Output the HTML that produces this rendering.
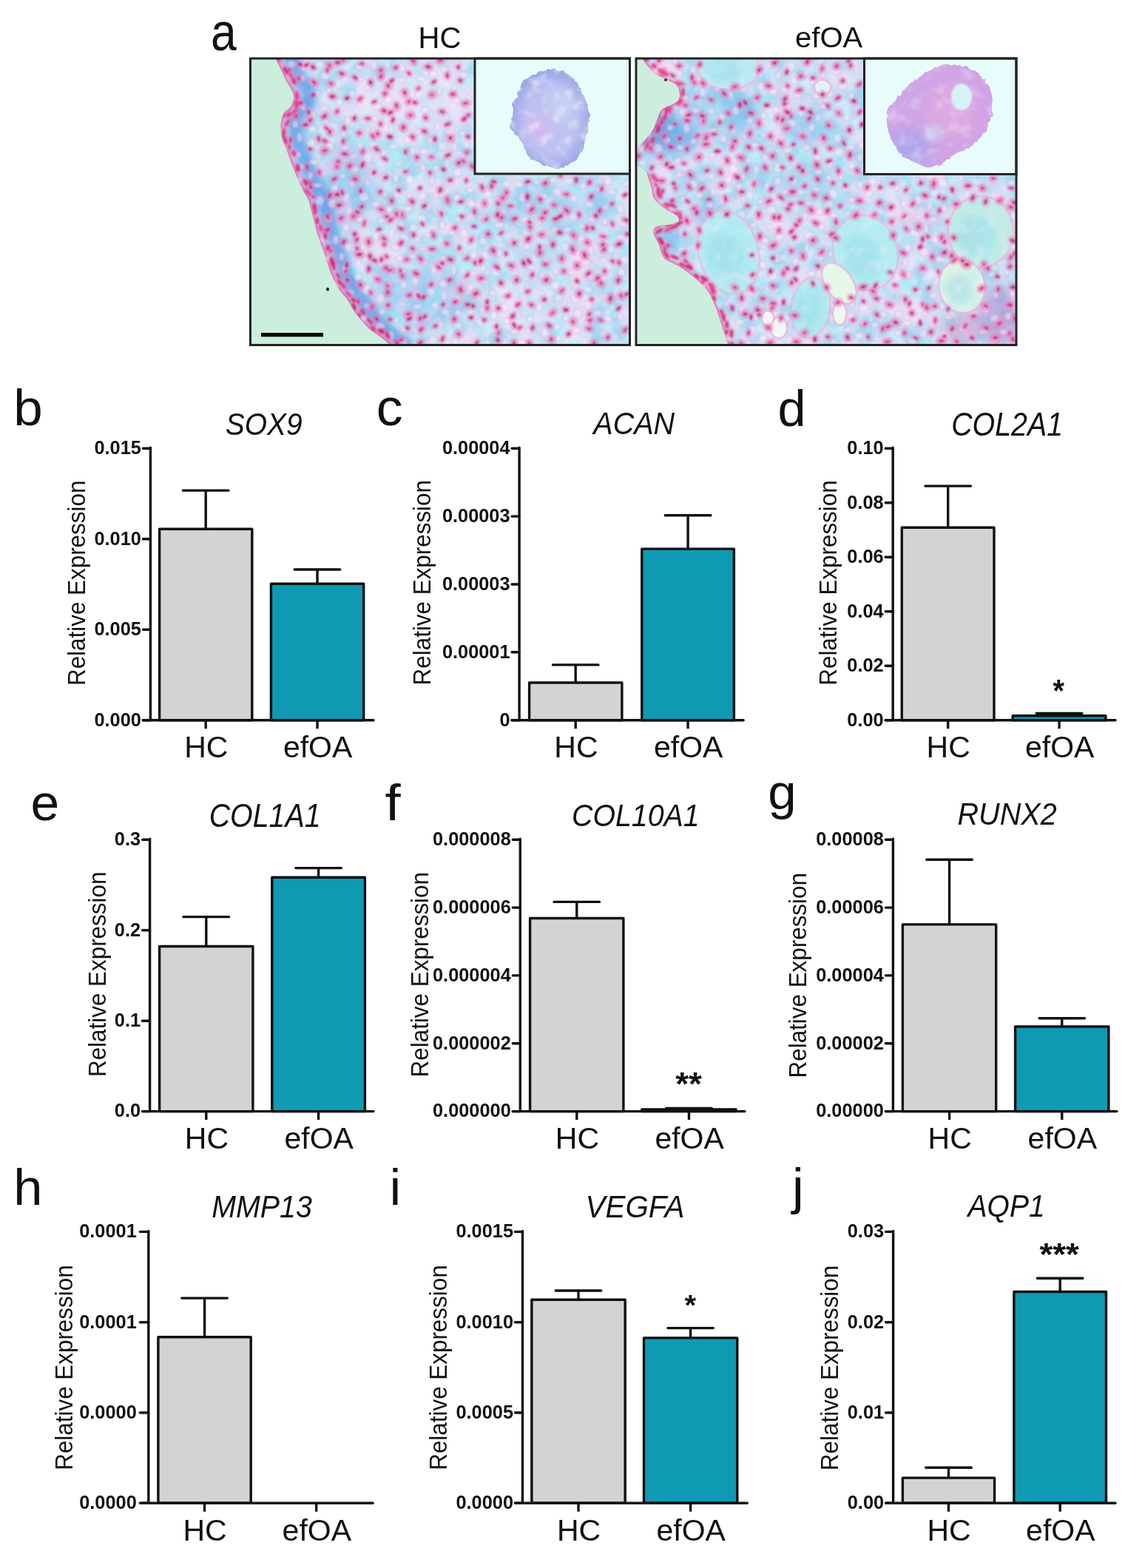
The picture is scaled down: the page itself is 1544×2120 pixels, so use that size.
<!DOCTYPE html>
<html><head><meta charset="utf-8"><title>Figure</title>
<style>
html,body{margin:0;padding:0;background:#fff;}
svg{display:block;}
text{font-family:'Liberation Sans', Arial, Helvetica, sans-serif;fill:#111;}
</style></head><body>
<svg width="1544" height="2120" viewBox="0 0 1544 2120">
<defs>
<filter id="mott1" x="0" y="0" width="1" height="1">
 <feTurbulence type="fractalNoise" baseFrequency="0.04" numOctaves="3" seed="4" result="n"/>
 <feColorMatrix in="n" type="matrix" values="0 0 0 0 0.42  0 0 0 0 0.84  0 0 0 0 0.95  3.6 0 0 0 -1.5"/>
</filter>
<filter id="mott2" x="0" y="0" width="1" height="1">
 <feTurbulence type="fractalNoise" baseFrequency="0.06" numOctaves="2" seed="9" result="n"/>
 <feColorMatrix in="n" type="matrix" values="0 0 0 0 0.90  0 0 0 0 0.88  0 0 0 0 0.98  0 3.0 0 0 -1.45"/>
</filter>
<filter id="mott3" x="0" y="0" width="1" height="1">
 <feTurbulence type="fractalNoise" baseFrequency="0.025" numOctaves="2" seed="21" result="n"/>
 <feColorMatrix in="n" type="matrix" values="0 0 0 0 0.95  0 0 0 0 0.74  0 0 0 0 0.91  0 0 3.0 0 -1.3"/>
</filter>
<filter id="mott4" x="0" y="0" width="1" height="1">
 <feTurbulence type="fractalNoise" baseFrequency="0.05" numOctaves="3" seed="33" result="n"/>
 <feColorMatrix in="n" type="matrix" values="0 0 0 0 0.76  0 0 0 0 0.74  0 0 0 0 0.95  0 0 0 2.8 -1.15"/>
</filter>
<filter id="bl1"><feGaussianBlur stdDeviation="0.9"/></filter>
<filter id="bl2" x="-20%" y="-20%" width="140%" height="140%"><feGaussianBlur stdDeviation="1.8"/></filter>
<filter id="bl4" x="-60%" y="-60%" width="220%" height="220%"><feGaussianBlur stdDeviation="4"/></filter>
<filter id="bl8" x="-80%" y="-80%" width="260%" height="260%"><feGaussianBlur stdDeviation="8"/></filter>
<clipPath id="cp1"><rect x="340" y="80" width="510" height="385" /></clipPath><clipPath id="ct1"><path d="M371 76C372.4 78.9 377.2 88.2 379.7 93.5C382.2 98.8 383.4 102.2 386.2 107.8C389 113.4 395.3 121.4 396.6 127.2C397.9 133 396.2 138.5 394 142.8C391.8 147.1 386 148.8 383.6 153.1C381.2 157.4 380.1 163.3 379.7 168.7C379.3 174.1 379.7 179.9 381 185.5C382.3 191.1 385.3 196.6 387.5 202.4C389.7 208.2 391.6 214.2 394 220.5C396.4 226.8 399 233.4 401.8 239.9C404.6 246.4 408.3 254.3 410.8 259.3C413.3 264.3 415.3 265.7 417 270C418.7 274.3 418.9 277.1 421 285C423.1 292.9 426.6 307.7 429.7 317.7C432.8 327.7 436.4 336.6 439.4 345.2C442.4 353.8 444.9 362.9 447.5 369.5C450.1 376.1 452.6 380.6 455 385C457.4 389.4 459.6 392.7 462 396C464.4 399.3 467 401 469.7 404.9C472.4 408.8 475.1 414.9 478 419.4C480.9 423.9 483.9 427.7 487.4 431.8C490.9 435.9 494.5 440.4 498.8 444.2C503.1 448 509.2 451.5 513.3 454.6C517.4 457.7 520.3 460.2 523.6 462.9C526.9 465.6 531.4 469.6 533 471L860 470L860 70L371 70Z"/></clipPath><clipPath id="cb1"><path d="M744.0 93.4L747.4 94.1L750.4 94.5L752.3 94.1L756.9 94.8L759.9 94.4L761.9 96.2L764.6 98.4L766.3 99.4L769.3 102.1L772.7 102.5L775.4 104.1L777.0 107.0L778.0 111.1L780.2 113.0L783.4 117.0L784.2 120.0L786.6 122.5L787.3 126.1L789.4 129.4L791.0 131.6L791.5 134.6L792.4 137.7L794.0 141.8L794.3 145.0L795.6 147.5L797.1 150.9L797.1 154.0L798.5 156.4L798.3 159.6L797.3 164.2L795.5 167.3L795.4 170.2L794.2 172.6L793.8 177.3L793.2 180.2L793.7 183.8L792.1 186.1L791.7 190.0L790.4 193.2L790.9 196.6L788.0 199.6L786.5 201.6L785.7 205.4L783.7 208.3L782.4 210.3L780.4 213.0L777.4 214.9L775.8 218.2L772.4 218.6L771.1 221.3L767.5 222.7L765.3 225.6L762.1 225.9L758.6 227.7L755.7 228.0L754.0 228.4L751.0 228.8L747.9 227.5L744.1 226.0L741.3 225.7L738.6 224.1L736.8 223.8L733.5 221.8L729.5 221.0L726.3 219.0L722.9 217.4L719.6 217.5L717.3 215.6L715.0 212.0L712.8 208.8L712.4 206.7L710.1 203.5L709.2 200.2L707.5 197.2L705.5 194.0L703.8 190.5L703.0 187.7L700.7 185.0L698.8 182.5L695.4 180.5L693.3 178.8L691.2 177.1L691.2 173.2L690.4 169.0L690.7 165.4L690.7 162.3L692.1 159.0L692.9 156.3L692.7 152.5L692.8 149.9L693.0 145.5L691.6 142.0L693.6 138.1L695.6 135.9L697.4 132.7L699.3 130.3L700.6 127.0L700.9 122.9L702.9 120.4L703.9 117.3L705.8 113.0L706.9 110.1L708.6 108.0L711.5 106.1L713.7 103.9L716.5 102.5L719.9 101.7L722.4 101.0L725.1 99.1L728.6 97.9L731.5 97.4L734.8 95.2L738.1 94.3L740.9 93.7Z"/></clipPath><clipPath id="cp2"><rect x="861.5" y="80" width="511.0" height="385" /></clipPath><clipPath id="ct2"><path d="M869.4 78C869.5 78.7 867.4 78.5 870 82C872.6 85.5 879.6 94.4 884.9 98.7C890.2 103 896.5 104.8 901.7 107.8C906.9 110.8 913.2 112.8 916 116.9C918.8 121 919.5 128.5 918.6 132.4C917.7 136.3 914.7 137.6 910.8 140.2C906.9 142.8 899 144.6 895.3 148C891.6 151.4 891 156.2 888.8 160.9C886.6 165.6 885.1 171.7 882.3 176.4C879.5 181.2 875.2 185.5 872 189.4C868.8 193.3 864.4 198.1 862.9 199.8L858 206L858 221L874.5 233.4C875.1 235.6 877.2 242.5 878.4 246.4C879.6 250.3 880.7 253.7 881.5 257C882.3 260.3 881.4 262.8 883 266C884.6 269.2 887.3 272.7 891 276C894.7 279.3 901 283 905 285.6C909 288.2 912.9 289.4 915 291.5C917.1 293.6 918.8 296.5 917.5 298.5C916.2 300.5 911.6 302.3 907 303.5C902.4 304.7 894 304.2 890 305.5C886 306.8 883.7 308.9 883 311.5C882.3 314.1 884.7 317.8 886 321C887.3 324.2 889.7 327.7 891 331C892.3 334.3 892.7 337.8 894 341C895.3 344.2 896.3 347.5 899 350C901.7 352.5 906.3 354 910 356C913.7 358 916.1 358.5 921.2 362C926.3 365.5 934.8 371.8 940.6 376.8C946.4 381.9 951.6 385.8 956.1 392.3C960.6 398.8 964.5 407.9 967.8 415.7C971 423.5 973 431.2 975.6 439C978.2 446.8 981.6 457.1 983.3 462.3C985 467.5 985.5 468.7 986 470L1380 470L1380 70L869.4 70Z"/></clipPath><clipPath id="lc985341"><ellipse cx="985" cy="341" rx="39" ry="56" transform="rotate(-15 985 341)"/></clipPath><clipPath id="lc1096416"><ellipse cx="1096" cy="416" rx="25" ry="40" transform="rotate(8 1096 416)"/></clipPath><clipPath id="lc1170341"><ellipse cx="1170" cy="341.5" rx="42" ry="50" transform="rotate(-18 1170 341.5)"/></clipPath><clipPath id="lc1326313"><ellipse cx="1326" cy="313.5" rx="43" ry="47" transform="rotate(0 1326 313.5)"/></clipPath><clipPath id="lc1300387"><ellipse cx="1300.4" cy="387" rx="30" ry="35" transform="rotate(-10 1300.4 387)"/></clipPath><clipPath id="lc98592"><ellipse cx="985" cy="92" rx="40" ry="28" transform="rotate(0 985 92)"/></clipPath><clipPath id="cb2"><path d="M1275.4 87.7L1278.0 87.0L1280.3 87.8L1284.2 88.2L1287.1 88.4L1290.0 88.6L1293.9 88.2L1296.7 88.8L1299.2 88.8L1303.3 88.5L1306.4 89.4L1309.4 90.5L1311.1 92.8L1315.1 93.9L1316.9 95.1L1320.7 96.9L1324.1 99.0L1324.9 101.6L1327.1 104.4L1329.9 106.2L1331.4 108.9L1333.6 111.8L1334.3 113.2L1337.2 115.6L1339.1 117.6L1340.4 121.4L1339.9 124.8L1341.0 127.1L1342.1 130.1L1342.4 134.4L1342.9 136.3L1342.8 139.7L1341.8 144.4L1341.9 146.8L1341.3 150.3L1340.6 154.6L1340.2 157.0L1340.2 159.7L1339.4 162.3L1338.3 166.1L1336.7 168.9L1335.2 171.6L1334.7 173.8L1333.1 176.9L1330.8 178.4L1329.1 181.1L1326.6 184.3L1323.9 185.5L1321.6 188.9L1319.8 190.8L1317.8 194.3L1315.3 195.9L1313.6 197.6L1310.0 198.9L1307.6 199.8L1304.8 201.5L1302.8 203.0L1299.9 205.5L1297.7 206.0L1294.5 207.4L1291.5 209.4L1289.6 211.8L1286.2 212.1L1283.9 213.9L1280.6 216.7L1278.1 218.4L1276.0 220.5L1274.2 220.8L1270.5 223.9L1268.1 223.9L1265.2 225.3L1261.6 225.5L1257.9 226.1L1254.8 227.3L1252.3 225.2L1249.1 223.9L1245.1 223.4L1242.4 222.5L1239.4 220.9L1235.4 219.8L1232.2 217.9L1230.5 216.8L1227.3 214.5L1223.9 213.5L1219.9 212.2L1219.2 208.8L1217.0 206.2L1214.3 204.1L1212.0 201.6L1211.5 198.2L1209.5 195.3L1207.8 192.5L1206.4 189.7L1204.8 186.0L1201.9 184.1L1201.2 180.6L1199.9 176.9L1200.0 173.5L1200.6 171.6L1200.2 168.3L1198.8 164.2L1199.8 161.0L1199.8 158.4L1200.0 154.5L1199.7 152.0L1199.9 148.8L1200.4 145.2L1202.8 143.3L1205.5 140.4L1207.6 138.6L1211.0 136.0L1212.2 133.5L1214.2 131.3L1217.0 128.7L1218.0 125.8L1220.2 123.4L1222.2 121.7L1224.4 118.6L1227.2 116.6L1230.0 114.2L1232.4 113.2L1234.2 110.7L1237.1 107.8L1239.2 107.0L1241.9 105.0L1244.4 102.5L1246.9 100.9L1250.7 98.4L1252.9 97.6L1255.1 95.0L1258.5 94.5L1260.4 93.0L1263.1 91.0L1267.3 89.8L1270.0 89.8L1272.4 88.7Z"/></clipPath></defs>
<rect width="1544" height="2120" fill="#fff"/>
<g clip-path="url(#cp1)"><rect x="340" y="80" width="510" height="385" fill="#cbeedd"/><g clip-path="url(#ct1)"><rect x="340" y="80" width="510" height="385" fill="#a4d4f0"/><rect x="340" y="80" width="510" height="385" filter="url(#mott1)"/><rect x="340" y="80" width="510" height="385" filter="url(#mott4)" opacity="0.7"/><rect x="340" y="80" width="510" height="385" filter="url(#mott2)" opacity="0.55"/><rect x="340" y="80" width="510" height="385" filter="url(#mott3)" opacity="0.7"/><ellipse cx="470" cy="250" rx="35" ry="60" fill="#4aa0e6" opacity="0.25" filter="url(#bl8)"/><ellipse cx="570" cy="400" rx="70" ry="40" fill="#4aa6e8" opacity="0.2" filter="url(#bl8)"/><ellipse cx="750" cy="280" rx="80" ry="30" fill="#5cc4ec" opacity="0.2" filter="url(#bl8)"/><ellipse cx="560" cy="140" rx="80" ry="45" fill="#f0e6f8" opacity="0.55" filter="url(#bl8)"/><ellipse cx="700" cy="410" rx="60" ry="35" fill="#f2e8f8" opacity="0.4" filter="url(#bl8)"/><ellipse cx="800" cy="350" rx="40" ry="30" fill="#f0d8f0" opacity="0.4" filter="url(#bl8)"/><ellipse cx="520" cy="330" rx="30" ry="30" fill="#f0e8f8" opacity="0.3" filter="url(#bl8)"/><path d="M371 76C372.4 78.9 377.2 88.2 379.7 93.5C382.2 98.8 383.4 102.2 386.2 107.8C389 113.4 395.3 121.4 396.6 127.2C397.9 133 396.2 138.5 394 142.8C391.8 147.1 386 148.8 383.6 153.1C381.2 157.4 380.1 163.3 379.7 168.7C379.3 174.1 379.7 179.9 381 185.5C382.3 191.1 385.3 196.6 387.5 202.4C389.7 208.2 391.6 214.2 394 220.5C396.4 226.8 399 233.4 401.8 239.9C404.6 246.4 408.3 254.3 410.8 259.3C413.3 264.3 415.3 265.7 417 270C418.7 274.3 418.9 277.1 421 285C423.1 292.9 426.6 307.7 429.7 317.7C432.8 327.7 436.4 336.6 439.4 345.2C442.4 353.8 444.9 362.9 447.5 369.5C450.1 376.1 452.6 380.6 455 385C457.4 389.4 459.6 392.7 462 396C464.4 399.3 467 401 469.7 404.9C472.4 408.8 475.1 414.9 478 419.4C480.9 423.9 483.9 427.7 487.4 431.8C490.9 435.9 494.5 440.4 498.8 444.2C503.1 448 509.2 451.5 513.3 454.6C517.4 457.7 520.3 460.2 523.6 462.9C526.9 465.6 531.4 469.6 533 471" transform="translate(20,0)" stroke="#3a88e2" stroke-width="20" fill="none" opacity="0.6" filter="url(#bl4)"/><path d="M371 76C372.4 78.9 377.2 88.2 379.7 93.5C382.2 98.8 383.4 102.2 386.2 107.8C389 113.4 395.3 121.4 396.6 127.2C397.9 133 396.2 138.5 394 142.8C391.8 147.1 386 148.8 383.6 153.1C381.2 157.4 380.1 163.3 379.7 168.7C379.3 174.1 379.7 179.9 381 185.5C382.3 191.1 385.3 196.6 387.5 202.4C389.7 208.2 391.6 214.2 394 220.5C396.4 226.8 399 233.4 401.8 239.9C404.6 246.4 408.3 254.3 410.8 259.3C413.3 264.3 415.3 265.7 417 270C418.7 274.3 418.9 277.1 421 285C423.1 292.9 426.6 307.7 429.7 317.7C432.8 327.7 436.4 336.6 439.4 345.2C442.4 353.8 444.9 362.9 447.5 369.5C450.1 376.1 452.6 380.6 455 385C457.4 389.4 459.6 392.7 462 396C464.4 399.3 467 401 469.7 404.9C472.4 408.8 475.1 414.9 478 419.4C480.9 423.9 483.9 427.7 487.4 431.8C490.9 435.9 494.5 440.4 498.8 444.2C503.1 448 509.2 451.5 513.3 454.6C517.4 457.7 520.3 460.2 523.6 462.9C526.9 465.6 531.4 469.6 533 471" transform="translate(5,0)" stroke="#d7a0e6" stroke-width="8" fill="none" opacity="0.6" filter="url(#bl2)"/><path d="M371 76C372.4 78.9 377.2 88.2 379.7 93.5C382.2 98.8 383.4 102.2 386.2 107.8C389 113.4 395.3 121.4 396.6 127.2C397.9 133 396.2 138.5 394 142.8C391.8 147.1 386 148.8 383.6 153.1C381.2 157.4 380.1 163.3 379.7 168.7C379.3 174.1 379.7 179.9 381 185.5C382.3 191.1 385.3 196.6 387.5 202.4C389.7 208.2 391.6 214.2 394 220.5C396.4 226.8 399 233.4 401.8 239.9C404.6 246.4 408.3 254.3 410.8 259.3C413.3 264.3 415.3 265.7 417 270C418.7 274.3 418.9 277.1 421 285C423.1 292.9 426.6 307.7 429.7 317.7C432.8 327.7 436.4 336.6 439.4 345.2C442.4 353.8 444.9 362.9 447.5 369.5C450.1 376.1 452.6 380.6 455 385C457.4 389.4 459.6 392.7 462 396C464.4 399.3 467 401 469.7 404.9C472.4 408.8 475.1 414.9 478 419.4C480.9 423.9 483.9 427.7 487.4 431.8C490.9 435.9 494.5 440.4 498.8 444.2C503.1 448 509.2 451.5 513.3 454.6C517.4 457.7 520.3 460.2 523.6 462.9C526.9 465.6 531.4 469.6 533 471" stroke="#e8589a" stroke-width="4" fill="none" opacity="0.8" filter="url(#bl1)"/><g fill="#f2f2fc" stroke="#f2a6d6" stroke-width="1.6" opacity="0.5" filter="url(#bl1)"><ellipse cx="570.7" cy="295.5" rx="6.1" ry="5.6"/><ellipse cx="542.4" cy="304.4" rx="4.1" ry="5.1"/><ellipse cx="580.4" cy="317.7" rx="6.2" ry="3.2"/><ellipse cx="563.1" cy="323.7" rx="5.6" ry="3.2"/><ellipse cx="552.3" cy="282.9" rx="5.9" ry="4.3"/><ellipse cx="572" cy="337.3" rx="3.2" ry="3.1"/><ellipse cx="570.9" cy="265.3" rx="6.1" ry="5.3"/><ellipse cx="584.2" cy="245" rx="3.5" ry="5.3"/><ellipse cx="525.7" cy="282.9" rx="5" ry="4.6"/><ellipse cx="571.5" cy="226.4" rx="4.2" ry="3.9"/><ellipse cx="520.2" cy="262.6" rx="3.8" ry="3.1"/><ellipse cx="546.7" cy="322.4" rx="5.8" ry="5.8"/><ellipse cx="573.8" cy="204.1" rx="5.6" ry="4.6"/><ellipse cx="553.2" cy="265" rx="3.8" ry="3.9"/><ellipse cx="558.8" cy="308.1" rx="5.8" ry="5.6"/><ellipse cx="589.7" cy="227" rx="3.7" ry="4.9"/><ellipse cx="590.2" cy="264" rx="3.3" ry="4.1"/><ellipse cx="536.4" cy="263.5" rx="4" ry="4.6"/><ellipse cx="601.7" cy="331.3" rx="5.8" ry="4.1"/><ellipse cx="606" cy="247.1" rx="6" ry="4.5"/><ellipse cx="618.7" cy="233.1" rx="6.2" ry="5.8"/><ellipse cx="597.9" cy="197.5" rx="6" ry="5.9"/><ellipse cx="557.6" cy="204.1" rx="3.3" ry="5.7"/><ellipse cx="538.9" cy="221.2" rx="4" ry="3.1"/><ellipse cx="634.3" cy="240.7" rx="6" ry="3"/><ellipse cx="535.7" cy="334.4" rx="6.1" ry="4"/><ellipse cx="597.8" cy="304.4" rx="4" ry="5.7"/><ellipse cx="586.8" cy="364" rx="4.1" ry="6.2"/><ellipse cx="566.9" cy="177.6" rx="4.9" ry="3.7"/><ellipse cx="532" cy="198.3" rx="5" ry="3.5"/><ellipse cx="554" cy="242.8" rx="5.6" ry="5.9"/><ellipse cx="561.2" cy="380.1" rx="4.4" ry="6.5"/><ellipse cx="618.4" cy="267.9" rx="4.8" ry="5.8"/><ellipse cx="596.8" cy="288" rx="4.7" ry="5.9"/><ellipse cx="545" cy="366.9" rx="4.8" ry="3.3"/><ellipse cx="529.5" cy="313.9" rx="3.1" ry="5"/><ellipse cx="579.4" cy="279.5" rx="3.8" ry="5.2"/><ellipse cx="518.1" cy="348.9" rx="3.9" ry="5.4"/><ellipse cx="613.9" cy="366.2" rx="3.4" ry="5.2"/><ellipse cx="534.9" cy="241.1" rx="3.6" ry="6"/><ellipse cx="558.3" cy="347" rx="5.3" ry="3.3"/><ellipse cx="600.6" cy="351.7" rx="6.1" ry="6.4"/><ellipse cx="599.4" cy="383.8" rx="6" ry="5.4"/><ellipse cx="619.9" cy="295.8" rx="4.2" ry="4.9"/><ellipse cx="508.2" cy="276.4" rx="6.3" ry="3.5"/><ellipse cx="626.1" cy="211.1" rx="3.4" ry="5.5"/><ellipse cx="635.4" cy="257.2" rx="4.7" ry="3.2"/><ellipse cx="625.4" cy="180.4" rx="4.7" ry="3.1"/><ellipse cx="508.9" cy="318.9" rx="4.5" ry="5.4"/><ellipse cx="573.8" cy="354.2" rx="4.4" ry="3.5"/><ellipse cx="493.9" cy="342" rx="3.3" ry="4.4"/><ellipse cx="515.6" cy="298" rx="5.8" ry="3.5"/><ellipse cx="484.6" cy="355.1" rx="3.1" ry="5.4"/><ellipse cx="637.9" cy="275.6" rx="5.5" ry="4.7"/><ellipse cx="491.6" cy="266.1" rx="6.4" ry="6.4"/><ellipse cx="581.6" cy="189.6" rx="4" ry="4"/><ellipse cx="618.3" cy="404.3" rx="4.5" ry="5.6"/><ellipse cx="485.6" cy="321.8" rx="5.8" ry="6.5"/><ellipse cx="591.9" cy="171.3" rx="3" ry="5.8"/><ellipse cx="554.3" cy="152.7" rx="4.4" ry="5.4"/><ellipse cx="604.6" cy="148.1" rx="3" ry="4.2"/><ellipse cx="574.9" cy="148.8" rx="5.6" ry="4.5"/><ellipse cx="566.4" cy="126.6" rx="4.8" ry="5.8"/><ellipse cx="659.3" cy="262.5" rx="5.4" ry="4.3"/><ellipse cx="509.5" cy="372.9" rx="4.8" ry="4"/><ellipse cx="667.2" cy="244.7" rx="3.9" ry="4"/><ellipse cx="563.9" cy="398" rx="6.1" ry="6.1"/><ellipse cx="552.1" cy="188.6" rx="5.5" ry="5"/><ellipse cx="646.1" cy="401.4" rx="3.8" ry="5.2"/><ellipse cx="629.5" cy="152.1" rx="3.1" ry="4.9"/><ellipse cx="608.8" cy="180.5" rx="6.2" ry="4.2"/><ellipse cx="621.6" cy="337.9" rx="3.6" ry="6.3"/><ellipse cx="535.5" cy="146.3" rx="4.6" ry="5.1"/><ellipse cx="588.2" cy="412.9" rx="4.5" ry="3.9"/><ellipse cx="619.7" cy="388" rx="3.4" ry="6.4"/><ellipse cx="582.7" cy="393.5" rx="5.4" ry="6"/><ellipse cx="487.1" cy="297" rx="6.5" ry="3.9"/><ellipse cx="637.6" cy="291.9" rx="5.4" ry="3.5"/><ellipse cx="544.5" cy="172.3" rx="3.7" ry="3.4"/><ellipse cx="653.8" cy="293.7" rx="6.1" ry="3.1"/><ellipse cx="468" cy="266.8" rx="4.6" ry="6.3"/><ellipse cx="604.2" cy="220.1" rx="3.8" ry="5.5"/><ellipse cx="653.9" cy="380.5" rx="5.5" ry="3.3"/><ellipse cx="611.1" cy="313.5" rx="5.2" ry="4.5"/><ellipse cx="518.8" cy="239.6" rx="4.8" ry="5.3"/><ellipse cx="496" cy="391.4" rx="6" ry="6.4"/><ellipse cx="467.7" cy="307.8" rx="5" ry="5.1"/><ellipse cx="649.6" cy="246.5" rx="3.7" ry="3.8"/><ellipse cx="627.2" cy="315.8" rx="5.7" ry="6.1"/><ellipse cx="630.6" cy="195.7" rx="3.5" ry="6.2"/><ellipse cx="518.2" cy="206.7" rx="3.1" ry="6.1"/><ellipse cx="527.3" cy="385.7" rx="3.1" ry="6.4"/><ellipse cx="677.1" cy="269.1" rx="6.4" ry="3.3"/><ellipse cx="504.1" cy="195.5" rx="5.9" ry="3.8"/><ellipse cx="521.6" cy="173.1" rx="3.5" ry="5.9"/><ellipse cx="511.9" cy="144.6" rx="6.5" ry="3.8"/><ellipse cx="679.2" cy="289.2" rx="6.3" ry="6"/><ellipse cx="543.6" cy="108.2" rx="4.9" ry="3.9"/><ellipse cx="637.6" cy="369.2" rx="5.6" ry="3.4"/><ellipse cx="653.4" cy="362.2" rx="3.1" ry="5.1"/><ellipse cx="544.2" cy="411.3" rx="3.4" ry="3.2"/><ellipse cx="496.9" cy="247.2" rx="3.2" ry="4.9"/><ellipse cx="477.4" cy="411.8" rx="3.8" ry="4.3"/><ellipse cx="593.8" cy="123.8" rx="3.4" ry="4.6"/><ellipse cx="502.9" cy="232" rx="4.3" ry="3.8"/><ellipse cx="655.7" cy="345.2" rx="4.4" ry="6.5"/><ellipse cx="564.5" cy="414.4" rx="5.4" ry="3.6"/><ellipse cx="543.6" cy="127.4" rx="3.3" ry="4.7"/><ellipse cx="613.9" cy="118.5" rx="3.1" ry="5"/><ellipse cx="639.5" cy="344.4" rx="5.4" ry="5.9"/><ellipse cx="490.7" cy="165" rx="4.3" ry="3.9"/><ellipse cx="569.4" cy="106.1" rx="5.6" ry="4.2"/><ellipse cx="707" cy="266.6" rx="5.1" ry="6.5"/><ellipse cx="505.9" cy="179.2" rx="5.8" ry="6.1"/><ellipse cx="473.5" cy="396" rx="5.6" ry="4.2"/><ellipse cx="514.6" cy="403.3" rx="5.5" ry="6.2"/><ellipse cx="682.9" cy="393.3" rx="5.5" ry="3.9"/><ellipse cx="684.7" cy="249.1" rx="4.9" ry="3.8"/><ellipse cx="594.7" cy="439.3" rx="4.8" ry="3.9"/><ellipse cx="619.1" cy="422.6" rx="4.7" ry="4.2"/><ellipse cx="585.7" cy="460.6" rx="5.8" ry="6.1"/><ellipse cx="601" cy="94.4" rx="4.8" ry="5.3"/><ellipse cx="484.4" cy="374.8" rx="5.2" ry="5.7"/><ellipse cx="472.1" cy="285.2" rx="3.2" ry="5.7"/><ellipse cx="497.2" cy="118.7" rx="4.6" ry="3.4"/><ellipse cx="456.2" cy="382.9" rx="3.5" ry="5.8"/><ellipse cx="540.9" cy="349.7" rx="5.3" ry="3.7"/><ellipse cx="716" cy="281" rx="5.3" ry="6.2"/><ellipse cx="554.4" cy="428.7" rx="3.3" ry="6.1"/><ellipse cx="465.8" cy="363.7" rx="3.5" ry="5.8"/><ellipse cx="692.7" cy="307.5" rx="3.5" ry="3.1"/><ellipse cx="516.9" cy="421.5" rx="4.5" ry="4"/><ellipse cx="615.8" cy="462.7" rx="4.8" ry="4.6"/><ellipse cx="476" cy="247.9" rx="3.5" ry="5.3"/><ellipse cx="692.5" cy="279.7" rx="3.5" ry="3.8"/><ellipse cx="527.6" cy="368" rx="3.1" ry="6.1"/><ellipse cx="535.7" cy="432.7" rx="3.9" ry="3.1"/><ellipse cx="479.1" cy="228.6" rx="5.9" ry="4.5"/><ellipse cx="497.5" cy="213.2" rx="6.4" ry="6.5"/><ellipse cx="616.4" cy="135.4" rx="4.9" ry="3.9"/><ellipse cx="674.2" cy="304.5" rx="6.4" ry="3.7"/><ellipse cx="461.9" cy="347.3" rx="3.3" ry="5"/><ellipse cx="652.8" cy="326.2" rx="4.4" ry="5.1"/><ellipse cx="638.1" cy="125.9" rx="4.4" ry="3.7"/><ellipse cx="491.5" cy="430.3" rx="3.9" ry="4.1"/><ellipse cx="674.5" cy="322" rx="5.8" ry="5.7"/><ellipse cx="555.7" cy="83.3" rx="5.8" ry="5.6"/><ellipse cx="545.7" cy="384.9" rx="4.4" ry="5.3"/><ellipse cx="694.3" cy="377.6" rx="4.1" ry="3.6"/><ellipse cx="484.1" cy="106.9" rx="6.1" ry="3.8"/><ellipse cx="737.5" cy="284.8" rx="3.4" ry="4.7"/><ellipse cx="526.6" cy="115.6" rx="4.6" ry="3.8"/><ellipse cx="444.1" cy="296.4" rx="5.1" ry="4.7"/><ellipse cx="486.6" cy="142.2" rx="3.8" ry="3.5"/><ellipse cx="710" cy="296.7" rx="4.9" ry="4.7"/><ellipse cx="728.5" cy="300.2" rx="4" ry="3.7"/><ellipse cx="701.3" cy="407.7" rx="4.9" ry="5.3"/><ellipse cx="574.6" cy="86.3" rx="3.6" ry="5.2"/><ellipse cx="524.3" cy="133.8" rx="5.1" ry="6"/><ellipse cx="524.5" cy="87.1" rx="3.1" ry="6.3"/><ellipse cx="458.8" cy="137.9" rx="4.8" ry="5.1"/><ellipse cx="701.6" cy="249.3" rx="6.1" ry="4.8"/><ellipse cx="670.4" cy="367.3" rx="6.2" ry="6.3"/><ellipse cx="465.3" cy="180.3" rx="3.8" ry="5.9"/><ellipse cx="752.8" cy="259.6" rx="6.3" ry="5"/><ellipse cx="514.9" cy="103.2" rx="3.5" ry="5"/><ellipse cx="734" cy="265.3" rx="6.5" ry="4.1"/><ellipse cx="505.9" cy="89" rx="4.3" ry="5.5"/><ellipse cx="452.5" cy="255.5" rx="5.3" ry="6.1"/><ellipse cx="712.7" cy="388.5" rx="3" ry="5"/><ellipse cx="636.4" cy="387.8" rx="4.1" ry="5.1"/><ellipse cx="627.1" cy="101.5" rx="6.3" ry="4.6"/><ellipse cx="428.9" cy="250.6" rx="5.9" ry="3.2"/><ellipse cx="438.3" cy="145.9" rx="5.6" ry="3.8"/><ellipse cx="448.8" cy="274.5" rx="5.2" ry="6.4"/><ellipse cx="712.9" cy="316.6" rx="6" ry="4.3"/><ellipse cx="674.6" cy="341.2" rx="4.2" ry="5.7"/><ellipse cx="750.4" cy="310.7" rx="5.2" ry="3.8"/><ellipse cx="577.3" cy="429.2" rx="3.9" ry="5.7"/><ellipse cx="478.7" cy="211.3" rx="4.6" ry="3.1"/><ellipse cx="488.1" cy="181" rx="5" ry="6.5"/><ellipse cx="564.4" cy="446.8" rx="4.8" ry="5.2"/><ellipse cx="725.5" cy="246.4" rx="3.6" ry="3.3"/><ellipse cx="452.8" cy="224.4" rx="6.4" ry="3.2"/><ellipse cx="470.8" cy="333.5" rx="4.7" ry="6.1"/><ellipse cx="619.1" cy="440.1" rx="6" ry="4.2"/><ellipse cx="470" cy="162.4" rx="4" ry="5.3"/><ellipse cx="618.7" cy="86.9" rx="5" ry="5.2"/><ellipse cx="747.3" cy="327.6" rx="3.1" ry="5.6"/><ellipse cx="696.8" cy="361.5" rx="4.1" ry="4.8"/><ellipse cx="443.3" cy="350.1" rx="3.5" ry="4.2"/><ellipse cx="643" cy="460.2" rx="4.4" ry="3.1"/><ellipse cx="506.7" cy="160.3" rx="4.8" ry="4.2"/><ellipse cx="453.8" cy="323.9" rx="3.9" ry="5.8"/><ellipse cx="439.7" cy="163.7" rx="5.7" ry="3.3"/><ellipse cx="690.9" cy="327.6" rx="3.3" ry="3.7"/><ellipse cx="466.2" cy="200.2" rx="4.7" ry="3.7"/><ellipse cx="747.4" cy="243.6" rx="4.9" ry="4.1"/><ellipse cx="602" cy="421.7" rx="4.8" ry="4.2"/><ellipse cx="732.8" cy="372.8" rx="3.5" ry="4.8"/><ellipse cx="445" cy="122.5" rx="4.8" ry="3.1"/><ellipse cx="711.9" cy="333.2" rx="4.6" ry="5.5"/><ellipse cx="733.1" cy="335.7" rx="4.1" ry="4"/><ellipse cx="666.1" cy="396.1" rx="4" ry="3.9"/><ellipse cx="422.5" cy="174.5" rx="5.9" ry="4.4"/><ellipse cx="716.6" cy="431" rx="4.2" ry="4.4"/><ellipse cx="466.1" cy="106.3" rx="4.5" ry="5.5"/><ellipse cx="767.4" cy="310.6" rx="5.6" ry="3.9"/><ellipse cx="649.3" cy="435.7" rx="4.8" ry="6.3"/><ellipse cx="432.6" cy="270.9" rx="5.7" ry="6.4"/><ellipse cx="733.5" cy="397.5" rx="3.2" ry="3.1"/><ellipse cx="541.4" cy="91.7" rx="5.8" ry="5.8"/><ellipse cx="755.1" cy="402.3" rx="5.4" ry="5.4"/><ellipse cx="486.4" cy="91" rx="5.3" ry="3.9"/><ellipse cx="446.1" cy="198.6" rx="5.4" ry="5.7"/><ellipse cx="681.5" cy="416.2" rx="6.4" ry="5.2"/><ellipse cx="636.3" cy="423.4" rx="3.7" ry="5"/><ellipse cx="546.9" cy="445" rx="4.1" ry="4.3"/><ellipse cx="787.9" cy="305.9" rx="5.4" ry="3.3"/><ellipse cx="436.5" cy="322.6" rx="3.7" ry="5.4"/><ellipse cx="585.8" cy="100.1" rx="4.9" ry="4.8"/><ellipse cx="589.8" cy="81" rx="5.5" ry="3.3"/><ellipse cx="669" cy="445.8" rx="3.1" ry="3.5"/><ellipse cx="717.8" cy="361.5" rx="6.2" ry="3.2"/><ellipse cx="758.8" cy="283.1" rx="4.2" ry="3"/><ellipse cx="764.1" cy="333.4" rx="5.4" ry="5.5"/><ellipse cx="684.9" cy="434.2" rx="3.9" ry="4.1"/><ellipse cx="403.4" cy="243.9" rx="4.7" ry="4.2"/><ellipse cx="439.3" cy="102.6" rx="6" ry="5.7"/><ellipse cx="736.7" cy="449.7" rx="5.5" ry="6.1"/><ellipse cx="514.3" cy="441.4" rx="6.1" ry="5.1"/><ellipse cx="729" cy="416.1" rx="4.8" ry="5.4"/><ellipse cx="423.9" cy="110.4" rx="5.4" ry="4.8"/><ellipse cx="775.2" cy="292.1" rx="6.2" ry="5.6"/><ellipse cx="429.2" cy="125.9" rx="3.6" ry="3.7"/><ellipse cx="432.2" cy="87.5" rx="5.5" ry="5.9"/><ellipse cx="409.3" cy="144.9" rx="3.8" ry="4.8"/><ellipse cx="410.1" cy="89.5" rx="4" ry="6.4"/><ellipse cx="544.4" cy="462.7" rx="6.1" ry="5.8"/><ellipse cx="398.4" cy="129.9" rx="4.1" ry="5.2"/><ellipse cx="653" cy="418.5" rx="4" ry="5.2"/><ellipse cx="700.1" cy="426.3" rx="5.1" ry="4.2"/><ellipse cx="600.4" cy="400.2" rx="3.9" ry="6.2"/><ellipse cx="528.7" cy="452.7" rx="3.5" ry="5.3"/><ellipse cx="392" cy="104.6" rx="3.8" ry="3.3"/><ellipse cx="449.1" cy="180.1" rx="3.7" ry="3.6"/><ellipse cx="487.2" cy="197.4" rx="3.2" ry="6.1"/><ellipse cx="739.2" cy="353.7" rx="3.9" ry="5.7"/><ellipse cx="779.6" cy="341.7" rx="5.9" ry="3.8"/><ellipse cx="749.2" cy="420.7" rx="6.3" ry="3.7"/><ellipse cx="682.7" cy="462.7" rx="3.2" ry="4.9"/><ellipse cx="426.6" cy="299.2" rx="4.7" ry="6.2"/><ellipse cx="714.7" cy="446.9" rx="4.5" ry="4.2"/><ellipse cx="399.4" cy="168" rx="4" ry="5"/><ellipse cx="750.8" cy="385.4" rx="6.1" ry="6.1"/><ellipse cx="495.9" cy="413.4" rx="3.8" ry="3.9"/><ellipse cx="422.3" cy="155" rx="5.1" ry="4.9"/><ellipse cx="765.8" cy="430.3" rx="4.9" ry="4.5"/><ellipse cx="466" cy="80.7" rx="4.5" ry="5.1"/><ellipse cx="776.2" cy="268.7" rx="3.8" ry="4.7"/><ellipse cx="706.3" cy="463.2" rx="6.4" ry="4.6"/><ellipse cx="449.2" cy="89.5" rx="5.3" ry="3"/><ellipse cx="432.1" cy="338.1" rx="4.4" ry="4.3"/><ellipse cx="436.5" cy="233.3" rx="4.9" ry="3.2"/><ellipse cx="770.2" cy="244.9" rx="5.1" ry="5"/><ellipse cx="380.3" cy="177.6" rx="5.4" ry="4.4"/><ellipse cx="614.5" cy="198.6" rx="3.7" ry="5.2"/><ellipse cx="796.7" cy="276.8" rx="6.1" ry="4"/><ellipse cx="695.8" cy="448.5" rx="6.4" ry="3.2"/><ellipse cx="779" cy="385" rx="4.3" ry="5.3"/><ellipse cx="801.2" cy="296.7" rx="6.2" ry="3.5"/><ellipse cx="419.8" cy="237.4" rx="3.3" ry="4.8"/><ellipse cx="658.6" cy="464" rx="3.5" ry="5.8"/><ellipse cx="788.4" cy="251.6" rx="4.5" ry="4"/><ellipse cx="420.7" cy="193.4" rx="5.4" ry="6.4"/><ellipse cx="751.1" cy="367.2" rx="3" ry="5.4"/><ellipse cx="424.3" cy="219.3" rx="6.2" ry="3.9"/><ellipse cx="755.4" cy="457.6" rx="4.1" ry="5.1"/><ellipse cx="404.8" cy="185.5" rx="3.1" ry="6.1"/><ellipse cx="384.5" cy="200" rx="5.9" ry="4.6"/><ellipse cx="786.9" cy="323.5" rx="5.8" ry="3.5"/><ellipse cx="394" cy="86.7" rx="5.3" ry="4.7"/><ellipse cx="402.4" cy="208.9" rx="4.4" ry="3.4"/><ellipse cx="814.2" cy="320.3" rx="4" ry="5.5"/><ellipse cx="667.4" cy="426.4" rx="4.6" ry="5.8"/><ellipse cx="476" cy="127.1" rx="4.3" ry="5.3"/><ellipse cx="406.2" cy="225.4" rx="6.2" ry="3"/><ellipse cx="791.8" cy="354.2" rx="6.1" ry="5.2"/><ellipse cx="773.2" cy="368.4" rx="5.4" ry="3.3"/><ellipse cx="389.8" cy="155.1" rx="3" ry="5.4"/><ellipse cx="779.7" cy="447.1" rx="6" ry="4.3"/><ellipse cx="408.5" cy="105.9" rx="3.7" ry="3.8"/><ellipse cx="759.7" cy="351.9" rx="3.5" ry="5.9"/><ellipse cx="817.7" cy="280.4" rx="3.2" ry="3.2"/><ellipse cx="564.6" cy="464.6" rx="6.2" ry="3.3"/><ellipse cx="735.5" cy="316.8" rx="6.3" ry="5.7"/><ellipse cx="817.8" cy="299.2" rx="4" ry="5.3"/><ellipse cx="463.2" cy="238" rx="4.1" ry="3"/><ellipse cx="798.6" cy="338.8" rx="3.3" ry="5.6"/><ellipse cx="778.4" cy="403.3" rx="6.4" ry="6.1"/><ellipse cx="793.6" cy="438.2" rx="4.7" ry="5.6"/><ellipse cx="799" cy="375.4" rx="6.2" ry="3.5"/><ellipse cx="824.9" cy="336.5" rx="6.1" ry="5.4"/><ellipse cx="795.2" cy="412" rx="5.6" ry="6.1"/><ellipse cx="781.2" cy="423.8" rx="5.6" ry="5.9"/><ellipse cx="839.6" cy="320.7" rx="6.3" ry="3.6"/><ellipse cx="822.3" cy="431.3" rx="6" ry="4.1"/><ellipse cx="815.7" cy="351.9" rx="4.6" ry="3.8"/><ellipse cx="815.5" cy="378" rx="5" ry="5.9"/><ellipse cx="815.6" cy="451.5" rx="4.9" ry="3.7"/><ellipse cx="808.6" cy="255.8" rx="3.3" ry="3.5"/><ellipse cx="790.9" cy="460.8" rx="3.5" ry="5.3"/><ellipse cx="845" cy="351.4" rx="6.1" ry="5.6"/><ellipse cx="838.8" cy="282.5" rx="4.8" ry="6.4"/><ellipse cx="838.6" cy="428.2" rx="3.2" ry="4.5"/><ellipse cx="819.6" cy="400.6" rx="4.7" ry="3.5"/><ellipse cx="753.3" cy="441.4" rx="5" ry="4.2"/><ellipse cx="840.5" cy="368.2" rx="5.6" ry="5.2"/><ellipse cx="795.4" cy="391.9" rx="5.6" ry="4.6"/><ellipse cx="843" cy="303" rx="4.7" ry="4.2"/><ellipse cx="836.7" cy="396.3" rx="3.6" ry="5.8"/><ellipse cx="827.2" cy="260.4" rx="6.4" ry="4.4"/><ellipse cx="808" cy="423.2" rx="6.3" ry="3.5"/><ellipse cx="848" cy="248.6" rx="5.2" ry="3.6"/><ellipse cx="842.5" cy="452.7" rx="3.5" ry="3.8"/><ellipse cx="821.7" cy="244.4" rx="5.3" ry="6.2"/><ellipse cx="849.8" cy="268.8" rx="3.6" ry="4.8"/></g><g fill="#f27aba" opacity="0.62" filter="url(#bl2)"><ellipse cx="439" cy="203.7" rx="7.8" ry="6.4" transform="rotate(162 439 203.7)"/><ellipse cx="430.9" cy="187.6" rx="6.9" ry="4.8" transform="rotate(80 430.9 187.6)"/><ellipse cx="419.3" cy="201.5" rx="4.9" ry="4.1" transform="rotate(12 419.3 201.5)"/><ellipse cx="413.1" cy="168.6" rx="6.8" ry="5.2" transform="rotate(171 413.1 168.6)"/><ellipse cx="392.7" cy="189.4" rx="6.3" ry="4.3" transform="rotate(91 392.7 189.4)"/><ellipse cx="415" cy="225.9" rx="6.5" ry="4.4" transform="rotate(72 415 225.9)"/><ellipse cx="431.5" cy="233.1" rx="6.2" ry="5.4" transform="rotate(60 431.5 233.1)"/><ellipse cx="455.3" cy="225.2" rx="6.3" ry="6" transform="rotate(88 455.3 225.2)"/><ellipse cx="423.4" cy="265.9" rx="5.6" ry="4.8" transform="rotate(8 423.4 265.9)"/><ellipse cx="400.3" cy="156.9" rx="6" ry="5.4" transform="rotate(126 400.3 156.9)"/><ellipse cx="443.2" cy="293.4" rx="7.9" ry="6.2" transform="rotate(77 443.2 293.4)"/><ellipse cx="442.5" cy="310.9" rx="7.4" ry="5.7" transform="rotate(152 442.5 310.9)"/><ellipse cx="452.1" cy="241.9" rx="6.7" ry="5" transform="rotate(140 452.1 241.9)"/><ellipse cx="464.2" cy="191.2" rx="5.7" ry="4.8" transform="rotate(101 464.2 191.2)"/><ellipse cx="446.9" cy="339" rx="6.7" ry="5.7" transform="rotate(156 446.9 339)"/><ellipse cx="464.6" cy="327.1" rx="7.2" ry="5.6" transform="rotate(129 464.6 327.1)"/><ellipse cx="480" cy="242.1" rx="7.5" ry="6.1" transform="rotate(10 480 242.1)"/><ellipse cx="445.9" cy="264.5" rx="7.3" ry="6" transform="rotate(118 445.9 264.5)"/><ellipse cx="438.5" cy="157.2" rx="6.9" ry="5.5" transform="rotate(133 438.5 157.2)"/><ellipse cx="458.6" cy="277.3" rx="8" ry="6" transform="rotate(164 458.6 277.3)"/><ellipse cx="479.5" cy="316.6" rx="5.9" ry="5.3" transform="rotate(66 479.5 316.6)"/><ellipse cx="473" cy="224.3" rx="7" ry="6.2" transform="rotate(129 473 224.3)"/><ellipse cx="461.3" cy="294.9" rx="6.8" ry="6.1" transform="rotate(137 461.3 294.9)"/><ellipse cx="512.6" cy="310" rx="5.7" ry="4" transform="rotate(169 512.6 310)"/><ellipse cx="466.3" cy="208.1" rx="7.2" ry="5.4" transform="rotate(10 466.3 208.1)"/><ellipse cx="482.7" cy="335.7" rx="5.3" ry="4.8" transform="rotate(47 482.7 335.7)"/><ellipse cx="487.5" cy="258.1" rx="5.7" ry="4.7" transform="rotate(75 487.5 258.1)"/><ellipse cx="490.5" cy="205.1" rx="6.3" ry="5" transform="rotate(118 490.5 205.1)"/><ellipse cx="441.7" cy="173.9" rx="6.8" ry="4.4" transform="rotate(45 441.7 173.9)"/><ellipse cx="478.3" cy="292.4" rx="6.9" ry="6.1" transform="rotate(134 478.3 292.4)"/><ellipse cx="492.5" cy="302.1" rx="6.7" ry="4.4" transform="rotate(100 492.5 302.1)"/><ellipse cx="485.7" cy="180.1" rx="6.4" ry="5.5" transform="rotate(2 485.7 180.1)"/><ellipse cx="489.2" cy="279.2" rx="6.1" ry="4.8" transform="rotate(143 489.2 279.2)"/><ellipse cx="519.4" cy="330.2" rx="5.6" ry="5.1" transform="rotate(107 519.4 330.2)"/><ellipse cx="449.3" cy="130.4" rx="7.3" ry="5.7" transform="rotate(4 449.3 130.4)"/><ellipse cx="462.8" cy="260.4" rx="6.5" ry="4.7" transform="rotate(74 462.8 260.4)"/><ellipse cx="449.7" cy="356.4" rx="7.9" ry="6.1" transform="rotate(174 449.7 356.4)"/><ellipse cx="498.4" cy="327" rx="8.1" ry="6.5" transform="rotate(88 498.4 327)"/><ellipse cx="465.3" cy="173.1" rx="6.5" ry="5.2" transform="rotate(74 465.3 173.1)"/><ellipse cx="447.6" cy="113" rx="6.1" ry="5.1" transform="rotate(22 447.6 113)"/><ellipse cx="418" cy="247.1" rx="6.8" ry="4.7" transform="rotate(11 418 247.1)"/><ellipse cx="500.2" cy="346.6" rx="6.7" ry="5.3" transform="rotate(75 500.2 346.6)"/><ellipse cx="505.6" cy="233.2" rx="5" ry="4.6" transform="rotate(141 505.6 233.2)"/><ellipse cx="424.6" cy="111.5" rx="7.7" ry="5.6" transform="rotate(43 424.6 111.5)"/><ellipse cx="515.4" cy="283.3" rx="7.6" ry="5.8" transform="rotate(18 515.4 283.3)"/><ellipse cx="417.4" cy="151.8" rx="6.6" ry="5" transform="rotate(82 417.4 151.8)"/><ellipse cx="529.7" cy="271.6" rx="6.8" ry="5.8" transform="rotate(90 529.7 271.6)"/><ellipse cx="468.6" cy="358.3" rx="6.1" ry="4.6" transform="rotate(101 468.6 358.3)"/><ellipse cx="520.4" cy="214.9" rx="6.7" ry="4.7" transform="rotate(31 520.4 214.9)"/><ellipse cx="498.6" cy="363.6" rx="6.7" ry="5.2" transform="rotate(95 498.6 363.6)"/><ellipse cx="487.3" cy="385.3" rx="7" ry="6.5" transform="rotate(81 487.3 385.3)"/><ellipse cx="521.6" cy="240" rx="5.9" ry="5.2" transform="rotate(155 521.6 240)"/><ellipse cx="442.7" cy="94.7" rx="6.3" ry="4.5" transform="rotate(101 442.7 94.7)"/><ellipse cx="455.8" cy="150.7" rx="5.7" ry="4.8" transform="rotate(118 455.8 150.7)"/><ellipse cx="542.1" cy="309" rx="6.6" ry="4.5" transform="rotate(27 542.1 309)"/><ellipse cx="469.7" cy="378.6" rx="5.3" ry="5" transform="rotate(53 469.7 378.6)"/><ellipse cx="503.3" cy="415" rx="7.5" ry="5.6" transform="rotate(101 503.3 415)"/><ellipse cx="423.2" cy="128.6" rx="5.8" ry="4.3" transform="rotate(137 423.2 128.6)"/><ellipse cx="510.8" cy="377.8" rx="7.5" ry="5.9" transform="rotate(27 510.8 377.8)"/><ellipse cx="526.8" cy="365.3" rx="8.2" ry="5.8" transform="rotate(4 526.8 365.3)"/><ellipse cx="462.2" cy="99.5" rx="6.9" ry="5.7" transform="rotate(18 462.2 99.5)"/><ellipse cx="514.1" cy="259.3" rx="5.6" ry="5" transform="rotate(129 514.1 259.3)"/><ellipse cx="469.1" cy="132.8" rx="5.2" ry="4.6" transform="rotate(156 469.1 132.8)"/><ellipse cx="484.1" cy="407.4" rx="6.6" ry="5.1" transform="rotate(79 484.1 407.4)"/><ellipse cx="404" cy="106.1" rx="5.5" ry="4.8" transform="rotate(66 404 106.1)"/><ellipse cx="527.1" cy="184.9" rx="6.3" ry="4.8" transform="rotate(16 527.1 184.9)"/><ellipse cx="548.2" cy="205.4" rx="5.3" ry="4.3" transform="rotate(84 548.2 205.4)"/><ellipse cx="509.3" cy="201.6" rx="6.9" ry="4.7" transform="rotate(38 509.3 201.6)"/><ellipse cx="543.9" cy="290.7" rx="7.6" ry="5.7" transform="rotate(73 543.9 290.7)"/><ellipse cx="557.9" cy="185.1" rx="6.9" ry="5.7" transform="rotate(49 557.9 185.1)"/><ellipse cx="479.3" cy="159.9" rx="5.8" ry="5" transform="rotate(114 479.3 159.9)"/><ellipse cx="542.1" cy="328.4" rx="6.9" ry="5.2" transform="rotate(127 542.1 328.4)"/><ellipse cx="588" cy="188.2" rx="5.9" ry="4.4" transform="rotate(86 588 188.2)"/><ellipse cx="543.8" cy="372.7" rx="6.3" ry="5.6" transform="rotate(58 543.8 372.7)"/><ellipse cx="522.6" cy="346.9" rx="5.6" ry="5.1" transform="rotate(42 522.6 346.9)"/><ellipse cx="571.2" cy="302.9" rx="5.6" ry="4" transform="rotate(61 571.2 302.9)"/><ellipse cx="514.5" cy="167.8" rx="5.7" ry="4.6" transform="rotate(103 514.5 167.8)"/><ellipse cx="564" cy="212.7" rx="6" ry="5.6" transform="rotate(92 564 212.7)"/><ellipse cx="524.7" cy="412.6" rx="5.6" ry="5.2" transform="rotate(146 524.7 412.6)"/><ellipse cx="405.9" cy="87.1" rx="6" ry="4.7" transform="rotate(30 405.9 87.1)"/><ellipse cx="548.5" cy="232.1" rx="5.4" ry="4.1" transform="rotate(173 548.5 232.1)"/><ellipse cx="581.3" cy="233.3" rx="5.4" ry="4.7" transform="rotate(84 581.3 233.3)"/><ellipse cx="562.5" cy="369.5" rx="7.2" ry="5.6" transform="rotate(27 562.5 369.5)"/><ellipse cx="573.9" cy="177.6" rx="6.8" ry="5.1" transform="rotate(21 573.9 177.6)"/><ellipse cx="528.2" cy="297.5" rx="6.7" ry="4.8" transform="rotate(142 528.2 297.5)"/><ellipse cx="505.8" cy="137.6" rx="5.6" ry="4.1" transform="rotate(160 505.8 137.6)"/><ellipse cx="573.7" cy="278.6" rx="6.1" ry="5.1" transform="rotate(146 573.7 278.6)"/><ellipse cx="549.7" cy="351.1" rx="6.3" ry="5.1" transform="rotate(175 549.7 351.1)"/><ellipse cx="568.8" cy="350.2" rx="7.4" ry="5.5" transform="rotate(48 568.8 350.2)"/><ellipse cx="553.2" cy="399.3" rx="6.3" ry="5" transform="rotate(178 553.2 399.3)"/><ellipse cx="575.4" cy="159.2" rx="5.7" ry="5.2" transform="rotate(43 575.4 159.2)"/><ellipse cx="486.9" cy="133.6" rx="6.7" ry="4.9" transform="rotate(137 486.9 133.6)"/><ellipse cx="561" cy="138.7" rx="6.2" ry="4.9" transform="rotate(19 561 138.7)"/><ellipse cx="524.2" cy="395.2" rx="7.2" ry="6" transform="rotate(95 524.2 395.2)"/><ellipse cx="509.2" cy="431.3" rx="6" ry="4.5" transform="rotate(57 509.2 431.3)"/><ellipse cx="545.4" cy="172.4" rx="7.3" ry="6.4" transform="rotate(102 545.4 172.4)"/><ellipse cx="539.2" cy="257.4" rx="5.4" ry="4.7" transform="rotate(41 539.2 257.4)"/><ellipse cx="559.1" cy="317.7" rx="5.5" ry="4.6" transform="rotate(95 559.1 317.7)"/><ellipse cx="536.1" cy="142.9" rx="7.3" ry="5.3" transform="rotate(80 536.1 142.9)"/><ellipse cx="480.2" cy="105.2" rx="6.6" ry="4.4" transform="rotate(40 480.2 105.2)"/><ellipse cx="497.3" cy="160.1" rx="6.1" ry="4.1" transform="rotate(5 497.3 160.1)"/><ellipse cx="489.2" cy="86.1" rx="5.6" ry="4.4" transform="rotate(9 489.2 86.1)"/><ellipse cx="567.9" cy="254.3" rx="5" ry="4.5" transform="rotate(151 567.9 254.3)"/><ellipse cx="486.1" cy="425.5" rx="5.5" ry="4.8" transform="rotate(103 486.1 425.5)"/><ellipse cx="423.2" cy="91" rx="6.4" ry="5" transform="rotate(51 423.2 91)"/><ellipse cx="584.2" cy="336.7" rx="7.5" ry="5.3" transform="rotate(1 584.2 336.7)"/><ellipse cx="609" cy="186.6" rx="6.9" ry="6.6" transform="rotate(71 609 186.6)"/><ellipse cx="527.4" cy="431.9" rx="5" ry="4.1" transform="rotate(158 527.4 431.9)"/><ellipse cx="584" cy="128" rx="6.9" ry="6.3" transform="rotate(1 584 128)"/><ellipse cx="500.9" cy="111.4" rx="6.7" ry="5.4" transform="rotate(64 500.9 111.4)"/><ellipse cx="464.4" cy="80.3" rx="6.9" ry="5.3" transform="rotate(106 464.4 80.3)"/><ellipse cx="490.2" cy="222.7" rx="6.5" ry="4.8" transform="rotate(113 490.2 222.7)"/><ellipse cx="531.2" cy="162.3" rx="6.2" ry="4.5" transform="rotate(107 531.2 162.3)"/><ellipse cx="515" cy="95.1" rx="6.7" ry="5.7" transform="rotate(128 515 95.1)"/><ellipse cx="542.1" cy="459.4" rx="6.9" ry="4.5" transform="rotate(153 542.1 459.4)"/><ellipse cx="504.1" cy="184" rx="6.7" ry="5.2" transform="rotate(62 504.1 184)"/><ellipse cx="596.8" cy="289.1" rx="6" ry="4.2" transform="rotate(71 596.8 289.1)"/><ellipse cx="597.8" cy="151.2" rx="6.9" ry="5.4" transform="rotate(21 597.8 151.2)"/><ellipse cx="552.2" cy="424.6" rx="7.4" ry="5.7" transform="rotate(173 552.2 424.6)"/><ellipse cx="586.1" cy="318" rx="7.4" ry="5.4" transform="rotate(71 586.1 318)"/><ellipse cx="519.3" cy="149.8" rx="6.8" ry="5.7" transform="rotate(17 519.3 149.8)"/><ellipse cx="605.1" cy="168" rx="6.9" ry="4.7" transform="rotate(161 605.1 168)"/><ellipse cx="608.7" cy="243.6" rx="5.9" ry="4.7" transform="rotate(160 608.7 243.6)"/><ellipse cx="583" cy="384.8" rx="5.9" ry="5.1" transform="rotate(133 583 384.8)"/><ellipse cx="605.6" cy="210" rx="6.9" ry="5.1" transform="rotate(153 605.6 210)"/><ellipse cx="615" cy="308.1" rx="6.1" ry="5.4" transform="rotate(153 615 308.1)"/><ellipse cx="583.4" cy="212.2" rx="6.3" ry="5" transform="rotate(3 583.4 212.2)"/><ellipse cx="554.8" cy="155.6" rx="7.3" ry="6.3" transform="rotate(173 554.8 155.6)"/><ellipse cx="595.3" cy="256.8" rx="6.9" ry="5.7" transform="rotate(106 595.3 256.8)"/><ellipse cx="627.6" cy="160.8" rx="6.5" ry="4.9" transform="rotate(144 627.6 160.8)"/><ellipse cx="557" cy="272.3" rx="6.8" ry="5.3" transform="rotate(45 557 272.3)"/><ellipse cx="529.5" cy="109.2" rx="6.1" ry="4.5" transform="rotate(135 529.5 109.2)"/><ellipse cx="547.3" cy="125.3" rx="6.8" ry="6" transform="rotate(75 547.3 125.3)"/><ellipse cx="609" cy="351" rx="7.5" ry="5.5" transform="rotate(19 609 351)"/><ellipse cx="631.4" cy="206" rx="6.2" ry="5.3" transform="rotate(154 631.4 206)"/><ellipse cx="501.2" cy="395.5" rx="5.4" ry="4.2" transform="rotate(55 501.2 395.5)"/><ellipse cx="390.7" cy="95.3" rx="5.5" ry="5" transform="rotate(132 390.7 95.3)"/><ellipse cx="599.7" cy="229" rx="5.5" ry="4.7" transform="rotate(29 599.7 229)"/><ellipse cx="632.9" cy="184.9" rx="5.5" ry="4.8" transform="rotate(33 632.9 184.9)"/><ellipse cx="593.2" cy="361.4" rx="7.2" ry="5.3" transform="rotate(34 593.2 361.4)"/><ellipse cx="565.6" cy="119.6" rx="5.5" ry="4.7" transform="rotate(137 565.6 119.6)"/><ellipse cx="586.8" cy="110.6" rx="5.9" ry="4.3" transform="rotate(142 586.8 110.6)"/><ellipse cx="603.8" cy="329.8" rx="5.4" ry="5.2" transform="rotate(178 603.8 329.8)"/><ellipse cx="520.3" cy="126.6" rx="6" ry="5.7" transform="rotate(119 520.3 126.6)"/><ellipse cx="624.6" cy="292.5" rx="5.6" ry="4.9" transform="rotate(7 624.6 292.5)"/><ellipse cx="517.1" cy="447.3" rx="5.6" ry="4.4" transform="rotate(32 517.1 447.3)"/><ellipse cx="572.6" cy="401.9" rx="5.7" ry="4.9" transform="rotate(132 572.6 401.9)"/><ellipse cx="620.3" cy="220.2" rx="7" ry="5.9" transform="rotate(134 620.3 220.2)"/><ellipse cx="553" cy="99.1" rx="5.6" ry="4.4" transform="rotate(45 553 99.1)"/><ellipse cx="535.3" cy="91.5" rx="5.8" ry="5.1" transform="rotate(158 535.3 91.5)"/><ellipse cx="579" cy="90.4" rx="7.2" ry="6.1" transform="rotate(15 579 90.4)"/><ellipse cx="605.2" cy="270.6" rx="8" ry="5.8" transform="rotate(79 605.2 270.6)"/><ellipse cx="623" cy="272.8" rx="6.7" ry="4.8" transform="rotate(173 623 272.8)"/><ellipse cx="612.3" cy="127.4" rx="6.8" ry="5.4" transform="rotate(173 612.3 127.4)"/><ellipse cx="629.4" cy="139.6" rx="7.6" ry="5.8" transform="rotate(169 629.4 139.6)"/><ellipse cx="558.6" cy="82.3" rx="7.4" ry="6" transform="rotate(49 558.6 82.3)"/><ellipse cx="641" cy="306" rx="5.4" ry="4.1" transform="rotate(7 641 306)"/><ellipse cx="405.4" cy="139.4" rx="7.8" ry="6.2" transform="rotate(178 405.4 139.4)"/><ellipse cx="637.1" cy="324.5" rx="7.2" ry="5.5" transform="rotate(126 637.1 324.5)"/><ellipse cx="574.2" cy="428.2" rx="6.2" ry="4.7" transform="rotate(143 574.2 428.2)"/><ellipse cx="551.1" cy="443.6" rx="5.5" ry="4.9" transform="rotate(19 551.1 443.6)"/><ellipse cx="604.9" cy="102.1" rx="6.7" ry="5" transform="rotate(86 604.9 102.1)"/><ellipse cx="568.1" cy="463.5" rx="7.7" ry="5.7" transform="rotate(139 568.1 463.5)"/><ellipse cx="660" cy="316.3" rx="6.5" ry="6.2" transform="rotate(131 660 316.3)"/><ellipse cx="569.2" cy="445.3" rx="7.1" ry="5.4" transform="rotate(138 569.2 445.3)"/><ellipse cx="588.6" cy="440.7" rx="5.5" ry="4" transform="rotate(153 588.6 440.7)"/><ellipse cx="638.6" cy="225.2" rx="7.7" ry="5.5" transform="rotate(49 638.6 225.2)"/><ellipse cx="622.3" cy="108.8" rx="5.7" ry="5.1" transform="rotate(29 622.3 108.8)"/><ellipse cx="619.6" cy="90.6" rx="5.1" ry="4.2" transform="rotate(93 619.6 90.6)"/><ellipse cx="598.4" cy="458" rx="6.7" ry="4.6" transform="rotate(111 598.4 458)"/><ellipse cx="631.4" cy="349.3" rx="6.1" ry="4.5" transform="rotate(158 631.4 349.3)"/><ellipse cx="557.5" cy="335.9" rx="6.3" ry="5.5" transform="rotate(33 557.5 335.9)"/><ellipse cx="630.5" cy="244" rx="5.1" ry="4.2" transform="rotate(111 630.5 244)"/><ellipse cx="598.8" cy="411.9" rx="5.1" ry="4.2" transform="rotate(129 598.8 411.9)"/><ellipse cx="615.6" cy="408" rx="6.7" ry="5.4" transform="rotate(152 615.6 408)"/><ellipse cx="607.7" cy="378.6" rx="6.4" ry="5.2" transform="rotate(139 607.7 378.6)"/><ellipse cx="631.8" cy="372.1" rx="6.5" ry="4.3" transform="rotate(127 631.8 372.1)"/><ellipse cx="657.3" cy="296.6" rx="6.2" ry="5.3" transform="rotate(135 657.3 296.6)"/><ellipse cx="614.2" cy="431.6" rx="6.5" ry="6.2" transform="rotate(108 614.2 431.6)"/><ellipse cx="655.3" cy="274.9" rx="6.8" ry="5.6" transform="rotate(86 655.3 274.9)"/><ellipse cx="632.5" cy="411.8" rx="6.6" ry="4.7" transform="rotate(7 632.5 411.8)"/><ellipse cx="636.9" cy="429.4" rx="5.5" ry="5" transform="rotate(7 636.9 429.4)"/><ellipse cx="620" cy="451.9" rx="6.8" ry="6.1" transform="rotate(43 620 451.9)"/><ellipse cx="621.1" cy="335.4" rx="5.4" ry="4" transform="rotate(98 621.1 335.4)"/><ellipse cx="649.7" cy="352.9" rx="7.1" ry="5.9" transform="rotate(122 649.7 352.9)"/><ellipse cx="651.8" cy="253.2" rx="7.1" ry="4.9" transform="rotate(73 651.8 253.2)"/><ellipse cx="622.7" cy="391.7" rx="7.9" ry="6.3" transform="rotate(68 622.7 391.7)"/><ellipse cx="671.8" cy="361.4" rx="7" ry="5.1" transform="rotate(44 671.8 361.4)"/><ellipse cx="667" cy="338.9" rx="7.7" ry="6.2" transform="rotate(59 667 338.9)"/><ellipse cx="677.5" cy="315.1" rx="5.8" ry="3.8" transform="rotate(138 677.5 315.1)"/><ellipse cx="650.3" cy="376.2" rx="7.3" ry="5.9" transform="rotate(179 650.3 376.2)"/><ellipse cx="658.7" cy="408.4" rx="5.9" ry="4.8" transform="rotate(100 658.7 408.4)"/><ellipse cx="654.8" cy="432.6" rx="5.4" ry="4.8" transform="rotate(22 654.8 432.6)"/><ellipse cx="673.4" cy="275.3" rx="5.5" ry="4.7" transform="rotate(69 673.4 275.3)"/><ellipse cx="595.6" cy="80.8" rx="7.9" ry="6.1" transform="rotate(151 595.6 80.8)"/><ellipse cx="641.5" cy="286" rx="6.7" ry="4.6" transform="rotate(91 641.5 286)"/><ellipse cx="677.3" cy="382.7" rx="6.2" ry="5.6" transform="rotate(46 677.3 382.7)"/><ellipse cx="713.5" cy="245.6" rx="6.5" ry="4.9" transform="rotate(166 713.5 245.6)"/><ellipse cx="757.5" cy="237.4" rx="5.9" ry="4.9" transform="rotate(14 757.5 237.4)"/><ellipse cx="643.3" cy="397" rx="7.5" ry="6.4" transform="rotate(148 643.3 397)"/><ellipse cx="677.9" cy="293.9" rx="7.1" ry="5.9" transform="rotate(125 677.9 293.9)"/><ellipse cx="684.9" cy="260.6" rx="6.6" ry="5.1" transform="rotate(93 684.9 260.6)"/><ellipse cx="690.4" cy="278.7" rx="6.3" ry="4.3" transform="rotate(3 690.4 278.7)"/><ellipse cx="696.1" cy="295.7" rx="6.5" ry="4.9" transform="rotate(160 696.1 295.7)"/><ellipse cx="673.6" cy="416.7" rx="5.8" ry="5.3" transform="rotate(19 673.6 416.7)"/><ellipse cx="698.5" cy="378.6" rx="6.6" ry="6.2" transform="rotate(85 698.5 378.6)"/><ellipse cx="673" cy="459.8" rx="5.7" ry="4.8" transform="rotate(70 673 459.8)"/><ellipse cx="765.8" cy="262.7" rx="6.3" ry="4.7" transform="rotate(176 765.8 262.7)"/><ellipse cx="737.4" cy="247.5" rx="6.8" ry="6.2" transform="rotate(118 737.4 247.5)"/><ellipse cx="779.1" cy="243.2" rx="6" ry="4.4" transform="rotate(91 779.1 243.2)"/><ellipse cx="667.6" cy="245.5" rx="5.8" ry="4.4" transform="rotate(13 667.6 245.5)"/><ellipse cx="716" cy="300.8" rx="5.3" ry="4.4" transform="rotate(42 716 300.8)"/><ellipse cx="695.2" cy="328.4" rx="6.2" ry="5.8" transform="rotate(159 695.2 328.4)"/><ellipse cx="644.8" cy="463" rx="5.7" ry="4.3" transform="rotate(118 644.8 463)"/><ellipse cx="718.9" cy="283" rx="7.9" ry="5.7" transform="rotate(129 718.9 283)"/><ellipse cx="749" cy="277.2" rx="6.3" ry="5.3" transform="rotate(8 749 277.2)"/><ellipse cx="686.8" cy="400.1" rx="6.3" ry="5.2" transform="rotate(156 686.8 400.1)"/><ellipse cx="713.7" cy="394.1" rx="6.1" ry="5.1" transform="rotate(149 713.7 394.1)"/><ellipse cx="713.1" cy="266" rx="7.3" ry="5.6" transform="rotate(92 713.1 266)"/><ellipse cx="693.1" cy="427.4" rx="6.9" ry="5.4" transform="rotate(128 693.1 427.4)"/><ellipse cx="671.3" cy="441.5" rx="5.5" ry="4.6" transform="rotate(100 671.3 441.5)"/><ellipse cx="730.5" cy="269.5" rx="6.3" ry="5.5" transform="rotate(62 730.5 269.5)"/><ellipse cx="715.2" cy="353.3" rx="6.5" ry="4.5" transform="rotate(48 715.2 353.3)"/><ellipse cx="783.1" cy="290.4" rx="6.6" ry="4.7" transform="rotate(81 783.1 290.4)"/><ellipse cx="796.9" cy="246.8" rx="6.1" ry="4.9" transform="rotate(105 796.9 246.8)"/><ellipse cx="799.3" cy="265.8" rx="6.7" ry="5.4" transform="rotate(126 799.3 265.8)"/><ellipse cx="733" cy="294.8" rx="6.6" ry="5.9" transform="rotate(170 733 294.8)"/><ellipse cx="714.1" cy="323.3" rx="7.6" ry="6.2" transform="rotate(124 714.1 323.3)"/><ellipse cx="719.7" cy="371.5" rx="6" ry="4.7" transform="rotate(106 719.7 371.5)"/><ellipse cx="702.7" cy="442.8" rx="5.8" ry="4.3" transform="rotate(147 702.7 442.8)"/><ellipse cx="700.3" cy="411.7" rx="6.7" ry="4.7" transform="rotate(131 700.3 411.7)"/><ellipse cx="738.5" cy="378.5" rx="6.9" ry="5.9" transform="rotate(146 738.5 378.5)"/><ellipse cx="694.9" cy="463.9" rx="6" ry="5.3" transform="rotate(102 694.9 463.9)"/><ellipse cx="691.1" cy="358.9" rx="7.9" ry="5.7" transform="rotate(19 691.1 358.9)"/><ellipse cx="735.9" cy="405" rx="5.5" ry="5.1" transform="rotate(140 735.9 405)"/><ellipse cx="720.1" cy="443.1" rx="6.2" ry="4.8" transform="rotate(112 720.1 443.1)"/><ellipse cx="718.5" cy="412.2" rx="6.4" ry="5.5" transform="rotate(22 718.5 412.2)"/><ellipse cx="737.5" cy="357.2" rx="6.3" ry="5.2" transform="rotate(2 737.5 357.2)"/><ellipse cx="801.3" cy="308.4" rx="5.4" ry="4.4" transform="rotate(62 801.3 308.4)"/><ellipse cx="732.5" cy="317.2" rx="7.3" ry="5.6" transform="rotate(173 732.5 317.2)"/><ellipse cx="684.1" cy="342.9" rx="5" ry="4.2" transform="rotate(85 684.1 342.9)"/><ellipse cx="747.6" cy="330.7" rx="6.8" ry="5.5" transform="rotate(100 747.6 330.7)"/><ellipse cx="751.5" cy="295.8" rx="6.9" ry="4.9" transform="rotate(166 751.5 295.8)"/><ellipse cx="742.7" cy="440.2" rx="7.1" ry="4.8" transform="rotate(44 742.7 440.2)"/><ellipse cx="747.2" cy="423.1" rx="7.7" ry="5.3" transform="rotate(142 747.2 423.1)"/><ellipse cx="756.7" cy="314.5" rx="6.3" ry="5.2" transform="rotate(18 756.7 314.5)"/><ellipse cx="759.8" cy="393" rx="6.7" ry="4.9" transform="rotate(135 759.8 393)"/><ellipse cx="827.4" cy="275.7" rx="5.3" ry="4.7" transform="rotate(152 827.4 275.7)"/><ellipse cx="813.6" cy="255.6" rx="5.9" ry="4.5" transform="rotate(99 813.6 255.6)"/><ellipse cx="729.6" cy="334.4" rx="5.9" ry="4.2" transform="rotate(90 729.6 334.4)"/><ellipse cx="775.4" cy="318.1" rx="7.3" ry="6" transform="rotate(54 775.4 318.1)"/><ellipse cx="805.7" cy="291.7" rx="5.9" ry="5.3" transform="rotate(60 805.7 291.7)"/><ellipse cx="827.9" cy="302.7" rx="5.9" ry="4.1" transform="rotate(74 827.9 302.7)"/><ellipse cx="759.5" cy="349.7" rx="7.3" ry="5.8" transform="rotate(92 759.5 349.7)"/><ellipse cx="794" cy="327.8" rx="6.9" ry="6" transform="rotate(49 794 327.8)"/><ellipse cx="768.7" cy="451.6" rx="5.9" ry="5" transform="rotate(120 768.7 451.6)"/><ellipse cx="715.6" cy="464.1" rx="6.4" ry="6.3" transform="rotate(69 715.6 464.1)"/><ellipse cx="765.1" cy="419" rx="6" ry="5" transform="rotate(10 765.1 419)"/><ellipse cx="766.1" cy="284.7" rx="8" ry="5.8" transform="rotate(41 766.1 284.7)"/><ellipse cx="762.2" cy="366.7" rx="5.9" ry="5.6" transform="rotate(64 762.2 366.7)"/><ellipse cx="774.4" cy="337.1" rx="8" ry="5.9" transform="rotate(69 774.4 337.1)"/><ellipse cx="745.4" cy="458.5" rx="6.4" ry="5.9" transform="rotate(92 745.4 458.5)"/><ellipse cx="845.2" cy="263.4" rx="6.6" ry="4.7" transform="rotate(150 845.2 263.4)"/><ellipse cx="774.6" cy="435.1" rx="6.8" ry="6" transform="rotate(80 774.6 435.1)"/><ellipse cx="790.4" cy="344.8" rx="7.9" ry="6.2" transform="rotate(69 790.4 344.8)"/><ellipse cx="815.3" cy="319.8" rx="6.6" ry="4.5" transform="rotate(8 815.3 319.8)"/><ellipse cx="783.1" cy="397.1" rx="7.3" ry="6.4" transform="rotate(110 783.1 397.1)"/><ellipse cx="846.6" cy="297.5" rx="6.9" ry="5.1" transform="rotate(23 846.6 297.5)"/><ellipse cx="780.1" cy="379.9" rx="5.8" ry="4.9" transform="rotate(63 780.1 379.9)"/><ellipse cx="796.6" cy="424.8" rx="5.7" ry="4.8" transform="rotate(131 796.6 424.8)"/><ellipse cx="816.4" cy="337.3" rx="6.9" ry="5.6" transform="rotate(135 816.4 337.3)"/><ellipse cx="796.5" cy="444.4" rx="7.2" ry="5.5" transform="rotate(15 796.5 444.4)"/><ellipse cx="837" cy="330" rx="7.3" ry="5.8" transform="rotate(156 837 330)"/><ellipse cx="817.7" cy="366.6" rx="5.9" ry="5.2" transform="rotate(66 817.7 366.6)"/><ellipse cx="795.3" cy="369.9" rx="6.9" ry="5.1" transform="rotate(139 795.3 369.9)"/><ellipse cx="812.4" cy="382.8" rx="6.8" ry="6.3" transform="rotate(49 812.4 382.8)"/><ellipse cx="836.8" cy="355.1" rx="6" ry="4.8" transform="rotate(66 836.8 355.1)"/><ellipse cx="848.1" cy="316.5" rx="5.3" ry="4.6" transform="rotate(40 848.1 316.5)"/><ellipse cx="835.9" cy="379.2" rx="7.3" ry="5.9" transform="rotate(101 835.9 379.2)"/><ellipse cx="800" cy="404.7" rx="5.3" ry="4.7" transform="rotate(0 800 404.7)"/><ellipse cx="822.1" cy="456.1" rx="6.5" ry="5.4" transform="rotate(113 822.1 456.1)"/><ellipse cx="780.2" cy="359" rx="6.8" ry="6.3" transform="rotate(73 780.2 359)"/><ellipse cx="825.3" cy="403.7" rx="8" ry="6.3" transform="rotate(101 825.3 403.7)"/><ellipse cx="847.1" cy="397.9" rx="6.3" ry="4.7" transform="rotate(152 847.1 397.9)"/><ellipse cx="812" cy="432.9" rx="6.3" ry="4.9" transform="rotate(32 812 432.9)"/><ellipse cx="836.4" cy="416.9" rx="6" ry="4.3" transform="rotate(129 836.4 416.9)"/><ellipse cx="803.2" cy="464.4" rx="6.7" ry="6.2" transform="rotate(87 803.2 464.4)"/><ellipse cx="845.3" cy="446.1" rx="7.1" ry="4.9" transform="rotate(123 845.3 446.1)"/><ellipse cx="439.2" cy="190.5" rx="5.9" ry="4.6" transform="rotate(24 439.2 190.5)"/><ellipse cx="419.3" cy="162.7" rx="7" ry="6" transform="rotate(121 419.3 162.7)"/><ellipse cx="457.2" cy="218.5" rx="5.6" ry="5.2" transform="rotate(4 457.2 218.5)"/><ellipse cx="482.5" cy="324" rx="6.6" ry="5.3" transform="rotate(122 482.5 324)"/><ellipse cx="485.8" cy="344.1" rx="7.8" ry="6.2" transform="rotate(179 485.8 344.1)"/><ellipse cx="445.9" cy="178.5" rx="6.9" ry="5.6" transform="rotate(98 445.9 178.5)"/><ellipse cx="483.2" cy="286.8" rx="6.2" ry="4.8" transform="rotate(19 483.2 286.8)"/><ellipse cx="519.5" cy="322.6" rx="7" ry="5.5" transform="rotate(31 519.5 322.6)"/><ellipse cx="456" cy="263" rx="7.3" ry="5.9" transform="rotate(175 456 263)"/><ellipse cx="420" cy="252.9" rx="6.1" ry="5.1" transform="rotate(38 420 252.9)"/><ellipse cx="506.4" cy="352.1" rx="6.2" ry="4.3" transform="rotate(19 506.4 352.1)"/><ellipse cx="467.4" cy="366.6" rx="5.3" ry="4.1" transform="rotate(126 467.4 366.6)"/><ellipse cx="445.5" cy="88.6" rx="7" ry="5.4" transform="rotate(41 445.5 88.6)"/><ellipse cx="521.7" cy="362.1" rx="6.4" ry="5.5" transform="rotate(179 521.7 362.1)"/><ellipse cx="536.1" cy="289.4" rx="7.2" ry="5.7" transform="rotate(81 536.1 289.4)"/><ellipse cx="541.5" cy="366.3" rx="5.5" ry="4.4" transform="rotate(76 541.5 366.3)"/><ellipse cx="515.8" cy="351" rx="5.5" ry="4.4" transform="rotate(101 515.8 351)"/><ellipse cx="414.2" cy="87.9" rx="6.2" ry="4.2" transform="rotate(152 414.2 87.9)"/><ellipse cx="523.1" cy="292.8" rx="6.5" ry="5.2" transform="rotate(12 523.1 292.8)"/><ellipse cx="552.8" cy="137.3" rx="6.6" ry="6.1" transform="rotate(139 552.8 137.3)"/><ellipse cx="524.3" cy="386.7" rx="6.6" ry="6" transform="rotate(37 524.3 386.7)"/><ellipse cx="456.8" cy="84.6" rx="6.9" ry="5.1" transform="rotate(177 456.8 84.6)"/><ellipse cx="515.1" cy="103.2" rx="7.3" ry="6.1" transform="rotate(110 515.1 103.2)"/><ellipse cx="510.4" cy="181" rx="6.3" ry="5.9" transform="rotate(83 510.4 181)"/><ellipse cx="553.3" cy="430.8" rx="6.3" ry="4.5" transform="rotate(144 553.3 430.8)"/><ellipse cx="527.7" cy="152.3" rx="6.7" ry="5.4" transform="rotate(154 527.7 152.3)"/><ellipse cx="632.9" cy="155.9" rx="5.4" ry="4.6" transform="rotate(161 632.9 155.9)"/><ellipse cx="524.9" cy="115.9" rx="6.9" ry="6.3" transform="rotate(81 524.9 115.9)"/><ellipse cx="598" cy="355.9" rx="5.3" ry="4.8" transform="rotate(13 598 355.9)"/><ellipse cx="566" cy="400.1" rx="6" ry="4.6" transform="rotate(54 566 400.1)"/><ellipse cx="626.3" cy="217.8" rx="5.8" ry="5.1" transform="rotate(49 626.3 217.8)"/><ellipse cx="567.9" cy="430.5" rx="6.2" ry="5.5" transform="rotate(103 567.9 430.5)"/><ellipse cx="639.4" cy="413.8" rx="5" ry="4.5" transform="rotate(57 639.4 413.8)"/><ellipse cx="642.3" cy="355.5" rx="5.5" ry="4.5" transform="rotate(81 642.3 355.5)"/><ellipse cx="658.9" cy="416.4" rx="6.6" ry="5.5" transform="rotate(101 658.9 416.4)"/><ellipse cx="672.8" cy="290.3" rx="7.1" ry="6" transform="rotate(103 672.8 290.3)"/><ellipse cx="679.8" cy="267.9" rx="7.4" ry="5.9" transform="rotate(141 679.8 267.9)"/><ellipse cx="664.7" cy="251.3" rx="7" ry="5.6" transform="rotate(94 664.7 251.3)"/><ellipse cx="716.6" cy="307" rx="7" ry="5.7" transform="rotate(74 716.6 307)"/><ellipse cx="674.1" cy="450" rx="5.9" ry="5" transform="rotate(100 674.1 450)"/><ellipse cx="708.3" cy="355.8" rx="6.6" ry="5.6" transform="rotate(64 708.3 355.8)"/><ellipse cx="737.1" cy="287.6" rx="6.9" ry="6" transform="rotate(128 737.1 287.6)"/><ellipse cx="695.3" cy="439.7" rx="6.3" ry="4.4" transform="rotate(57 695.3 439.7)"/><ellipse cx="793.7" cy="308.6" rx="6.9" ry="5.7" transform="rotate(98 793.7 308.6)"/><ellipse cx="757.3" cy="292.4" rx="6.3" ry="4.8" transform="rotate(153 757.3 292.4)"/><ellipse cx="730" cy="341.8" rx="7.3" ry="6.4" transform="rotate(106 730 341.8)"/><ellipse cx="810.8" cy="285.2" rx="6.2" ry="4.8" transform="rotate(102 810.8 285.2)"/><ellipse cx="797.8" cy="432.9" rx="6.5" ry="6" transform="rotate(127 797.8 432.9)"/><ellipse cx="815.1" cy="331.1" rx="6.2" ry="5.6" transform="rotate(135 815.1 331.1)"/><ellipse cx="808" cy="376.2" rx="6.9" ry="5.8" transform="rotate(138 808 376.2)"/><ellipse cx="828.1" cy="353.2" rx="5.3" ry="4" transform="rotate(44 828.1 353.2)"/><ellipse cx="839.8" cy="399.8" rx="7.3" ry="6.1" transform="rotate(60 839.8 399.8)"/></g><g opacity="0.88" filter="url(#bl1)"><ellipse cx="439" cy="203.7" rx="3.5" ry="2" transform="rotate(162 439 203.7)" fill="#d03c84"/><ellipse cx="430.9" cy="187.6" rx="3.5" ry="1.4" transform="rotate(80 430.9 187.6)" fill="#a42a6c"/><ellipse cx="419.3" cy="201.5" rx="2.4" ry="1.6" transform="rotate(12 419.3 201.5)" fill="#b0286c"/><ellipse cx="413.1" cy="168.6" rx="3.5" ry="1.9" transform="rotate(171 413.1 168.6)" fill="#b0286c"/><ellipse cx="392.7" cy="189.4" rx="3.3" ry="1.3" transform="rotate(91 392.7 189.4)" fill="#b0286c"/><ellipse cx="415" cy="225.9" rx="3.5" ry="1.3" transform="rotate(72 415 225.9)" fill="#b0286c"/><ellipse cx="431.5" cy="233.1" rx="2.7" ry="1.9" transform="rotate(60 431.5 233.1)" fill="#d03c84"/><ellipse cx="455.3" cy="225.2" rx="2.3" ry="2" transform="rotate(88 455.3 225.2)" fill="#d03c84"/><ellipse cx="423.4" cy="265.9" rx="2.3" ry="1.4" transform="rotate(8 423.4 265.9)" fill="#a42a6c"/><ellipse cx="400.3" cy="156.9" rx="2.3" ry="1.7" transform="rotate(126 400.3 156.9)" fill="#b0286c"/><ellipse cx="443.2" cy="293.4" rx="3.6" ry="1.8" transform="rotate(77 443.2 293.4)" fill="#b8306e"/><ellipse cx="442.5" cy="310.9" rx="3.7" ry="2" transform="rotate(152 442.5 310.9)" fill="#c02c74"/><ellipse cx="452.1" cy="241.9" rx="3.2" ry="1.5" transform="rotate(140 452.1 241.9)" fill="#a42a6c"/><ellipse cx="464.2" cy="191.2" rx="2.5" ry="1.5" transform="rotate(101 464.2 191.2)" fill="#a42a6c"/><ellipse cx="446.9" cy="339" rx="2.5" ry="1.5" transform="rotate(156 446.9 339)" fill="#c02c74"/><ellipse cx="464.6" cy="327.1" rx="3.4" ry="1.8" transform="rotate(129 464.6 327.1)" fill="#c02c74"/><ellipse cx="480" cy="242.1" rx="3.4" ry="2" transform="rotate(10 480 242.1)" fill="#c8347c"/><ellipse cx="445.9" cy="264.5" rx="3.1" ry="1.8" transform="rotate(118 445.9 264.5)" fill="#b0286c"/><ellipse cx="438.5" cy="157.2" rx="3.4" ry="2" transform="rotate(133 438.5 157.2)" fill="#b8306e"/><ellipse cx="458.6" cy="277.3" rx="3.7" ry="1.8" transform="rotate(164 458.6 277.3)" fill="#9c2c6c"/><ellipse cx="479.5" cy="316.6" rx="2.7" ry="2" transform="rotate(66 479.5 316.6)" fill="#9c2c6c"/><ellipse cx="473" cy="224.3" rx="3" ry="2.1" transform="rotate(129 473 224.3)" fill="#d03c84"/><ellipse cx="461.3" cy="294.9" rx="2.5" ry="1.8" transform="rotate(137 461.3 294.9)" fill="#c02c74"/><ellipse cx="512.6" cy="310" rx="3.2" ry="1.5" transform="rotate(169 512.6 310)" fill="#c02c74"/><ellipse cx="466.3" cy="208.1" rx="3.5" ry="1.7" transform="rotate(10 466.3 208.1)" fill="#a42a6c"/><ellipse cx="482.7" cy="335.7" rx="2.4" ry="1.8" transform="rotate(47 482.7 335.7)" fill="#d03c84"/><ellipse cx="487.5" cy="258.1" rx="2.6" ry="1.7" transform="rotate(75 487.5 258.1)" fill="#9c2c6c"/><ellipse cx="490.5" cy="205.1" rx="2.7" ry="1.4" transform="rotate(118 490.5 205.1)" fill="#c8347c"/><ellipse cx="441.7" cy="173.9" rx="3.8" ry="1.3" transform="rotate(45 441.7 173.9)" fill="#c02c74"/><ellipse cx="478.3" cy="292.4" rx="2.8" ry="1.9" transform="rotate(134 478.3 292.4)" fill="#d03c84"/><ellipse cx="492.5" cy="302.1" rx="3.7" ry="1.4" transform="rotate(100 492.5 302.1)" fill="#d03c84"/><ellipse cx="485.7" cy="180.1" rx="2.7" ry="1.8" transform="rotate(2 485.7 180.1)" fill="#c8347c"/><ellipse cx="489.2" cy="279.2" rx="2.9" ry="1.5" transform="rotate(143 489.2 279.2)" fill="#a42a6c"/><ellipse cx="519.4" cy="330.2" rx="2.5" ry="2" transform="rotate(107 519.4 330.2)" fill="#d03c84"/><ellipse cx="449.3" cy="130.4" rx="3.7" ry="2" transform="rotate(4 449.3 130.4)" fill="#a42a6c"/><ellipse cx="462.8" cy="260.4" rx="3.2" ry="1.4" transform="rotate(74 462.8 260.4)" fill="#9c2c6c"/><ellipse cx="449.7" cy="356.4" rx="3.4" ry="1.7" transform="rotate(174 449.7 356.4)" fill="#a42a6c"/><ellipse cx="498.4" cy="327" rx="3.6" ry="2" transform="rotate(88 498.4 327)" fill="#c8347c"/><ellipse cx="465.3" cy="173.1" rx="2.8" ry="1.6" transform="rotate(74 465.3 173.1)" fill="#9c2c6c"/><ellipse cx="447.6" cy="113" rx="2.4" ry="1.5" transform="rotate(22 447.6 113)" fill="#c02c74"/><ellipse cx="418" cy="247.1" rx="3.6" ry="1.4" transform="rotate(11 418 247.1)" fill="#c8347c"/><ellipse cx="500.2" cy="346.6" rx="3.4" ry="2.1" transform="rotate(75 500.2 346.6)" fill="#b8306e"/><ellipse cx="505.6" cy="233.2" rx="2.4" ry="2" transform="rotate(141 505.6 233.2)" fill="#9c2c6c"/><ellipse cx="424.6" cy="111.5" rx="3.7" ry="1.6" transform="rotate(43 424.6 111.5)" fill="#b8306e"/><ellipse cx="515.4" cy="283.3" rx="3.2" ry="1.3" transform="rotate(18 515.4 283.3)" fill="#9c2c6c"/><ellipse cx="417.4" cy="151.8" rx="3.1" ry="1.5" transform="rotate(82 417.4 151.8)" fill="#9c2c6c"/><ellipse cx="529.7" cy="271.6" rx="2.8" ry="1.8" transform="rotate(90 529.7 271.6)" fill="#b0286c"/><ellipse cx="468.6" cy="358.3" rx="3.4" ry="1.9" transform="rotate(101 468.6 358.3)" fill="#b0286c"/><ellipse cx="520.4" cy="214.9" rx="3.4" ry="1.4" transform="rotate(31 520.4 214.9)" fill="#b0286c"/><ellipse cx="498.6" cy="363.6" rx="3.6" ry="2.1" transform="rotate(95 498.6 363.6)" fill="#c8347c"/><ellipse cx="487.3" cy="385.3" rx="2.6" ry="2" transform="rotate(81 487.3 385.3)" fill="#b0286c"/><ellipse cx="521.6" cy="240" rx="2.7" ry="2" transform="rotate(155 521.6 240)" fill="#a42a6c"/><ellipse cx="442.7" cy="94.7" rx="3.3" ry="1.5" transform="rotate(101 442.7 94.7)" fill="#c8347c"/><ellipse cx="455.8" cy="150.7" rx="2.8" ry="1.8" transform="rotate(118 455.8 150.7)" fill="#d03c84"/><ellipse cx="542.1" cy="309" rx="3.4" ry="1.3" transform="rotate(27 542.1 309)" fill="#a42a6c"/><ellipse cx="469.7" cy="378.6" rx="2.3" ry="2" transform="rotate(53 469.7 378.6)" fill="#9c2c6c"/><ellipse cx="503.3" cy="415" rx="3.3" ry="1.3" transform="rotate(101 503.3 415)" fill="#d03c84"/><ellipse cx="423.2" cy="128.6" rx="3.1" ry="1.6" transform="rotate(137 423.2 128.6)" fill="#a42a6c"/><ellipse cx="510.8" cy="377.8" rx="3.1" ry="1.5" transform="rotate(27 510.8 377.8)" fill="#c8347c"/><ellipse cx="526.8" cy="365.3" rx="3.8" ry="1.4" transform="rotate(4 526.8 365.3)" fill="#c8347c"/><ellipse cx="462.2" cy="99.5" rx="2.9" ry="1.7" transform="rotate(18 462.2 99.5)" fill="#9c2c6c"/><ellipse cx="514.1" cy="259.3" rx="2.3" ry="1.7" transform="rotate(129 514.1 259.3)" fill="#9c2c6c"/><ellipse cx="469.1" cy="132.8" rx="2.7" ry="2.1" transform="rotate(156 469.1 132.8)" fill="#9c2c6c"/><ellipse cx="484.1" cy="407.4" rx="3.3" ry="1.8" transform="rotate(79 484.1 407.4)" fill="#c8347c"/><ellipse cx="404" cy="106.1" rx="2.7" ry="2" transform="rotate(66 404 106.1)" fill="#d03c84"/><ellipse cx="527.1" cy="184.9" rx="3.5" ry="2.1" transform="rotate(16 527.1 184.9)" fill="#b0286c"/><ellipse cx="548.2" cy="205.4" rx="2.5" ry="1.6" transform="rotate(84 548.2 205.4)" fill="#b0286c"/><ellipse cx="509.3" cy="201.6" rx="3.6" ry="1.4" transform="rotate(38 509.3 201.6)" fill="#a42a6c"/><ellipse cx="543.9" cy="290.7" rx="3.3" ry="1.3" transform="rotate(73 543.9 290.7)" fill="#d03c84"/><ellipse cx="557.9" cy="185.1" rx="3" ry="1.8" transform="rotate(49 557.9 185.1)" fill="#c8347c"/><ellipse cx="479.3" cy="159.9" rx="2.6" ry="1.8" transform="rotate(114 479.3 159.9)" fill="#9c2c6c"/><ellipse cx="542.1" cy="328.4" rx="3.8" ry="2.1" transform="rotate(127 542.1 328.4)" fill="#d03c84"/><ellipse cx="588" cy="188.2" rx="3.3" ry="1.8" transform="rotate(86 588 188.2)" fill="#b0286c"/><ellipse cx="543.8" cy="372.7" rx="2.3" ry="1.6" transform="rotate(58 543.8 372.7)" fill="#c02c74"/><ellipse cx="522.6" cy="346.9" rx="2.3" ry="1.8" transform="rotate(42 522.6 346.9)" fill="#c8347c"/><ellipse cx="571.2" cy="302.9" rx="3" ry="1.4" transform="rotate(61 571.2 302.9)" fill="#a42a6c"/><ellipse cx="514.5" cy="167.8" rx="2.7" ry="1.6" transform="rotate(103 514.5 167.8)" fill="#d03c84"/><ellipse cx="564" cy="212.7" rx="2.2" ry="1.7" transform="rotate(92 564 212.7)" fill="#a42a6c"/><ellipse cx="524.7" cy="412.6" rx="2.2" ry="1.8" transform="rotate(146 524.7 412.6)" fill="#b0286c"/><ellipse cx="405.9" cy="87.1" rx="3.1" ry="1.8" transform="rotate(30 405.9 87.1)" fill="#a42a6c"/><ellipse cx="548.5" cy="232.1" rx="2.7" ry="1.3" transform="rotate(173 548.5 232.1)" fill="#b8306e"/><ellipse cx="581.3" cy="233.3" rx="2.2" ry="1.5" transform="rotate(84 581.3 233.3)" fill="#b0286c"/><ellipse cx="562.5" cy="369.5" rx="3.6" ry="1.9" transform="rotate(27 562.5 369.5)" fill="#c8347c"/><ellipse cx="573.9" cy="177.6" rx="3.2" ry="1.6" transform="rotate(21 573.9 177.6)" fill="#b0286c"/><ellipse cx="528.2" cy="297.5" rx="3.7" ry="1.8" transform="rotate(142 528.2 297.5)" fill="#c8347c"/><ellipse cx="505.8" cy="137.6" rx="3" ry="1.5" transform="rotate(160 505.8 137.6)" fill="#b0286c"/><ellipse cx="573.7" cy="278.6" rx="2.8" ry="1.8" transform="rotate(146 573.7 278.6)" fill="#9c2c6c"/><ellipse cx="549.7" cy="351.1" rx="2.7" ry="1.5" transform="rotate(175 549.7 351.1)" fill="#d03c84"/><ellipse cx="568.8" cy="350.2" rx="3.2" ry="1.3" transform="rotate(48 568.8 350.2)" fill="#b0286c"/><ellipse cx="553.2" cy="399.3" rx="2.8" ry="1.5" transform="rotate(178 553.2 399.3)" fill="#b8306e"/><ellipse cx="575.4" cy="159.2" rx="2.4" ry="1.9" transform="rotate(43 575.4 159.2)" fill="#c8347c"/><ellipse cx="486.9" cy="133.6" rx="3.5" ry="1.7" transform="rotate(137 486.9 133.6)" fill="#d03c84"/><ellipse cx="561" cy="138.7" rx="3" ry="1.7" transform="rotate(19 561 138.7)" fill="#c02c74"/><ellipse cx="524.2" cy="395.2" rx="3.2" ry="2" transform="rotate(95 524.2 395.2)" fill="#c8347c"/><ellipse cx="509.2" cy="431.3" rx="3.3" ry="1.8" transform="rotate(57 509.2 431.3)" fill="#c02c74"/><ellipse cx="545.4" cy="172.4" rx="2.8" ry="1.9" transform="rotate(102 545.4 172.4)" fill="#b0286c"/><ellipse cx="539.2" cy="257.4" rx="2.4" ry="1.7" transform="rotate(41 539.2 257.4)" fill="#b0286c"/><ellipse cx="559.1" cy="317.7" rx="2.9" ry="2" transform="rotate(95 559.1 317.7)" fill="#c8347c"/><ellipse cx="536.1" cy="142.9" rx="3.4" ry="1.4" transform="rotate(80 536.1 142.9)" fill="#a42a6c"/><ellipse cx="480.2" cy="105.2" rx="3.7" ry="1.5" transform="rotate(40 480.2 105.2)" fill="#a42a6c"/><ellipse cx="497.3" cy="160.1" rx="3.3" ry="1.3" transform="rotate(5 497.3 160.1)" fill="#b8306e"/><ellipse cx="489.2" cy="86.1" rx="2.6" ry="1.5" transform="rotate(9 489.2 86.1)" fill="#c8347c"/><ellipse cx="567.9" cy="254.3" rx="2.5" ry="2" transform="rotate(151 567.9 254.3)" fill="#c02c74"/><ellipse cx="486.1" cy="425.5" rx="2.5" ry="1.9" transform="rotate(103 486.1 425.5)" fill="#b8306e"/><ellipse cx="423.2" cy="91" rx="3.3" ry="1.9" transform="rotate(51 423.2 91)" fill="#a42a6c"/><ellipse cx="584.2" cy="336.7" rx="3.7" ry="1.5" transform="rotate(1 584.2 336.7)" fill="#b8306e"/><ellipse cx="609" cy="186.6" rx="2.4" ry="2.1" transform="rotate(71 609 186.6)" fill="#9c2c6c"/><ellipse cx="527.4" cy="431.9" rx="2.4" ry="1.4" transform="rotate(158 527.4 431.9)" fill="#a42a6c"/><ellipse cx="584" cy="128" rx="2.5" ry="1.8" transform="rotate(1 584 128)" fill="#d03c84"/><ellipse cx="500.9" cy="111.4" rx="3" ry="1.8" transform="rotate(64 500.9 111.4)" fill="#9c2c6c"/><ellipse cx="464.4" cy="80.3" rx="3.1" ry="1.5" transform="rotate(106 464.4 80.3)" fill="#c8347c"/><ellipse cx="490.2" cy="222.7" rx="3.7" ry="2" transform="rotate(113 490.2 222.7)" fill="#b0286c"/><ellipse cx="531.2" cy="162.3" rx="3.3" ry="1.6" transform="rotate(107 531.2 162.3)" fill="#9c2c6c"/><ellipse cx="515" cy="95.1" rx="2.6" ry="1.6" transform="rotate(128 515 95.1)" fill="#c02c74"/><ellipse cx="542.1" cy="459.4" rx="3.8" ry="1.4" transform="rotate(153 542.1 459.4)" fill="#b8306e"/><ellipse cx="504.1" cy="184" rx="3.3" ry="1.8" transform="rotate(62 504.1 184)" fill="#d03c84"/><ellipse cx="596.8" cy="289.1" rx="3.1" ry="1.4" transform="rotate(71 596.8 289.1)" fill="#9c2c6c"/><ellipse cx="597.8" cy="151.2" rx="3.1" ry="1.5" transform="rotate(21 597.8 151.2)" fill="#9c2c6c"/><ellipse cx="552.2" cy="424.6" rx="3" ry="1.3" transform="rotate(173 552.2 424.6)" fill="#b0286c"/><ellipse cx="586.1" cy="318" rx="3.7" ry="1.6" transform="rotate(71 586.1 318)" fill="#d03c84"/><ellipse cx="519.3" cy="149.8" rx="3.1" ry="2" transform="rotate(17 519.3 149.8)" fill="#b8306e"/><ellipse cx="605.1" cy="168" rx="3.7" ry="1.5" transform="rotate(161 605.1 168)" fill="#b8306e"/><ellipse cx="608.7" cy="243.6" rx="2.9" ry="1.7" transform="rotate(160 608.7 243.6)" fill="#b8306e"/><ellipse cx="583" cy="384.8" rx="2.5" ry="1.7" transform="rotate(133 583 384.8)" fill="#c02c74"/><ellipse cx="605.6" cy="210" rx="3.6" ry="1.8" transform="rotate(153 605.6 210)" fill="#9c2c6c"/><ellipse cx="615" cy="308.1" rx="2.5" ry="1.8" transform="rotate(153 615 308.1)" fill="#b8306e"/><ellipse cx="583.4" cy="212.2" rx="2.5" ry="1.3" transform="rotate(3 583.4 212.2)" fill="#c8347c"/><ellipse cx="554.8" cy="155.6" rx="2.8" ry="1.9" transform="rotate(173 554.8 155.6)" fill="#d03c84"/><ellipse cx="595.3" cy="256.8" rx="3.2" ry="1.9" transform="rotate(106 595.3 256.8)" fill="#a42a6c"/><ellipse cx="627.6" cy="160.8" rx="3.6" ry="2" transform="rotate(144 627.6 160.8)" fill="#c02c74"/><ellipse cx="557" cy="272.3" rx="3.6" ry="2.1" transform="rotate(45 557 272.3)" fill="#d03c84"/><ellipse cx="529.5" cy="109.2" rx="3.4" ry="1.8" transform="rotate(135 529.5 109.2)" fill="#b0286c"/><ellipse cx="547.3" cy="125.3" rx="2.6" ry="1.9" transform="rotate(75 547.3 125.3)" fill="#a42a6c"/><ellipse cx="609" cy="351" rx="3.7" ry="1.7" transform="rotate(19 609 351)" fill="#9c2c6c"/><ellipse cx="631.4" cy="206" rx="2.2" ry="1.3" transform="rotate(154 631.4 206)" fill="#c02c74"/><ellipse cx="501.2" cy="395.5" rx="2.7" ry="1.5" transform="rotate(55 501.2 395.5)" fill="#d03c84"/><ellipse cx="390.7" cy="95.3" rx="2.3" ry="1.8" transform="rotate(132 390.7 95.3)" fill="#b0286c"/><ellipse cx="599.7" cy="229" rx="2.8" ry="1.9" transform="rotate(29 599.7 229)" fill="#c02c74"/><ellipse cx="632.9" cy="184.9" rx="2.4" ry="1.7" transform="rotate(33 632.9 184.9)" fill="#b0286c"/><ellipse cx="593.2" cy="361.4" rx="3.3" ry="1.5" transform="rotate(34 593.2 361.4)" fill="#b8306e"/><ellipse cx="565.6" cy="119.6" rx="2.4" ry="1.5" transform="rotate(137 565.6 119.6)" fill="#d03c84"/><ellipse cx="586.8" cy="110.6" rx="3.3" ry="1.6" transform="rotate(142 586.8 110.6)" fill="#c02c74"/><ellipse cx="603.8" cy="329.8" rx="2.2" ry="2" transform="rotate(178 603.8 329.8)" fill="#c8347c"/><ellipse cx="520.3" cy="126.6" rx="2.4" ry="2.1" transform="rotate(119 520.3 126.6)" fill="#c8347c"/><ellipse cx="624.6" cy="292.5" rx="2.3" ry="1.7" transform="rotate(7 624.6 292.5)" fill="#9c2c6c"/><ellipse cx="517.1" cy="447.3" rx="3" ry="1.8" transform="rotate(32 517.1 447.3)" fill="#b0286c"/><ellipse cx="572.6" cy="401.9" rx="2.8" ry="2" transform="rotate(132 572.6 401.9)" fill="#c02c74"/><ellipse cx="620.3" cy="220.2" rx="2.8" ry="1.8" transform="rotate(134 620.3 220.2)" fill="#a42a6c"/><ellipse cx="553" cy="99.1" rx="2.7" ry="1.5" transform="rotate(45 553 99.1)" fill="#c02c74"/><ellipse cx="535.3" cy="91.5" rx="2.5" ry="1.8" transform="rotate(158 535.3 91.5)" fill="#c8347c"/><ellipse cx="579" cy="90.4" rx="3.1" ry="2" transform="rotate(15 579 90.4)" fill="#9c2c6c"/><ellipse cx="605.2" cy="270.6" rx="3.8" ry="1.6" transform="rotate(79 605.2 270.6)" fill="#d03c84"/><ellipse cx="623" cy="272.8" rx="3.2" ry="1.4" transform="rotate(173 623 272.8)" fill="#9c2c6c"/><ellipse cx="612.3" cy="127.4" rx="3.5" ry="2.1" transform="rotate(173 612.3 127.4)" fill="#d03c84"/><ellipse cx="629.4" cy="139.6" rx="3.2" ry="1.3" transform="rotate(169 629.4 139.6)" fill="#a42a6c"/><ellipse cx="558.6" cy="82.3" rx="3.3" ry="1.9" transform="rotate(49 558.6 82.3)" fill="#c8347c"/><ellipse cx="641" cy="306" rx="2.9" ry="1.6" transform="rotate(7 641 306)" fill="#a42a6c"/><ellipse cx="405.4" cy="139.4" rx="3.7" ry="2" transform="rotate(178 405.4 139.4)" fill="#b0286c"/><ellipse cx="637.1" cy="324.5" rx="3" ry="1.4" transform="rotate(126 637.1 324.5)" fill="#a42a6c"/><ellipse cx="574.2" cy="428.2" rx="3.2" ry="1.6" transform="rotate(143 574.2 428.2)" fill="#9c2c6c"/><ellipse cx="551.1" cy="443.6" rx="2.3" ry="1.8" transform="rotate(19 551.1 443.6)" fill="#9c2c6c"/><ellipse cx="604.9" cy="102.1" rx="3.2" ry="1.5" transform="rotate(86 604.9 102.1)" fill="#9c2c6c"/><ellipse cx="568.1" cy="463.5" rx="3.6" ry="1.6" transform="rotate(139 568.1 463.5)" fill="#b0286c"/><ellipse cx="660" cy="316.3" rx="2.2" ry="2" transform="rotate(131 660 316.3)" fill="#a42a6c"/><ellipse cx="569.2" cy="445.3" rx="3.5" ry="1.8" transform="rotate(138 569.2 445.3)" fill="#c8347c"/><ellipse cx="588.6" cy="440.7" rx="2.9" ry="1.4" transform="rotate(153 588.6 440.7)" fill="#b8306e"/><ellipse cx="638.6" cy="225.2" rx="3.6" ry="1.3" transform="rotate(49 638.6 225.2)" fill="#c02c74"/><ellipse cx="622.3" cy="108.8" rx="2.5" ry="1.9" transform="rotate(29 622.3 108.8)" fill="#b0286c"/><ellipse cx="619.6" cy="90.6" rx="2.6" ry="1.7" transform="rotate(93 619.6 90.6)" fill="#a42a6c"/><ellipse cx="598.4" cy="458" rx="3.6" ry="1.5" transform="rotate(111 598.4 458)" fill="#c02c74"/><ellipse cx="631.4" cy="349.3" rx="3" ry="1.4" transform="rotate(158 631.4 349.3)" fill="#c8347c"/><ellipse cx="557.5" cy="335.9" rx="2.2" ry="1.5" transform="rotate(33 557.5 335.9)" fill="#9c2c6c"/><ellipse cx="630.5" cy="244" rx="2.6" ry="1.7" transform="rotate(111 630.5 244)" fill="#d03c84"/><ellipse cx="598.8" cy="411.9" rx="2.4" ry="1.5" transform="rotate(129 598.8 411.9)" fill="#b0286c"/><ellipse cx="615.6" cy="408" rx="3.2" ry="1.8" transform="rotate(152 615.6 408)" fill="#b8306e"/><ellipse cx="607.7" cy="378.6" rx="2.9" ry="1.8" transform="rotate(139 607.7 378.6)" fill="#c02c74"/><ellipse cx="631.8" cy="372.1" rx="3.6" ry="1.4" transform="rotate(127 631.8 372.1)" fill="#c8347c"/><ellipse cx="657.3" cy="296.6" rx="2.2" ry="1.4" transform="rotate(135 657.3 296.6)" fill="#9c2c6c"/><ellipse cx="614.2" cy="431.6" rx="2.3" ry="2" transform="rotate(108 614.2 431.6)" fill="#a42a6c"/><ellipse cx="655.3" cy="274.9" rx="2.5" ry="1.4" transform="rotate(86 655.3 274.9)" fill="#b8306e"/><ellipse cx="632.5" cy="411.8" rx="3.5" ry="1.6" transform="rotate(7 632.5 411.8)" fill="#a42a6c"/><ellipse cx="636.9" cy="429.4" rx="2.6" ry="2.1" transform="rotate(7 636.9 429.4)" fill="#a42a6c"/><ellipse cx="620" cy="451.9" rx="2.3" ry="1.6" transform="rotate(43 620 451.9)" fill="#a42a6c"/><ellipse cx="621.1" cy="335.4" rx="2.9" ry="1.4" transform="rotate(98 621.1 335.4)" fill="#a42a6c"/><ellipse cx="649.7" cy="352.9" rx="3.2" ry="2.1" transform="rotate(122 649.7 352.9)" fill="#a42a6c"/><ellipse cx="651.8" cy="253.2" rx="3.6" ry="1.4" transform="rotate(73 651.8 253.2)" fill="#b8306e"/><ellipse cx="622.7" cy="391.7" rx="3.6" ry="1.9" transform="rotate(68 622.7 391.7)" fill="#b8306e"/><ellipse cx="671.8" cy="361.4" rx="3.8" ry="2" transform="rotate(44 671.8 361.4)" fill="#c8347c"/><ellipse cx="667" cy="338.9" rx="3.6" ry="2" transform="rotate(59 667 338.9)" fill="#b8306e"/><ellipse cx="677.5" cy="315.1" rx="3.3" ry="1.3" transform="rotate(138 677.5 315.1)" fill="#c8347c"/><ellipse cx="650.3" cy="376.2" rx="2.9" ry="1.5" transform="rotate(179 650.3 376.2)" fill="#a42a6c"/><ellipse cx="658.7" cy="408.4" rx="2.9" ry="1.8" transform="rotate(100 658.7 408.4)" fill="#a42a6c"/><ellipse cx="654.8" cy="432.6" rx="2.3" ry="1.7" transform="rotate(22 654.8 432.6)" fill="#c02c74"/><ellipse cx="673.4" cy="275.3" rx="2.8" ry="2" transform="rotate(69 673.4 275.3)" fill="#c8347c"/><ellipse cx="595.6" cy="80.8" rx="3.5" ry="1.8" transform="rotate(151 595.6 80.8)" fill="#c02c74"/><ellipse cx="641.5" cy="286" rx="3.6" ry="1.5" transform="rotate(91 641.5 286)" fill="#c8347c"/><ellipse cx="677.3" cy="382.7" rx="2.6" ry="2" transform="rotate(46 677.3 382.7)" fill="#9c2c6c"/><ellipse cx="713.5" cy="245.6" rx="3.3" ry="1.7" transform="rotate(166 713.5 245.6)" fill="#9c2c6c"/><ellipse cx="757.5" cy="237.4" rx="2.4" ry="1.4" transform="rotate(14 757.5 237.4)" fill="#c8347c"/><ellipse cx="643.3" cy="397" rx="3.1" ry="2" transform="rotate(148 643.3 397)" fill="#a42a6c"/><ellipse cx="677.9" cy="293.9" rx="2.7" ry="1.5" transform="rotate(125 677.9 293.9)" fill="#9c2c6c"/><ellipse cx="684.9" cy="260.6" rx="2.9" ry="1.4" transform="rotate(93 684.9 260.6)" fill="#c02c74"/><ellipse cx="690.4" cy="278.7" rx="3.5" ry="1.4" transform="rotate(3 690.4 278.7)" fill="#d03c84"/><ellipse cx="696.1" cy="295.7" rx="3.6" ry="1.9" transform="rotate(160 696.1 295.7)" fill="#c8347c"/><ellipse cx="673.6" cy="416.7" rx="2.4" ry="1.9" transform="rotate(19 673.6 416.7)" fill="#b0286c"/><ellipse cx="698.5" cy="378.6" rx="2.4" ry="2" transform="rotate(85 698.5 378.6)" fill="#a42a6c"/><ellipse cx="673" cy="459.8" rx="3" ry="2.1" transform="rotate(70 673 459.8)" fill="#b8306e"/><ellipse cx="765.8" cy="262.7" rx="3" ry="1.5" transform="rotate(176 765.8 262.7)" fill="#d03c84"/><ellipse cx="737.4" cy="247.5" rx="2.6" ry="2" transform="rotate(118 737.4 247.5)" fill="#a42a6c"/><ellipse cx="779.1" cy="243.2" rx="3.5" ry="1.9" transform="rotate(91 779.1 243.2)" fill="#c02c74"/><ellipse cx="667.6" cy="245.5" rx="3.3" ry="1.9" transform="rotate(13 667.6 245.5)" fill="#b0286c"/><ellipse cx="716" cy="300.8" rx="2.6" ry="1.7" transform="rotate(42 716 300.8)" fill="#c02c74"/><ellipse cx="695.2" cy="328.4" rx="2.3" ry="1.9" transform="rotate(159 695.2 328.4)" fill="#b0286c"/><ellipse cx="644.8" cy="463" rx="2.9" ry="1.5" transform="rotate(118 644.8 463)" fill="#a42a6c"/><ellipse cx="718.9" cy="283" rx="3.6" ry="1.4" transform="rotate(129 718.9 283)" fill="#9c2c6c"/><ellipse cx="749" cy="277.2" rx="2.6" ry="1.5" transform="rotate(8 749 277.2)" fill="#c8347c"/><ellipse cx="686.8" cy="400.1" rx="2.7" ry="1.6" transform="rotate(156 686.8 400.1)" fill="#b0286c"/><ellipse cx="713.7" cy="394.1" rx="2.5" ry="1.5" transform="rotate(149 713.7 394.1)" fill="#b0286c"/><ellipse cx="713.1" cy="266" rx="3.7" ry="2" transform="rotate(92 713.1 266)" fill="#9c2c6c"/><ellipse cx="693.1" cy="427.4" rx="3.5" ry="2" transform="rotate(128 693.1 427.4)" fill="#b8306e"/><ellipse cx="671.3" cy="441.5" rx="2.7" ry="1.9" transform="rotate(100 671.3 441.5)" fill="#b0286c"/><ellipse cx="730.5" cy="269.5" rx="2.7" ry="1.9" transform="rotate(62 730.5 269.5)" fill="#c8347c"/><ellipse cx="715.2" cy="353.3" rx="3.7" ry="1.7" transform="rotate(48 715.2 353.3)" fill="#9c2c6c"/><ellipse cx="783.1" cy="290.4" rx="3.3" ry="1.3" transform="rotate(81 783.1 290.4)" fill="#9c2c6c"/><ellipse cx="796.9" cy="246.8" rx="3.1" ry="1.9" transform="rotate(105 796.9 246.8)" fill="#c8347c"/><ellipse cx="799.3" cy="265.8" rx="3.1" ry="1.9" transform="rotate(126 799.3 265.8)" fill="#b0286c"/><ellipse cx="733" cy="294.8" rx="2.4" ry="1.7" transform="rotate(170 733 294.8)" fill="#b8306e"/><ellipse cx="714.1" cy="323.3" rx="3.5" ry="2.1" transform="rotate(124 714.1 323.3)" fill="#b0286c"/><ellipse cx="719.7" cy="371.5" rx="2.9" ry="1.6" transform="rotate(106 719.7 371.5)" fill="#a42a6c"/><ellipse cx="702.7" cy="442.8" rx="3.1" ry="1.6" transform="rotate(147 702.7 442.8)" fill="#d03c84"/><ellipse cx="700.3" cy="411.7" rx="3.8" ry="1.8" transform="rotate(131 700.3 411.7)" fill="#c8347c"/><ellipse cx="738.5" cy="378.5" rx="3" ry="2" transform="rotate(146 738.5 378.5)" fill="#c02c74"/><ellipse cx="694.9" cy="463.9" rx="2.6" ry="1.9" transform="rotate(102 694.9 463.9)" fill="#c8347c"/><ellipse cx="691.1" cy="358.9" rx="3.5" ry="1.3" transform="rotate(19 691.1 358.9)" fill="#b8306e"/><ellipse cx="735.9" cy="405" rx="2.3" ry="1.9" transform="rotate(140 735.9 405)" fill="#a42a6c"/><ellipse cx="720.1" cy="443.1" rx="3" ry="1.6" transform="rotate(112 720.1 443.1)" fill="#9c2c6c"/><ellipse cx="718.5" cy="412.2" rx="2.5" ry="1.5" transform="rotate(22 718.5 412.2)" fill="#b0286c"/><ellipse cx="737.5" cy="357.2" rx="2.8" ry="1.7" transform="rotate(2 737.5 357.2)" fill="#b8306e"/><ellipse cx="801.3" cy="308.4" rx="2.7" ry="1.7" transform="rotate(62 801.3 308.4)" fill="#9c2c6c"/><ellipse cx="732.5" cy="317.2" rx="3.3" ry="1.6" transform="rotate(173 732.5 317.2)" fill="#d03c84"/><ellipse cx="684.1" cy="342.9" rx="2.4" ry="1.6" transform="rotate(85 684.1 342.9)" fill="#b0286c"/><ellipse cx="747.6" cy="330.7" rx="3.3" ry="2" transform="rotate(100 747.6 330.7)" fill="#b8306e"/><ellipse cx="751.5" cy="295.8" rx="3.8" ry="1.8" transform="rotate(166 751.5 295.8)" fill="#b0286c"/><ellipse cx="742.7" cy="440.2" rx="3.8" ry="1.5" transform="rotate(44 742.7 440.2)" fill="#c02c74"/><ellipse cx="747.2" cy="423.1" rx="3.7" ry="1.3" transform="rotate(142 747.2 423.1)" fill="#c8347c"/><ellipse cx="756.7" cy="314.5" rx="3.1" ry="2" transform="rotate(18 756.7 314.5)" fill="#b0286c"/><ellipse cx="759.8" cy="393" rx="3.3" ry="1.5" transform="rotate(135 759.8 393)" fill="#d03c84"/><ellipse cx="827.4" cy="275.7" rx="2.3" ry="1.6" transform="rotate(152 827.4 275.7)" fill="#c02c74"/><ellipse cx="813.6" cy="255.6" rx="2.8" ry="1.4" transform="rotate(99 813.6 255.6)" fill="#c02c74"/><ellipse cx="729.6" cy="334.4" rx="3.3" ry="1.6" transform="rotate(90 729.6 334.4)" fill="#c02c74"/><ellipse cx="775.4" cy="318.1" rx="2.9" ry="1.6" transform="rotate(54 775.4 318.1)" fill="#c8347c"/><ellipse cx="805.7" cy="291.7" rx="2.5" ry="2" transform="rotate(60 805.7 291.7)" fill="#a42a6c"/><ellipse cx="827.9" cy="302.7" rx="3.2" ry="1.4" transform="rotate(74 827.9 302.7)" fill="#d03c84"/><ellipse cx="759.5" cy="349.7" rx="2.9" ry="1.3" transform="rotate(92 759.5 349.7)" fill="#9c2c6c"/><ellipse cx="794" cy="327.8" rx="2.5" ry="1.5" transform="rotate(49 794 327.8)" fill="#a42a6c"/><ellipse cx="768.7" cy="451.6" rx="2.8" ry="1.9" transform="rotate(120 768.7 451.6)" fill="#a42a6c"/><ellipse cx="715.6" cy="464.1" rx="2.2" ry="2.1" transform="rotate(69 715.6 464.1)" fill="#d03c84"/><ellipse cx="765.1" cy="419" rx="3.1" ry="2.1" transform="rotate(10 765.1 419)" fill="#a42a6c"/><ellipse cx="766.1" cy="284.7" rx="3.6" ry="1.4" transform="rotate(41 766.1 284.7)" fill="#9c2c6c"/><ellipse cx="762.2" cy="366.7" rx="2.2" ry="2" transform="rotate(64 762.2 366.7)" fill="#d03c84"/><ellipse cx="774.4" cy="337.1" rx="3.5" ry="1.5" transform="rotate(69 774.4 337.1)" fill="#a42a6c"/><ellipse cx="745.4" cy="458.5" rx="2.5" ry="2" transform="rotate(92 745.4 458.5)" fill="#c02c74"/><ellipse cx="845.2" cy="263.4" rx="3.5" ry="1.5" transform="rotate(150 845.2 263.4)" fill="#9c2c6c"/><ellipse cx="774.6" cy="435.1" rx="2.6" ry="1.8" transform="rotate(80 774.6 435.1)" fill="#c8347c"/><ellipse cx="790.4" cy="344.8" rx="3.6" ry="1.8" transform="rotate(69 790.4 344.8)" fill="#a42a6c"/><ellipse cx="815.3" cy="319.8" rx="3.5" ry="1.3" transform="rotate(8 815.3 319.8)" fill="#c02c74"/><ellipse cx="783.1" cy="397.1" rx="3" ry="2" transform="rotate(110 783.1 397.1)" fill="#a42a6c"/><ellipse cx="846.6" cy="297.5" rx="3.3" ry="1.5" transform="rotate(23 846.6 297.5)" fill="#b0286c"/><ellipse cx="780.1" cy="379.9" rx="2.8" ry="1.9" transform="rotate(63 780.1 379.9)" fill="#b8306e"/><ellipse cx="796.6" cy="424.8" rx="2.6" ry="1.7" transform="rotate(131 796.6 424.8)" fill="#c02c74"/><ellipse cx="816.4" cy="337.3" rx="2.9" ry="1.6" transform="rotate(135 816.4 337.3)" fill="#b0286c"/><ellipse cx="796.5" cy="444.4" rx="3" ry="1.3" transform="rotate(15 796.5 444.4)" fill="#b0286c"/><ellipse cx="837" cy="330" rx="3.6" ry="2.1" transform="rotate(156 837 330)" fill="#9c2c6c"/><ellipse cx="817.7" cy="366.6" rx="2.4" ry="1.7" transform="rotate(66 817.7 366.6)" fill="#c02c74"/><ellipse cx="795.3" cy="369.9" rx="3.4" ry="1.6" transform="rotate(139 795.3 369.9)" fill="#b0286c"/><ellipse cx="812.4" cy="382.8" rx="2.5" ry="2" transform="rotate(49 812.4 382.8)" fill="#c8347c"/><ellipse cx="836.8" cy="355.1" rx="2.8" ry="1.6" transform="rotate(66 836.8 355.1)" fill="#c8347c"/><ellipse cx="848.1" cy="316.5" rx="2.5" ry="1.8" transform="rotate(40 848.1 316.5)" fill="#9c2c6c"/><ellipse cx="835.9" cy="379.2" rx="3.1" ry="1.7" transform="rotate(101 835.9 379.2)" fill="#9c2c6c"/><ellipse cx="800" cy="404.7" rx="2.3" ry="1.7" transform="rotate(0 800 404.7)" fill="#c8347c"/><ellipse cx="822.1" cy="456.1" rx="2.6" ry="1.5" transform="rotate(113 822.1 456.1)" fill="#b0286c"/><ellipse cx="780.2" cy="359" rx="2.5" ry="2" transform="rotate(73 780.2 359)" fill="#b8306e"/><ellipse cx="825.3" cy="403.7" rx="3.7" ry="2" transform="rotate(101 825.3 403.7)" fill="#b8306e"/><ellipse cx="847.1" cy="397.9" rx="3.3" ry="1.7" transform="rotate(152 847.1 397.9)" fill="#c02c74"/><ellipse cx="812" cy="432.9" rx="2.8" ry="1.4" transform="rotate(32 812 432.9)" fill="#d03c84"/><ellipse cx="836.4" cy="416.9" rx="3.3" ry="1.6" transform="rotate(129 836.4 416.9)" fill="#9c2c6c"/><ellipse cx="803.2" cy="464.4" rx="2.5" ry="1.9" transform="rotate(87 803.2 464.4)" fill="#c02c74"/><ellipse cx="845.3" cy="446.1" rx="3.7" ry="1.5" transform="rotate(123 845.3 446.1)" fill="#c8347c"/><ellipse cx="439.2" cy="190.5" rx="3.2" ry="2" transform="rotate(24 439.2 190.5)" fill="#d03c84"/><ellipse cx="419.3" cy="162.7" rx="2.8" ry="1.7" transform="rotate(121 419.3 162.7)" fill="#a42a6c"/><ellipse cx="457.2" cy="218.5" rx="2.2" ry="1.8" transform="rotate(4 457.2 218.5)" fill="#c8347c"/><ellipse cx="482.5" cy="324" rx="2.9" ry="1.6" transform="rotate(122 482.5 324)" fill="#a42a6c"/><ellipse cx="485.8" cy="344.1" rx="3.6" ry="2" transform="rotate(179 485.8 344.1)" fill="#9c2c6c"/><ellipse cx="445.9" cy="178.5" rx="2.9" ry="1.6" transform="rotate(98 445.9 178.5)" fill="#b0286c"/><ellipse cx="483.2" cy="286.8" rx="2.9" ry="1.5" transform="rotate(19 483.2 286.8)" fill="#9c2c6c"/><ellipse cx="519.5" cy="322.6" rx="2.9" ry="1.4" transform="rotate(31 519.5 322.6)" fill="#b0286c"/><ellipse cx="456" cy="263" rx="3.4" ry="2.1" transform="rotate(175 456 263)" fill="#b0286c"/><ellipse cx="420" cy="252.9" rx="2.7" ry="1.7" transform="rotate(38 420 252.9)" fill="#b0286c"/><ellipse cx="506.4" cy="352.1" rx="3.5" ry="1.7" transform="rotate(19 506.4 352.1)" fill="#a42a6c"/><ellipse cx="467.4" cy="366.6" rx="2.8" ry="1.5" transform="rotate(126 467.4 366.6)" fill="#c02c74"/><ellipse cx="445.5" cy="88.6" rx="3" ry="1.4" transform="rotate(41 445.5 88.6)" fill="#c8347c"/><ellipse cx="521.7" cy="362.1" rx="2.7" ry="1.7" transform="rotate(179 521.7 362.1)" fill="#b8306e"/><ellipse cx="536.1" cy="289.4" rx="3.1" ry="1.6" transform="rotate(81 536.1 289.4)" fill="#c8347c"/><ellipse cx="541.5" cy="366.3" rx="2.4" ry="1.3" transform="rotate(76 541.5 366.3)" fill="#a42a6c"/><ellipse cx="515.8" cy="351" rx="3" ry="1.8" transform="rotate(101 515.8 351)" fill="#c02c74"/><ellipse cx="414.2" cy="87.9" rx="3.7" ry="1.6" transform="rotate(152 414.2 87.9)" fill="#b8306e"/><ellipse cx="523.1" cy="292.8" rx="2.8" ry="1.5" transform="rotate(12 523.1 292.8)" fill="#b8306e"/><ellipse cx="552.8" cy="137.3" rx="2.2" ry="1.8" transform="rotate(139 552.8 137.3)" fill="#c02c74"/><ellipse cx="524.3" cy="386.7" rx="2.3" ry="1.7" transform="rotate(37 524.3 386.7)" fill="#d03c84"/><ellipse cx="456.8" cy="84.6" rx="3.5" ry="1.7" transform="rotate(177 456.8 84.6)" fill="#9c2c6c"/><ellipse cx="515.1" cy="103.2" rx="3.1" ry="1.9" transform="rotate(110 515.1 103.2)" fill="#c02c74"/><ellipse cx="510.4" cy="181" rx="2.3" ry="1.9" transform="rotate(83 510.4 181)" fill="#c02c74"/><ellipse cx="553.3" cy="430.8" rx="3.7" ry="1.9" transform="rotate(144 553.3 430.8)" fill="#a42a6c"/><ellipse cx="527.7" cy="152.3" rx="3.3" ry="2" transform="rotate(154 527.7 152.3)" fill="#b0286c"/><ellipse cx="632.9" cy="155.9" rx="2.5" ry="1.7" transform="rotate(161 632.9 155.9)" fill="#c8347c"/><ellipse cx="524.9" cy="115.9" rx="2.5" ry="1.9" transform="rotate(81 524.9 115.9)" fill="#9c2c6c"/><ellipse cx="598" cy="355.9" rx="2.5" ry="1.9" transform="rotate(13 598 355.9)" fill="#a42a6c"/><ellipse cx="566" cy="400.1" rx="3.5" ry="2.1" transform="rotate(54 566 400.1)" fill="#c02c74"/><ellipse cx="626.3" cy="217.8" rx="2.5" ry="1.8" transform="rotate(49 626.3 217.8)" fill="#d03c84"/><ellipse cx="567.9" cy="430.5" rx="2.5" ry="1.8" transform="rotate(103 567.9 430.5)" fill="#a42a6c"/><ellipse cx="639.4" cy="413.8" rx="2.4" ry="1.9" transform="rotate(57 639.4 413.8)" fill="#9c2c6c"/><ellipse cx="642.3" cy="355.5" rx="2.7" ry="1.7" transform="rotate(81 642.3 355.5)" fill="#b8306e"/><ellipse cx="658.9" cy="416.4" rx="2.9" ry="1.8" transform="rotate(101 658.9 416.4)" fill="#d03c84"/><ellipse cx="672.8" cy="290.3" rx="3.2" ry="2.1" transform="rotate(103 672.8 290.3)" fill="#b0286c"/><ellipse cx="679.8" cy="267.9" rx="3" ry="1.5" transform="rotate(141 679.8 267.9)" fill="#d03c84"/><ellipse cx="664.7" cy="251.3" rx="3.1" ry="1.7" transform="rotate(94 664.7 251.3)" fill="#b8306e"/><ellipse cx="716.6" cy="307" rx="2.6" ry="1.3" transform="rotate(74 716.6 307)" fill="#9c2c6c"/><ellipse cx="674.1" cy="450" rx="2.5" ry="1.5" transform="rotate(100 674.1 450)" fill="#d03c84"/><ellipse cx="708.3" cy="355.8" rx="3.1" ry="2.1" transform="rotate(64 708.3 355.8)" fill="#9c2c6c"/><ellipse cx="737.1" cy="287.6" rx="2.7" ry="1.8" transform="rotate(128 737.1 287.6)" fill="#b0286c"/><ellipse cx="695.3" cy="439.7" rx="3.7" ry="1.9" transform="rotate(57 695.3 439.7)" fill="#b8306e"/><ellipse cx="793.7" cy="308.6" rx="3.1" ry="2" transform="rotate(98 793.7 308.6)" fill="#d03c84"/><ellipse cx="757.3" cy="292.4" rx="3.3" ry="1.8" transform="rotate(153 757.3 292.4)" fill="#a42a6c"/><ellipse cx="730" cy="341.8" rx="2.8" ry="2" transform="rotate(106 730 341.8)" fill="#b8306e"/><ellipse cx="810.8" cy="285.2" rx="3.2" ry="1.8" transform="rotate(102 810.8 285.2)" fill="#c8347c"/><ellipse cx="797.8" cy="432.9" rx="2.4" ry="1.9" transform="rotate(127 797.8 432.9)" fill="#c02c74"/><ellipse cx="815.1" cy="331.1" rx="2.5" ry="1.8" transform="rotate(135 815.1 331.1)" fill="#a42a6c"/><ellipse cx="808" cy="376.2" rx="3.2" ry="2" transform="rotate(138 808 376.2)" fill="#c8347c"/><ellipse cx="828.1" cy="353.2" rx="2.7" ry="1.3" transform="rotate(44 828.1 353.2)" fill="#b8306e"/><ellipse cx="839.8" cy="399.8" rx="2.8" ry="1.6" transform="rotate(60 839.8 399.8)" fill="#b0286c"/></g><g fill="#f070b0" opacity="0.5" filter="url(#bl2)"><ellipse cx="375.9" cy="78.7" rx="7.6" ry="4.7" transform="rotate(62 375.9 78.7)"/><ellipse cx="386.3" cy="95.3" rx="7.9" ry="5.0" transform="rotate(60 386.3 95.3)"/><ellipse cx="392.9" cy="102.2" rx="6.8" ry="4.6" transform="rotate(63 392.9 102.2)"/><ellipse cx="397.2" cy="109.4" rx="6.8" ry="4.8" transform="rotate(69 397.2 109.4)"/><ellipse cx="401.3" cy="129.2" rx="8.1" ry="5.1" transform="rotate(82 401.3 129.2)"/><ellipse cx="400.6" cy="140.4" rx="8.5" ry="4.9" transform="rotate(85 400.6 140.4)"/><ellipse cx="398.0" cy="151.0" rx="8.4" ry="4.6" transform="rotate(132 398.0 151.0)"/><ellipse cx="386.5" cy="155.9" rx="6.2" ry="4.1" transform="rotate(145 386.5 155.9)"/><ellipse cx="390.6" cy="154.9" rx="6.7" ry="4.9" transform="rotate(101 390.6 154.9)"/><ellipse cx="388.3" cy="166.3" rx="7.9" ry="4.4" transform="rotate(121 388.3 166.3)"/><ellipse cx="383.7" cy="179.3" rx="8.4" ry="4.5" transform="rotate(95 383.7 179.3)"/><ellipse cx="385.8" cy="188.9" rx="8.2" ry="4.5" transform="rotate(70 385.8 188.9)"/><ellipse cx="391.0" cy="198.5" rx="6.1" ry="4.2" transform="rotate(76 391.0 198.5)"/><ellipse cx="397.4" cy="207.2" rx="6.1" ry="4.9" transform="rotate(68 397.4 207.2)"/><ellipse cx="402.7" cy="227.1" rx="7.3" ry="5.0" transform="rotate(84 402.7 227.1)"/><ellipse cx="413.0" cy="246.4" rx="6.8" ry="4.7" transform="rotate(62 413.0 246.4)"/><ellipse cx="416.1" cy="259.8" rx="8.3" ry="4.4" transform="rotate(49 416.1 259.8)"/><ellipse cx="425.0" cy="279.9" rx="7.0" ry="4.7" transform="rotate(88 425.0 279.9)"/><ellipse cx="426.1" cy="284.5" rx="8.2" ry="4.7" transform="rotate(91 426.1 284.5)"/><ellipse cx="428.6" cy="298.6" rx="7.2" ry="5.0" transform="rotate(84 428.6 298.6)"/><ellipse cx="433.9" cy="308.1" rx="7.0" ry="4.7" transform="rotate(75 433.9 308.1)"/><ellipse cx="439.8" cy="319.2" rx="6.9" ry="4.6" transform="rotate(87 439.8 319.2)"/><ellipse cx="443.4" cy="335.1" rx="6.0" ry="5.1" transform="rotate(90 443.4 335.1)"/><ellipse cx="448.7" cy="352.2" rx="6.9" ry="4.9" transform="rotate(72 448.7 352.2)"/><ellipse cx="450.8" cy="359.2" rx="8.1" ry="4.3" transform="rotate(78 450.8 359.2)"/><ellipse cx="457.3" cy="372.9" rx="6.9" ry="4.1" transform="rotate(59 457.3 372.9)"/><ellipse cx="458.7" cy="381.4" rx="6.5" ry="4.4" transform="rotate(56 458.7 381.4)"/><ellipse cx="464.2" cy="386.4" rx="7.3" ry="4.7" transform="rotate(55 464.2 386.4)"/><ellipse cx="471.0" cy="397.4" rx="7.5" ry="4.7" transform="rotate(42 471.0 397.4)"/><ellipse cx="477.8" cy="405.8" rx="6.3" ry="4.4" transform="rotate(44 477.8 405.8)"/><ellipse cx="478.5" cy="414.1" rx="7.5" ry="4.6" transform="rotate(66 478.5 414.1)"/><ellipse cx="490.5" cy="421.6" rx="6.9" ry="4.6" transform="rotate(52 490.5 421.6)"/><ellipse cx="499.9" cy="434.5" rx="7.7" ry="4.3" transform="rotate(51 499.9 434.5)"/><ellipse cx="504.3" cy="444.0" rx="6.8" ry="4.9" transform="rotate(49 504.3 444.0)"/><ellipse cx="514.8" cy="447.8" rx="6.8" ry="4.8" transform="rotate(30 514.8 447.8)"/><ellipse cx="523.9" cy="453.4" rx="7.5" ry="4.8" transform="rotate(59 523.9 453.4)"/><ellipse cx="537.6" cy="464.9" rx="8.4" ry="4.3" transform="rotate(46 537.6 464.9)"/></g><g opacity="0.85" filter="url(#bl1)"><ellipse cx="375.9" cy="78.7" rx="5.1" ry="2.2" transform="rotate(62 375.9 78.7)" fill="#e0488a"/><ellipse cx="386.3" cy="95.3" rx="5.4" ry="2.5" transform="rotate(60 386.3 95.3)" fill="#c8306f"/><ellipse cx="392.9" cy="102.2" rx="4.3" ry="2.1" transform="rotate(63 392.9 102.2)" fill="#e0488a"/><ellipse cx="397.2" cy="109.4" rx="4.3" ry="2.3" transform="rotate(69 397.2 109.4)" fill="#c8306f"/><ellipse cx="401.3" cy="129.2" rx="5.6" ry="2.6" transform="rotate(82 401.3 129.2)" fill="#d83a80"/><ellipse cx="400.6" cy="140.4" rx="6.0" ry="2.4" transform="rotate(85 400.6 140.4)" fill="#d83a80"/><ellipse cx="398.0" cy="151.0" rx="5.9" ry="2.1" transform="rotate(132 398.0 151.0)" fill="#e0488a"/><ellipse cx="386.5" cy="155.9" rx="3.7" ry="1.6" transform="rotate(145 386.5 155.9)" fill="#e0488a"/><ellipse cx="390.6" cy="154.9" rx="4.2" ry="2.4" transform="rotate(101 390.6 154.9)" fill="#d83a80"/><ellipse cx="388.3" cy="166.3" rx="5.4" ry="1.9" transform="rotate(121 388.3 166.3)" fill="#d83a80"/><ellipse cx="383.7" cy="179.3" rx="5.9" ry="2.0" transform="rotate(95 383.7 179.3)" fill="#c8306f"/><ellipse cx="385.8" cy="188.9" rx="5.7" ry="2.0" transform="rotate(70 385.8 188.9)" fill="#c8306f"/><ellipse cx="391.0" cy="198.5" rx="3.6" ry="1.7" transform="rotate(76 391.0 198.5)" fill="#d83a80"/><ellipse cx="397.4" cy="207.2" rx="3.6" ry="2.4" transform="rotate(68 397.4 207.2)" fill="#d83a80"/><ellipse cx="402.7" cy="227.1" rx="4.8" ry="2.5" transform="rotate(84 402.7 227.1)" fill="#b82a6a"/><ellipse cx="413.0" cy="246.4" rx="4.3" ry="2.2" transform="rotate(62 413.0 246.4)" fill="#b82a6a"/><ellipse cx="416.1" cy="259.8" rx="5.8" ry="1.9" transform="rotate(49 416.1 259.8)" fill="#d83a80"/><ellipse cx="425.0" cy="279.9" rx="4.5" ry="2.2" transform="rotate(88 425.0 279.9)" fill="#b82a6a"/><ellipse cx="426.1" cy="284.5" rx="5.7" ry="2.2" transform="rotate(91 426.1 284.5)" fill="#c8306f"/><ellipse cx="428.6" cy="298.6" rx="4.7" ry="2.5" transform="rotate(84 428.6 298.6)" fill="#c8306f"/><ellipse cx="433.9" cy="308.1" rx="4.5" ry="2.2" transform="rotate(75 433.9 308.1)" fill="#e0488a"/><ellipse cx="439.8" cy="319.2" rx="4.4" ry="2.1" transform="rotate(87 439.8 319.2)" fill="#c8306f"/><ellipse cx="443.4" cy="335.1" rx="3.5" ry="2.6" transform="rotate(90 443.4 335.1)" fill="#c8306f"/><ellipse cx="448.7" cy="352.2" rx="4.4" ry="2.4" transform="rotate(72 448.7 352.2)" fill="#b82a6a"/><ellipse cx="450.8" cy="359.2" rx="5.6" ry="1.8" transform="rotate(78 450.8 359.2)" fill="#b82a6a"/><ellipse cx="457.3" cy="372.9" rx="4.4" ry="1.6" transform="rotate(59 457.3 372.9)" fill="#c8306f"/><ellipse cx="458.7" cy="381.4" rx="4.0" ry="1.9" transform="rotate(56 458.7 381.4)" fill="#b82a6a"/><ellipse cx="464.2" cy="386.4" rx="4.8" ry="2.2" transform="rotate(55 464.2 386.4)" fill="#d83a80"/><ellipse cx="471.0" cy="397.4" rx="5.0" ry="2.2" transform="rotate(42 471.0 397.4)" fill="#e0488a"/><ellipse cx="477.8" cy="405.8" rx="3.8" ry="1.9" transform="rotate(44 477.8 405.8)" fill="#b82a6a"/><ellipse cx="478.5" cy="414.1" rx="5.0" ry="2.1" transform="rotate(66 478.5 414.1)" fill="#b82a6a"/><ellipse cx="490.5" cy="421.6" rx="4.4" ry="2.1" transform="rotate(52 490.5 421.6)" fill="#c8306f"/><ellipse cx="499.9" cy="434.5" rx="5.2" ry="1.8" transform="rotate(51 499.9 434.5)" fill="#c8306f"/><ellipse cx="504.3" cy="444.0" rx="4.3" ry="2.4" transform="rotate(49 504.3 444.0)" fill="#d83a80"/><ellipse cx="514.8" cy="447.8" rx="4.3" ry="2.3" transform="rotate(30 514.8 447.8)" fill="#b82a6a"/><ellipse cx="523.9" cy="453.4" rx="5.0" ry="2.3" transform="rotate(59 523.9 453.4)" fill="#c8306f"/><ellipse cx="537.6" cy="464.9" rx="5.9" ry="1.8" transform="rotate(46 537.6 464.9)" fill="#c8306f"/></g></g><ellipse cx="443" cy="391" rx="2" ry="2.6" fill="#302020"/><rect x="642" y="79" width="210" height="157" fill="#e8fdfb"/><path d="M743.8 94.5L747.9 92.8L749.5 92.5L753.0 95.1L756.2 96.2L758.4 95.6L762.2 95.4L764.7 99.4L768.5 100.5L768.2 101.1L771.4 102.8L773.4 105.1L775.9 106.6L777.4 109.7L781.0 111.9L782.7 117.7L786.0 119.4L785.4 123.1L786.6 127.0L789.3 128.4L790.7 132.0L791.0 134.0L792.9 137.9L794.9 142.9L794.0 144.8L795.3 148.6L795.1 150.1L798.5 155.3L797.0 158.2L796.0 161.8L797.5 163.9L795.0 165.7L795.0 169.6L794.8 173.0L794.9 178.1L793.5 180.6L791.7 184.0L791.4 187.6L791.3 188.3L790.0 194.3L789.7 194.8L789.5 199.3L787.9 203.1L786.7 205.5L784.3 206.6L782.4 211.0L781.1 213.6L779.4 216.7L776.2 218.2L772.7 219.8L770.7 220.5L767.8 224.1L765.0 223.7L762.2 227.1L759.5 226.3L755.1 228.8L752.3 228.2L752.1 228.6L748.8 227.2L746.3 226.5L740.6 224.8L739.6 223.2L736.4 224.7L732.6 223.0L729.4 219.2L727.2 219.0L723.8 217.0L720.9 215.8L717.9 215.9L716.4 212.9L711.9 207.9L711.5 204.6L710.4 202.3L707.4 198.7L708.7 197.0L706.8 193.5L704.2 190.2L702.3 188.2L701.2 185.0L698.9 183.2L695.6 181.8L695.3 178.0L692.4 176.8L689.7 173.4L689.1 169.8L691.7 164.4L691.0 160.2L692.3 159.5L693.4 156.0L693.2 153.8L694.2 148.8L693.6 145.2L692.0 141.9L692.1 139.7L695.3 136.6L696.1 134.0L700.5 131.2L699.1 126.7L700.2 123.0L703.8 121.7L703.6 117.7L705.1 113.0L707.1 109.4L707.8 107.3L710.2 107.5L714.9 104.6L718.2 102.3L720.2 101.1L724.0 101.1L726.0 98.8L727.4 96.7L731.0 95.9L733.9 96.4L738.5 95.2L740.7 92.8Z" fill="#9ea8e8"/><g clip-path="url(#cb1)"><ellipse cx="745" cy="163" rx="44" ry="56" fill="#c4c8f4" opacity="0.85" filter="url(#bl8)"/><ellipse cx="728" cy="170" rx="16" ry="20" fill="#dcb6ec" opacity="0.7" filter="url(#bl8)"/><ellipse cx="760" cy="140" rx="18" ry="22" fill="#c8dcf4" opacity="0.6" filter="url(#bl8)"/><rect x="688" y="90" width="112" height="142" filter="url(#mott2)" opacity="0.55"/></g></g><g clip-path="url(#cp2)"><rect x="861.5" y="80" width="511.0" height="385" fill="#cdeedd"/><g clip-path="url(#ct2)"><rect x="861.5" y="80" width="511.0" height="385" fill="#a4d4f0"/><rect x="861.5" y="80" width="511.0" height="385" filter="url(#mott1)"/><rect x="861.5" y="80" width="511.0" height="385" filter="url(#mott4)" opacity="0.7"/><rect x="861.5" y="80" width="511.0" height="385" filter="url(#mott2)" opacity="0.55"/><rect x="861.5" y="80" width="511.0" height="385" filter="url(#mott3)" opacity="0.7"/><ellipse cx="885" cy="165" rx="24" ry="45" fill="#3f8fe0" opacity="0.6" filter="url(#bl8)"/><ellipse cx="918" cy="185" rx="28" ry="25" fill="#3f9fe6" opacity="0.5" filter="url(#bl8)"/><ellipse cx="905" cy="320" rx="15" ry="25" fill="#4a98e6" opacity="0.35" filter="url(#bl8)"/><ellipse cx="1000" cy="150" rx="20" ry="20" fill="#49a8e8" opacity="0.35" filter="url(#bl8)"/><ellipse cx="1090" cy="170" rx="30" ry="25" fill="#5ab8ea" opacity="0.35" filter="url(#bl8)"/><ellipse cx="955" cy="290" rx="18" ry="25" fill="#4aa2e6" opacity="0.35" filter="url(#bl8)"/><ellipse cx="1350" cy="430" rx="30" ry="40" fill="#b07cc8" opacity="0.5" filter="url(#bl8)"/><ellipse cx="1300" cy="445" rx="25" ry="20" fill="#d07ab8" opacity="0.4" filter="url(#bl8)"/><ellipse cx="975" cy="150" rx="50" ry="40" fill="#58b0e8" opacity="0.22" filter="url(#bl8)"/><ellipse cx="1090" cy="240" rx="60" ry="35" fill="#7fd4f0" opacity="0.25" filter="url(#bl8)"/><ellipse cx="1240" cy="295" rx="35" ry="20" fill="#f0c8e8" opacity="0.4" filter="url(#bl8)"/><ellipse cx="1050" cy="300" rx="40" ry="25" fill="#f0e0f4" opacity="0.35" filter="url(#bl8)"/><path d="M869.4 78C869.5 78.7 867.4 78.5 870 82C872.6 85.5 879.6 94.4 884.9 98.7C890.2 103 896.5 104.8 901.7 107.8C906.9 110.8 913.2 112.8 916 116.9C918.8 121 919.5 128.5 918.6 132.4C917.7 136.3 914.7 137.6 910.8 140.2C906.9 142.8 899 144.6 895.3 148C891.6 151.4 891 156.2 888.8 160.9C886.6 165.6 885.1 171.7 882.3 176.4C879.5 181.2 875.2 185.5 872 189.4C868.8 193.3 864.4 198.1 862.9 199.8" stroke="#e8589a" stroke-width="5" fill="none" opacity="0.75" filter="url(#bl1)"/><path d="M874.5 233.4C875.1 235.6 877.2 242.5 878.4 246.4C879.6 250.3 880.7 253.7 881.5 257C882.3 260.3 881.4 262.8 883 266C884.6 269.2 887.3 272.7 891 276C894.7 279.3 901 283 905 285.6C909 288.2 912.9 289.4 915 291.5C917.1 293.6 918.8 296.5 917.5 298.5C916.2 300.5 911.6 302.3 907 303.5C902.4 304.7 894 304.2 890 305.5C886 306.8 883.7 308.9 883 311.5C882.3 314.1 884.7 317.8 886 321C887.3 324.2 889.7 327.7 891 331C892.3 334.3 892.7 337.8 894 341C895.3 344.2 896.3 347.5 899 350C901.7 352.5 906.3 354 910 356C913.7 358 916.1 358.5 921.2 362C926.3 365.5 934.8 371.8 940.6 376.8C946.4 381.9 951.6 385.8 956.1 392.3C960.6 398.8 964.5 407.9 967.8 415.7C971 423.5 973 431.2 975.6 439C978.2 446.8 981.6 457.1 983.3 462.3C985 467.5 985.5 468.7 986 470" stroke="#e8589a" stroke-width="5" fill="none" opacity="0.75" filter="url(#bl1)"/><g fill="#f2f2fc" stroke="#f2a6d6" stroke-width="1.6" opacity="0.5" filter="url(#bl1)"><ellipse cx="1030.1" cy="116.7" rx="6.3" ry="6"/><ellipse cx="1061.3" cy="120.5" rx="6.2" ry="3.8"/><ellipse cx="1052.3" cy="102" rx="3.6" ry="6.1"/><ellipse cx="1070.4" cy="90.1" rx="5.3" ry="6.4"/><ellipse cx="1021.6" cy="135.9" rx="3.2" ry="3.6"/><ellipse cx="1048.9" cy="148.3" rx="4" ry="5.7"/><ellipse cx="1040.5" cy="87.3" rx="3.5" ry="4.6"/><ellipse cx="1024.2" cy="85.5" rx="5.3" ry="4.6"/><ellipse cx="1092.5" cy="82.3" rx="5.2" ry="4.1"/><ellipse cx="1045.6" cy="124.2" rx="5.9" ry="4.9"/><ellipse cx="1078.3" cy="128.6" rx="6.3" ry="3.8"/><ellipse cx="1013.9" cy="163.1" rx="4.8" ry="4.8"/><ellipse cx="1100.1" cy="110.7" rx="5" ry="4.8"/><ellipse cx="1070.6" cy="166.7" rx="5.9" ry="5.5"/><ellipse cx="1065" cy="146.1" rx="5.2" ry="6.2"/><ellipse cx="1055.9" cy="188.1" rx="4.1" ry="6.4"/><ellipse cx="1113.2" cy="100.6" rx="3.1" ry="5"/><ellipse cx="1032.1" cy="183.1" rx="4.2" ry="3"/><ellipse cx="1035.6" cy="212.4" rx="6.3" ry="3.8"/><ellipse cx="1073.7" cy="109.4" rx="4" ry="5.4"/><ellipse cx="1104.7" cy="130.2" rx="5.9" ry="3.4"/><ellipse cx="1121.8" cy="126.1" rx="3.5" ry="5.5"/><ellipse cx="1130.9" cy="96.5" rx="6.4" ry="4"/><ellipse cx="1114" cy="143.7" rx="6" ry="4.1"/><ellipse cx="994.9" cy="149.6" rx="4.7" ry="5.7"/><ellipse cx="1151.3" cy="129.7" rx="3.7" ry="4.9"/><ellipse cx="987.9" cy="128.3" rx="3.2" ry="4.2"/><ellipse cx="1005.3" cy="118.6" rx="4.1" ry="5.8"/><ellipse cx="1081.6" cy="181.6" rx="3.7" ry="4.3"/><ellipse cx="1007.6" cy="184.4" rx="3.8" ry="3.3"/><ellipse cx="1109.9" cy="81.5" rx="4.7" ry="5.7"/><ellipse cx="1097.1" cy="172.7" rx="4.5" ry="5.6"/><ellipse cx="1083.2" cy="152.8" rx="4.9" ry="4.2"/><ellipse cx="1065.3" cy="203.1" rx="6" ry="4"/><ellipse cx="1032.7" cy="156.3" rx="3.3" ry="5.4"/><ellipse cx="1091.2" cy="199.5" rx="4.6" ry="3.9"/><ellipse cx="1110.8" cy="189.2" rx="4.2" ry="5.8"/><ellipse cx="1121.5" cy="166.9" rx="4.2" ry="3.8"/><ellipse cx="1052.9" cy="164.9" rx="3.4" ry="4.2"/><ellipse cx="1139.5" cy="116.3" rx="6" ry="5.5"/><ellipse cx="991.9" cy="199.5" rx="3.7" ry="4.5"/><ellipse cx="978.2" cy="217.9" rx="5.1" ry="4.4"/><ellipse cx="937.3" cy="93.7" rx="3.5" ry="5"/><ellipse cx="976.2" cy="158.1" rx="4.6" ry="4.9"/><ellipse cx="1104.6" cy="213.9" rx="5" ry="5.4"/><ellipse cx="1133.3" cy="148.3" rx="4.9" ry="3.4"/><ellipse cx="959.6" cy="192.7" rx="5.1" ry="5"/><ellipse cx="992.2" cy="177.2" rx="3.1" ry="3.4"/><ellipse cx="1106.5" cy="231.9" rx="4.9" ry="5.5"/><ellipse cx="1021" cy="196.2" rx="6.2" ry="4"/><ellipse cx="1150.8" cy="90" rx="3.4" ry="4.6"/><ellipse cx="1103.3" cy="256.4" rx="4.9" ry="3.9"/><ellipse cx="1089" cy="98.7" rx="3.5" ry="3.9"/><ellipse cx="1074.2" cy="221" rx="3.4" ry="4"/><ellipse cx="961.3" cy="150.2" rx="4.7" ry="4.5"/><ellipse cx="950.7" cy="165.1" rx="4.4" ry="6.2"/><ellipse cx="964.5" cy="175.9" rx="5.2" ry="3.2"/><ellipse cx="915.8" cy="114.9" rx="4.5" ry="3.7"/><ellipse cx="1145.1" cy="159.6" rx="5.3" ry="3.8"/><ellipse cx="913.2" cy="84" rx="3.7" ry="5.4"/><ellipse cx="1120.3" cy="240.2" rx="4.6" ry="3.4"/><ellipse cx="978.2" cy="187.8" rx="4.7" ry="5.5"/><ellipse cx="969.8" cy="119.9" rx="4.9" ry="3.9"/><ellipse cx="1120.2" cy="276.4" rx="6.1" ry="6.5"/><ellipse cx="1022.4" cy="230.2" rx="3.2" ry="6.3"/><ellipse cx="1088.5" cy="232.7" rx="3.6" ry="5.1"/><ellipse cx="1143.3" cy="254.9" rx="5.5" ry="4.4"/><ellipse cx="991.2" cy="228.4" rx="6.5" ry="6.3"/><ellipse cx="1072.7" cy="244.3" rx="5.1" ry="5.6"/><ellipse cx="962.5" cy="238.7" rx="3.2" ry="5.2"/><ellipse cx="1052.1" cy="227.2" rx="5.9" ry="6.2"/><ellipse cx="984.9" cy="243.2" rx="4.6" ry="4.7"/><ellipse cx="942.5" cy="215.4" rx="3.6" ry="5.2"/><ellipse cx="937.4" cy="191.2" rx="4.4" ry="3.2"/><ellipse cx="1121.9" cy="221.8" rx="4" ry="5.7"/><ellipse cx="1132.5" cy="186.9" rx="4.8" ry="6.4"/><ellipse cx="998.8" cy="270.8" rx="3" ry="3"/><ellipse cx="1051.8" cy="245.4" rx="4.7" ry="5.5"/><ellipse cx="1011.2" cy="216.3" rx="3.9" ry="4"/><ellipse cx="1150.9" cy="176.1" rx="3.3" ry="5.3"/><ellipse cx="1151.7" cy="225" rx="5" ry="4"/><ellipse cx="950" cy="125.2" rx="4.1" ry="6.1"/><ellipse cx="999.3" cy="254.2" rx="3.9" ry="6.1"/><ellipse cx="1165.7" cy="196.5" rx="4.8" ry="4.8"/><ellipse cx="945.7" cy="108.7" rx="5" ry="4.9"/><ellipse cx="919.3" cy="199.4" rx="4.9" ry="3.6"/><ellipse cx="963.5" cy="209.8" rx="4.8" ry="3.5"/><ellipse cx="1107.6" cy="286.5" rx="4.5" ry="4.4"/><ellipse cx="1134.2" cy="205.8" rx="6.4" ry="6.2"/><ellipse cx="924" cy="151.3" rx="5.7" ry="5.5"/><ellipse cx="1149.3" cy="200.3" rx="6" ry="4.4"/><ellipse cx="1136.6" cy="237.4" rx="3.1" ry="6.5"/><ellipse cx="964.4" cy="259.3" rx="3.5" ry="5.2"/><ellipse cx="976.6" cy="270.6" rx="3.6" ry="4.8"/><ellipse cx="905.9" cy="172.7" rx="3.8" ry="3.7"/><ellipse cx="1020.5" cy="248.4" rx="4.8" ry="5.3"/><ellipse cx="1027.8" cy="272.9" rx="4.4" ry="3.3"/><ellipse cx="1162.8" cy="250.2" rx="3.9" ry="5.8"/><ellipse cx="926.4" cy="132.2" rx="3.8" ry="3.8"/><ellipse cx="984.2" cy="286.3" rx="4.8" ry="3.4"/><ellipse cx="941.2" cy="149.3" rx="6.2" ry="3.7"/><ellipse cx="936.5" cy="249.6" rx="5.7" ry="5.6"/><ellipse cx="908.9" cy="249.9" rx="3.6" ry="4.4"/><ellipse cx="1180.1" cy="244.9" rx="5.3" ry="6.2"/><ellipse cx="1003" cy="290.1" rx="5.7" ry="6.2"/><ellipse cx="928.3" cy="173.2" rx="4.3" ry="6.5"/><ellipse cx="919.1" cy="236.4" rx="3.5" ry="4"/><ellipse cx="1109.3" cy="306" rx="5" ry="5.2"/><ellipse cx="1088.2" cy="292.5" rx="3.4" ry="5.4"/><ellipse cx="917.1" cy="217.7" rx="4.2" ry="4.8"/><ellipse cx="885.7" cy="242.3" rx="4.9" ry="6.1"/><ellipse cx="1003.9" cy="238.6" rx="3.9" ry="4.2"/><ellipse cx="901.4" cy="189.6" rx="4.9" ry="4.4"/><ellipse cx="1081.9" cy="259.3" rx="6.1" ry="4.9"/><ellipse cx="885.2" cy="98" rx="6.2" ry="6.3"/><ellipse cx="1063.9" cy="277.9" rx="5.6" ry="3.2"/><ellipse cx="1126.4" cy="261.6" rx="6" ry="6.2"/><ellipse cx="1117.5" cy="320" rx="3" ry="4.4"/><ellipse cx="1174.6" cy="261.8" rx="5.5" ry="4.9"/><ellipse cx="1106.1" cy="159.3" rx="3.7" ry="4.8"/><ellipse cx="890.4" cy="217" rx="5.3" ry="4.6"/><ellipse cx="900.2" cy="153.2" rx="5.7" ry="6.4"/><ellipse cx="898.5" cy="107.5" rx="4.6" ry="4.7"/><ellipse cx="1080" cy="308.8" rx="5.1" ry="4"/><ellipse cx="882.8" cy="163.7" rx="5.2" ry="4"/><ellipse cx="868.6" cy="220.3" rx="5.9" ry="3.9"/><ellipse cx="893.4" cy="84.3" rx="5.2" ry="3.5"/><ellipse cx="1045.7" cy="266.4" rx="5" ry="4.9"/><ellipse cx="1093.5" cy="275" rx="6.5" ry="3.1"/><ellipse cx="1028.7" cy="292" rx="4.9" ry="3.5"/><ellipse cx="1090.8" cy="335" rx="3.7" ry="6.1"/><ellipse cx="1053.8" cy="320.5" rx="5.6" ry="5.6"/><ellipse cx="1094.8" cy="318.2" rx="6.4" ry="5.1"/><ellipse cx="1109.5" cy="349" rx="3.8" ry="3.5"/><ellipse cx="942.5" cy="281.3" rx="5.1" ry="3.2"/><ellipse cx="1033.9" cy="324.9" rx="6" ry="3.8"/><ellipse cx="893.8" cy="260.5" rx="3.2" ry="3.4"/><ellipse cx="866.4" cy="200.1" rx="4.2" ry="5.5"/><ellipse cx="889.4" cy="200.5" rx="6.3" ry="6.2"/><ellipse cx="1190.5" cy="258.6" rx="5" ry="3.9"/><ellipse cx="1037" cy="252" rx="3.2" ry="5"/><ellipse cx="1056.3" cy="295.9" rx="4.4" ry="3.6"/><ellipse cx="1152.7" cy="270.2" rx="5.1" ry="3.6"/><ellipse cx="1162.8" cy="212.9" rx="3.1" ry="5.3"/><ellipse cx="1127.4" cy="291" rx="6" ry="4.2"/><ellipse cx="877.9" cy="181" rx="3.2" ry="5.5"/><ellipse cx="1163.2" cy="286.9" rx="4.5" ry="4.3"/><ellipse cx="945.9" cy="263.3" rx="5.4" ry="5.2"/><ellipse cx="1145.2" cy="288.8" rx="5" ry="3.2"/><ellipse cx="946.7" cy="316.8" rx="4.2" ry="5.2"/><ellipse cx="1043.3" cy="284.9" rx="6.3" ry="5.9"/><ellipse cx="918.9" cy="99.2" rx="3.9" ry="4.2"/><ellipse cx="1182.7" cy="291.2" rx="4.2" ry="3.5"/><ellipse cx="930.6" cy="296.7" rx="4.2" ry="5.2"/><ellipse cx="1069.5" cy="335" rx="4.4" ry="3.5"/><ellipse cx="1229.3" cy="257" rx="4.6" ry="5.4"/><ellipse cx="907.8" cy="279.9" rx="5.1" ry="4.8"/><ellipse cx="1124.8" cy="342.7" rx="5.3" ry="5.8"/><ellipse cx="1061.7" cy="259.8" rx="5.2" ry="3.3"/><ellipse cx="959.9" cy="277" rx="4.6" ry="4.1"/><ellipse cx="1075.5" cy="354.4" rx="4.2" ry="6.3"/><ellipse cx="1257.1" cy="238.7" rx="6" ry="5.3"/><ellipse cx="1013.6" cy="264" rx="5.2" ry="6.3"/><ellipse cx="946.1" cy="334.2" rx="5.3" ry="3.2"/><ellipse cx="1018.2" cy="304.4" rx="5.1" ry="3.2"/><ellipse cx="1264" cy="261" rx="6.4" ry="5.1"/><ellipse cx="1050.5" cy="349" rx="3" ry="6.4"/><ellipse cx="1116.5" cy="386.1" rx="3.2" ry="5.8"/><ellipse cx="923.5" cy="270" rx="3.4" ry="5"/><ellipse cx="1097.3" cy="370.3" rx="5" ry="5.2"/><ellipse cx="1120.6" cy="368.1" rx="6.2" ry="5.4"/><ellipse cx="1028.9" cy="341.5" rx="5.7" ry="4.4"/><ellipse cx="1212.7" cy="254" rx="3.1" ry="4"/><ellipse cx="912.5" cy="298.4" rx="4.4" ry="5.3"/><ellipse cx="1164" cy="396.5" rx="3.2" ry="3.8"/><ellipse cx="1030.9" cy="358" rx="5.4" ry="5.4"/><ellipse cx="920.9" cy="313.6" rx="3.1" ry="5.8"/><ellipse cx="1274.5" cy="247.4" rx="6" ry="6.1"/><ellipse cx="1040.3" cy="306.9" rx="3.6" ry="3.5"/><ellipse cx="1063" cy="366.7" rx="3.7" ry="6.4"/><ellipse cx="1290.9" cy="256.5" rx="3.4" ry="5.4"/><ellipse cx="921.8" cy="337.1" rx="5" ry="3.6"/><ellipse cx="936.1" cy="360.7" rx="5.1" ry="5"/><ellipse cx="1192.9" cy="407.2" rx="4.6" ry="3.5"/><ellipse cx="1201.4" cy="282" rx="4.3" ry="4.1"/><ellipse cx="1240.7" cy="270.6" rx="5.7" ry="6.5"/><ellipse cx="1215.1" cy="424.4" rx="5.6" ry="4.4"/><ellipse cx="895.8" cy="304.8" rx="5.4" ry="3.1"/><ellipse cx="1044.7" cy="372.4" rx="6.5" ry="5.9"/><ellipse cx="889.5" cy="279" rx="3.5" ry="6.1"/><ellipse cx="896.7" cy="327.6" rx="5.8" ry="4.1"/><ellipse cx="1299.6" cy="240" rx="3.4" ry="4.5"/><ellipse cx="1276" cy="281.6" rx="4.3" ry="5.6"/><ellipse cx="1221.7" cy="275.3" rx="4.4" ry="4.5"/><ellipse cx="1127.3" cy="413.8" rx="5.5" ry="4.2"/><ellipse cx="1135.1" cy="329.5" rx="5.3" ry="5.8"/><ellipse cx="1256.9" cy="278.6" rx="3.2" ry="6.5"/><ellipse cx="1069.9" cy="382.5" rx="5.4" ry="4.4"/><ellipse cx="879.6" cy="312.4" rx="6.1" ry="5.3"/><ellipse cx="1015.3" cy="396.2" rx="5.5" ry="3.8"/><ellipse cx="999.1" cy="390.9" rx="4.7" ry="4.8"/><ellipse cx="1262.1" cy="296.5" rx="6.5" ry="3.6"/><ellipse cx="1251.9" cy="309.5" rx="3.3" ry="6"/><ellipse cx="901.5" cy="343.4" rx="3.1" ry="5.8"/><ellipse cx="978.4" cy="387.2" rx="4.9" ry="5.6"/><ellipse cx="1209.3" cy="300.4" rx="6.1" ry="5.7"/><ellipse cx="1240.3" cy="293.8" rx="4.1" ry="3.2"/><ellipse cx="1304.2" cy="274.4" rx="3.4" ry="3.2"/><ellipse cx="961.2" cy="398.7" rx="5" ry="5.3"/><ellipse cx="920.4" cy="353.1" rx="5.4" ry="5.6"/><ellipse cx="1209.4" cy="326.8" rx="4.6" ry="3.2"/><ellipse cx="1286" cy="309.5" rx="3.6" ry="6.2"/><ellipse cx="1167.6" cy="415.6" rx="6.2" ry="6.3"/><ellipse cx="1223.5" cy="293" rx="6.4" ry="5.9"/><ellipse cx="1241.7" cy="244.2" rx="3.5" ry="5.1"/><ellipse cx="1049.1" cy="392.8" rx="3.4" ry="3.6"/><ellipse cx="952" cy="385.2" rx="3.1" ry="3.6"/><ellipse cx="1166.5" cy="437.9" rx="4" ry="4.4"/><ellipse cx="1264.7" cy="324.3" rx="5.1" ry="4.4"/><ellipse cx="1236.2" cy="315.6" rx="6.4" ry="4.8"/><ellipse cx="1249.3" cy="340.1" rx="6.4" ry="5.6"/><ellipse cx="981.7" cy="410.5" rx="3.6" ry="3.9"/><ellipse cx="1227.2" cy="335.3" rx="4.5" ry="6.2"/><ellipse cx="1321.5" cy="255.1" rx="6.2" ry="3.3"/><ellipse cx="1367.6" cy="248" rx="5.3" ry="4.7"/><ellipse cx="1282" cy="326" rx="3.6" ry="5.5"/><ellipse cx="1151.6" cy="410.4" rx="4.3" ry="6.2"/><ellipse cx="1194.5" cy="425" rx="6.1" ry="3.8"/><ellipse cx="1146.5" cy="445.8" rx="4.7" ry="3.7"/><ellipse cx="1029" cy="413.9" rx="4.6" ry="3.4"/><ellipse cx="1062.1" cy="430.3" rx="6.1" ry="5.6"/><ellipse cx="1020.9" cy="427.9" rx="5.3" ry="5.7"/><ellipse cx="1150.8" cy="427.8" rx="4.9" ry="4.9"/><ellipse cx="1019.6" cy="374.2" rx="3.2" ry="4.6"/><ellipse cx="1181.8" cy="464.4" rx="6" ry="3"/><ellipse cx="1219.3" cy="406.4" rx="3.2" ry="5.1"/><ellipse cx="1269.9" cy="350.4" rx="6.1" ry="4.7"/><ellipse cx="1345.3" cy="244.2" rx="5.3" ry="3.6"/><ellipse cx="1127.6" cy="461.4" rx="5" ry="3.3"/><ellipse cx="1223.8" cy="353.6" rx="3.2" ry="6.2"/><ellipse cx="1181.3" cy="389.7" rx="3.1" ry="4.8"/><ellipse cx="1002.9" cy="418.7" rx="3.9" ry="5.3"/><ellipse cx="1335.2" cy="273.5" rx="3.4" ry="6"/><ellipse cx="1057.2" cy="410.3" rx="3" ry="3.3"/><ellipse cx="1230.7" cy="420.4" rx="4.3" ry="3.5"/><ellipse cx="1204" cy="371.2" rx="3.9" ry="5.2"/><ellipse cx="1248.1" cy="366" rx="4" ry="5.9"/><ellipse cx="1029.7" cy="389.1" rx="3" ry="3.2"/><ellipse cx="1227.6" cy="372" rx="4.8" ry="5"/><ellipse cx="1241.8" cy="395.4" rx="5.5" ry="3.7"/><ellipse cx="1290.1" cy="348.4" rx="5.6" ry="5.4"/><ellipse cx="1124.7" cy="430.1" rx="5" ry="6.2"/><ellipse cx="1103" cy="458.1" rx="5.3" ry="3.5"/><ellipse cx="1366.6" cy="274.8" rx="5" ry="5.2"/><ellipse cx="1211.1" cy="388.1" rx="3.8" ry="5"/><ellipse cx="1198" cy="456.7" rx="4.4" ry="3.7"/><ellipse cx="1226.5" cy="436.8" rx="6" ry="4.2"/><ellipse cx="1207.6" cy="354.8" rx="3.8" ry="4.6"/><ellipse cx="1351" cy="264.9" rx="3.2" ry="3.9"/><ellipse cx="1084.9" cy="454.4" rx="4.4" ry="3.1"/><ellipse cx="1068.9" cy="459.6" rx="5.8" ry="4.5"/><ellipse cx="979" cy="430.4" rx="6" ry="3.2"/><ellipse cx="1267.3" cy="380.8" rx="5.7" ry="5.5"/><ellipse cx="1161.7" cy="454" rx="5.6" ry="5"/><ellipse cx="1148.1" cy="464.4" rx="4.9" ry="3.8"/><ellipse cx="1047.1" cy="424.5" rx="5" ry="5.4"/><ellipse cx="1369.3" cy="308.1" rx="6.1" ry="3.1"/><ellipse cx="1016.6" cy="446.7" rx="4.8" ry="6.5"/><ellipse cx="1000" cy="436.2" rx="6.4" ry="4.6"/><ellipse cx="1368.4" cy="332.8" rx="6.4" ry="4.2"/><ellipse cx="1012.2" cy="463.7" rx="3.2" ry="4"/><ellipse cx="1350.7" cy="352.9" rx="5.4" ry="5.3"/><ellipse cx="1261.7" cy="399.7" rx="5" ry="4.9"/><ellipse cx="1340.6" cy="370.5" rx="5.3" ry="4"/><ellipse cx="983.7" cy="456.8" rx="5.3" ry="4.4"/><ellipse cx="1250.9" cy="422.7" rx="3.5" ry="4.8"/><ellipse cx="1294.8" cy="417.7" rx="5.3" ry="6.3"/><ellipse cx="1361.5" cy="367.7" rx="3.1" ry="5.2"/><ellipse cx="1316.4" cy="422.6" rx="6.1" ry="3.2"/><ellipse cx="1039.4" cy="440.1" rx="3.6" ry="5.6"/><ellipse cx="1282.7" cy="429" rx="4" ry="3.1"/><ellipse cx="1248.5" cy="451" rx="5.4" ry="5.8"/><ellipse cx="1301.3" cy="443.2" rx="4" ry="5.9"/><ellipse cx="1182.7" cy="439.1" rx="4.9" ry="3.6"/><ellipse cx="1215.1" cy="450.1" rx="6.5" ry="4.5"/><ellipse cx="1368.9" cy="396.9" rx="3.5" ry="4.4"/><ellipse cx="1333.7" cy="416.6" rx="4.9" ry="6.4"/><ellipse cx="1346.2" cy="398.9" rx="3.3" ry="3.8"/><ellipse cx="1260.1" cy="439.6" rx="3.2" ry="4.8"/><ellipse cx="1031.4" cy="457.3" rx="5.8" ry="5.8"/><ellipse cx="1276.9" cy="453.8" rx="6.3" ry="6.3"/><ellipse cx="1273.9" cy="413.9" rx="3.7" ry="5.5"/><ellipse cx="1363.3" cy="427.5" rx="4.3" ry="5"/><ellipse cx="1330.1" cy="448.6" rx="6" ry="3.2"/><ellipse cx="1293.7" cy="463.1" rx="6.1" ry="5.3"/><ellipse cx="1233.5" cy="461.3" rx="6.4" ry="3.8"/><ellipse cx="1357.9" cy="449.1" rx="5.9" ry="3.3"/><ellipse cx="1314.3" cy="461.2" rx="3.1" ry="3.5"/><ellipse cx="1369.7" cy="291.7" rx="3.8" ry="5.5"/><ellipse cx="1343.9" cy="459.4" rx="4.1" ry="3.7"/><ellipse cx="1344.9" cy="430.2" rx="6" ry="5.2"/><ellipse cx="1372.3" cy="413.8" rx="4.3" ry="3.8"/></g><ellipse cx="985" cy="341" rx="41.5" ry="58.5" transform="rotate(-15 985 341)" fill="#e9b8d8" opacity="0.9" filter="url(#bl1)"/><ellipse cx="985" cy="341" rx="39" ry="56" transform="rotate(-15 985 341)" fill="#b4eaf0"/><ellipse cx="979.15" cy="346.6" rx="23.4" ry="33.6" transform="rotate(-15 985 341)" fill="#8fd8e8" opacity="0.45" filter="url(#bl4)"/><g clip-path="url(#lc985341)"><rect x="941" y="280" width="88" height="122" filter="url(#mott1)" opacity="0.35"/><rect x="941" y="280" width="88" height="122" filter="url(#mott2)" opacity="0.35"/></g><ellipse cx="1096" cy="416" rx="27.5" ry="42.5" transform="rotate(8 1096 416)" fill="#e9b8d8" opacity="0.9" filter="url(#bl1)"/><ellipse cx="1096" cy="416" rx="25" ry="40" transform="rotate(8 1096 416)" fill="#b0e8ee"/><ellipse cx="1092.25" cy="420.0" rx="15.0" ry="24.0" transform="rotate(8 1096 416)" fill="#8fd8e8" opacity="0.45" filter="url(#bl4)"/><g clip-path="url(#lc1096416)"><rect x="1066" y="371" width="60" height="90" filter="url(#mott1)" opacity="0.35"/><rect x="1066" y="371" width="60" height="90" filter="url(#mott2)" opacity="0.35"/></g><ellipse cx="1170" cy="341.5" rx="44.5" ry="52.5" transform="rotate(-18 1170 341.5)" fill="#e9b8d8" opacity="0.9" filter="url(#bl1)"/><ellipse cx="1170" cy="341.5" rx="42" ry="50" transform="rotate(-18 1170 341.5)" fill="#b6ecf0"/><ellipse cx="1163.7" cy="346.5" rx="25.2" ry="30.0" transform="rotate(-18 1170 341.5)" fill="#8fd8e8" opacity="0.45" filter="url(#bl4)"/><g clip-path="url(#lc1170341)"><rect x="1123" y="286.5" width="94" height="110" filter="url(#mott1)" opacity="0.35"/><rect x="1123" y="286.5" width="94" height="110" filter="url(#mott2)" opacity="0.35"/></g><ellipse cx="1134.5" cy="383" rx="19.5" ry="32.5" transform="rotate(-35 1134.5 383)" fill="#e9b8d8" opacity="0.9" filter="url(#bl1)"/><ellipse cx="1134.5" cy="383" rx="17" ry="30" transform="rotate(-35 1134.5 383)" fill="#e6f6e8"/><ellipse cx="1326" cy="313.5" rx="45.5" ry="49.5" transform="rotate(0 1326 313.5)" fill="#e9b8d8" opacity="0.9" filter="url(#bl1)"/><ellipse cx="1326" cy="313.5" rx="43" ry="47" transform="rotate(0 1326 313.5)" fill="#c2ebe4"/><ellipse cx="1319.55" cy="318.2" rx="25.8" ry="28.2" transform="rotate(0 1326 313.5)" fill="#8fd8e8" opacity="0.45" filter="url(#bl4)"/><g clip-path="url(#lc1326313)"><rect x="1278" y="261.5" width="96" height="104" filter="url(#mott1)" opacity="0.35"/><rect x="1278" y="261.5" width="96" height="104" filter="url(#mott2)" opacity="0.35"/></g><ellipse cx="1300.4" cy="387" rx="32.5" ry="37.5" transform="rotate(-10 1300.4 387)" fill="#e9b8d8" opacity="0.9" filter="url(#bl1)"/><ellipse cx="1300.4" cy="387" rx="30" ry="35" transform="rotate(-10 1300.4 387)" fill="#e0f3e2"/><ellipse cx="1295.9" cy="390.5" rx="18.0" ry="21.0" transform="rotate(-10 1300.4 387)" fill="#8fd8e8" opacity="0.45" filter="url(#bl4)"/><g clip-path="url(#lc1300387)"><rect x="1265.4" y="347" width="70" height="80" filter="url(#mott1)" opacity="0.35"/><rect x="1265.4" y="347" width="70" height="80" filter="url(#mott2)" opacity="0.35"/></g><ellipse cx="1135.3" cy="424" rx="10.5" ry="16.5" transform="rotate(0 1135.3 424)" fill="#e9b8d8" opacity="0.9" filter="url(#bl1)"/><ellipse cx="1135.3" cy="424" rx="8" ry="14" transform="rotate(0 1135.3 424)" fill="#eef8ee"/><ellipse cx="1053" cy="443" rx="12.5" ry="15.5" transform="rotate(0 1053 443)" fill="#e9b8d8" opacity="0.9" filter="url(#bl1)"/><ellipse cx="1053" cy="443" rx="10" ry="13" transform="rotate(0 1053 443)" fill="#f2f8f2"/><ellipse cx="985" cy="92" rx="42.5" ry="30.5" transform="rotate(0 985 92)" fill="#e9b8d8" opacity="0.9" filter="url(#bl1)"/><ellipse cx="985" cy="92" rx="40" ry="28" transform="rotate(0 985 92)" fill="#bfeaf2"/><ellipse cx="979.0" cy="94.8" rx="24.0" ry="16.8" transform="rotate(0 985 92)" fill="#8fd8e8" opacity="0.45" filter="url(#bl4)"/><g clip-path="url(#lc98592)"><rect x="940" y="59" width="90" height="66" filter="url(#mott1)" opacity="0.35"/><rect x="940" y="59" width="90" height="66" filter="url(#mott2)" opacity="0.35"/></g><ellipse cx="1038" cy="430" rx="9.5" ry="11.5" transform="rotate(0 1038 430)" fill="#e9b8d8" opacity="0.9" filter="url(#bl1)"/><ellipse cx="1038" cy="430" rx="7" ry="9" transform="rotate(0 1038 430)" fill="#f4f6fa"/><ellipse cx="1112" cy="118" rx="12.5" ry="11.5" transform="rotate(0 1112 118)" fill="#e9b8d8" opacity="0.9" filter="url(#bl1)"/><ellipse cx="1112" cy="118" rx="10" ry="9" transform="rotate(0 1112 118)" fill="#e4f2f8"/><g fill="#f27aba" opacity="0.62" filter="url(#bl2)"><ellipse cx="1204.8" cy="280.2" rx="6.6" ry="5.4" transform="rotate(141 1204.8 280.2)"/><ellipse cx="1205.7" cy="299.6" rx="5.8" ry="5.4" transform="rotate(176 1205.7 299.6)"/><ellipse cx="1222.6" cy="292.3" rx="5.5" ry="4.2" transform="rotate(137 1222.6 292.3)"/><ellipse cx="1207.5" cy="318.2" rx="7.1" ry="5.9" transform="rotate(97 1207.5 318.2)"/><ellipse cx="1234.2" cy="275.6" rx="6.5" ry="4.8" transform="rotate(127 1234.2 275.6)"/><ellipse cx="1244.9" cy="247.4" rx="5.8" ry="5.3" transform="rotate(98 1244.9 247.4)"/><ellipse cx="1253" cy="291.6" rx="5.6" ry="4.9" transform="rotate(81 1253 291.6)"/><ellipse cx="1182.3" cy="290.3" rx="6.2" ry="5.1" transform="rotate(147 1182.3 290.3)"/><ellipse cx="1225.2" cy="256.7" rx="5.5" ry="4.7" transform="rotate(135 1225.2 256.7)"/><ellipse cx="1225.4" cy="309.8" rx="6.3" ry="4.9" transform="rotate(58 1225.4 309.8)"/><ellipse cx="1190.1" cy="253.3" rx="5.2" ry="4.6" transform="rotate(116 1190.1 253.3)"/><ellipse cx="1244.2" cy="333.7" rx="6" ry="5" transform="rotate(134 1244.2 333.7)"/><ellipse cx="1221.3" cy="342" rx="7" ry="4.9" transform="rotate(28 1221.3 342)"/><ellipse cx="1188.9" cy="274.1" rx="7" ry="6.2" transform="rotate(153 1188.9 274.1)"/><ellipse cx="1206.7" cy="248.2" rx="5.8" ry="4.7" transform="rotate(172 1206.7 248.2)"/><ellipse cx="1157.2" cy="291" rx="7.8" ry="6" transform="rotate(129 1157.2 291)"/><ellipse cx="1136" cy="278.5" rx="5.5" ry="5.1" transform="rotate(99 1136 278.5)"/><ellipse cx="1172.5" cy="253.2" rx="6.1" ry="5.3" transform="rotate(116 1172.5 253.2)"/><ellipse cx="1161.9" cy="271.6" rx="7.6" ry="5.8" transform="rotate(8 1161.9 271.6)"/><ellipse cx="1221.7" cy="371" rx="7" ry="5.5" transform="rotate(53 1221.7 371)"/><ellipse cx="1254.3" cy="319.9" rx="5.1" ry="4.1" transform="rotate(27 1254.3 319.9)"/><ellipse cx="1159.1" cy="230.7" rx="6.4" ry="5.1" transform="rotate(48 1159.1 230.7)"/><ellipse cx="1203.7" cy="368.1" rx="5.5" ry="4.6" transform="rotate(17 1203.7 368.1)"/><ellipse cx="1126.1" cy="247.6" rx="5.5" ry="4.9" transform="rotate(164 1126.1 247.6)"/><ellipse cx="1273" cy="321.2" rx="7.4" ry="5.7" transform="rotate(102 1273 321.2)"/><ellipse cx="1247.6" cy="362.8" rx="6.5" ry="5.6" transform="rotate(21 1247.6 362.8)"/><ellipse cx="1262.4" cy="248.5" rx="7.8" ry="6" transform="rotate(104 1262.4 248.5)"/><ellipse cx="1280.5" cy="299.6" rx="4.8" ry="4.3" transform="rotate(109 1280.5 299.6)"/><ellipse cx="1241.9" cy="306.5" rx="6.9" ry="6" transform="rotate(112 1241.9 306.5)"/><ellipse cx="1237.5" cy="391.5" rx="5.2" ry="4.9" transform="rotate(30 1237.5 391.5)"/><ellipse cx="1142.9" cy="250.7" rx="5.5" ry="4.7" transform="rotate(74 1142.9 250.7)"/><ellipse cx="1124.6" cy="316.5" rx="5.9" ry="4.6" transform="rotate(148 1124.6 316.5)"/><ellipse cx="1104.4" cy="222.8" rx="7.7" ry="6" transform="rotate(63 1104.4 222.8)"/><ellipse cx="1276.1" cy="268.5" rx="5.7" ry="4.8" transform="rotate(147 1276.1 268.5)"/><ellipse cx="1276.9" cy="341.4" rx="7.3" ry="6.3" transform="rotate(151 1276.9 341.4)"/><ellipse cx="1183.6" cy="386.3" rx="6.8" ry="4.7" transform="rotate(124 1183.6 386.3)"/><ellipse cx="1270.2" cy="284.8" rx="5.8" ry="4.7" transform="rotate(111 1270.2 284.8)"/><ellipse cx="1210.1" cy="385.5" rx="5.8" ry="4.7" transform="rotate(21 1210.1 385.5)"/><ellipse cx="1133.5" cy="231.2" rx="7" ry="5.2" transform="rotate(84 1133.5 231.2)"/><ellipse cx="1130.2" cy="300" rx="6.6" ry="4.6" transform="rotate(83 1130.2 300)"/><ellipse cx="1268.7" cy="367.4" rx="5.4" ry="4.1" transform="rotate(73 1268.7 367.4)"/><ellipse cx="1103" cy="301.7" rx="7.2" ry="5.6" transform="rotate(27 1103 301.7)"/><ellipse cx="1224.2" cy="405" rx="6.4" ry="4.9" transform="rotate(89 1224.2 405)"/><ellipse cx="1260.3" cy="347.3" rx="6.6" ry="5.6" transform="rotate(98 1260.3 347.3)"/><ellipse cx="1281.9" cy="417.9" rx="5.2" ry="3.9" transform="rotate(104 1281.9 417.9)"/><ellipse cx="1232.8" cy="423.4" rx="6" ry="5.5" transform="rotate(63 1232.8 423.4)"/><ellipse cx="1247.4" cy="411.7" rx="5.3" ry="4.3" transform="rotate(72 1247.4 411.7)"/><ellipse cx="1250.7" cy="264.2" rx="7.3" ry="6" transform="rotate(38 1250.7 264.2)"/><ellipse cx="1096.8" cy="284.1" rx="7.1" ry="6" transform="rotate(59 1096.8 284.1)"/><ellipse cx="1255.8" cy="389.3" rx="5.2" ry="4.2" transform="rotate(108 1255.8 389.3)"/><ellipse cx="1117.1" cy="267.7" rx="6.8" ry="5.9" transform="rotate(11 1117.1 267.7)"/><ellipse cx="1149.1" cy="209.5" rx="8.1" ry="6.1" transform="rotate(101 1149.1 209.5)"/><ellipse cx="1111" cy="341" rx="7.3" ry="5.3" transform="rotate(131 1111 341)"/><ellipse cx="1211" cy="436" rx="7.4" ry="6.1" transform="rotate(17 1211 436)"/><ellipse cx="1165" cy="168.5" rx="5.9" ry="4.8" transform="rotate(110 1165 168.5)"/><ellipse cx="1167.1" cy="387.9" rx="8" ry="6" transform="rotate(162 1167.1 387.9)"/><ellipse cx="1141.1" cy="193.7" rx="6.2" ry="4.2" transform="rotate(68 1141.1 193.7)"/><ellipse cx="1223" cy="449.9" rx="6.1" ry="5.1" transform="rotate(121 1223 449.9)"/><ellipse cx="1292.8" cy="275.9" rx="6.7" ry="5.8" transform="rotate(168 1292.8 275.9)"/><ellipse cx="1289.6" cy="321.3" rx="6.2" ry="5.5" transform="rotate(51 1289.6 321.3)"/><ellipse cx="1118.8" cy="285" rx="7.1" ry="5.7" transform="rotate(117 1118.8 285)"/><ellipse cx="1148.4" cy="175.9" rx="6.4" ry="5.6" transform="rotate(82 1148.4 175.9)"/><ellipse cx="1122.5" cy="200.7" rx="6.2" ry="5.5" transform="rotate(171 1122.5 200.7)"/><ellipse cx="1290.3" cy="351.4" rx="7.1" ry="4.9" transform="rotate(128 1290.3 351.4)"/><ellipse cx="1167.3" cy="407.4" rx="5.5" ry="4.5" transform="rotate(52 1167.3 407.4)"/><ellipse cx="1185" cy="403.9" rx="6" ry="4.6" transform="rotate(16 1185 403.9)"/><ellipse cx="1076.5" cy="304.1" rx="6.1" ry="5.8" transform="rotate(92 1076.5 304.1)"/><ellipse cx="1102.4" cy="204.2" rx="6.5" ry="4.7" transform="rotate(87 1102.4 204.2)"/><ellipse cx="1072.8" cy="195.3" rx="5" ry="4.1" transform="rotate(166 1072.8 195.3)"/><ellipse cx="1327.3" cy="389.9" rx="7.7" ry="5.8" transform="rotate(150 1327.3 389.9)"/><ellipse cx="1099.3" cy="324.9" rx="7.1" ry="6.3" transform="rotate(153 1099.3 324.9)"/><ellipse cx="1304.9" cy="440.6" rx="6.1" ry="4.2" transform="rotate(130 1304.9 440.6)"/><ellipse cx="1113.7" cy="186.7" rx="7.2" ry="6.3" transform="rotate(92 1113.7 186.7)"/><ellipse cx="1120" cy="169.4" rx="6.4" ry="6" transform="rotate(40 1120 169.4)"/><ellipse cx="1335.7" cy="362.9" rx="6.2" ry="5.6" transform="rotate(34 1335.7 362.9)"/><ellipse cx="1349.5" cy="390.9" rx="5.5" ry="4.3" transform="rotate(102 1349.5 390.9)"/><ellipse cx="1287.5" cy="256.5" rx="6.1" ry="4.8" transform="rotate(77 1287.5 256.5)"/><ellipse cx="1287.5" cy="444.4" rx="5.8" ry="4.2" transform="rotate(110 1287.5 444.4)"/><ellipse cx="1202.7" cy="411.9" rx="7.5" ry="5.8" transform="rotate(20 1202.7 411.9)"/><ellipse cx="1264.5" cy="432.8" rx="6.4" ry="4.6" transform="rotate(92 1264.5 432.8)"/><ellipse cx="1332.9" cy="413.9" rx="7.3" ry="5.6" transform="rotate(29 1332.9 413.9)"/><ellipse cx="1365.7" cy="360.4" rx="5.9" ry="5.5" transform="rotate(148 1365.7 360.4)"/><ellipse cx="1080.3" cy="226.1" rx="6" ry="5.8" transform="rotate(138 1080.3 226.1)"/><ellipse cx="1185.7" cy="425.6" rx="6.3" ry="5" transform="rotate(43 1185.7 425.6)"/><ellipse cx="1094.3" cy="160.3" rx="6.4" ry="4.7" transform="rotate(132 1094.3 160.3)"/><ellipse cx="1244.2" cy="436.6" rx="6.2" ry="4.4" transform="rotate(84 1244.2 436.6)"/><ellipse cx="1308.7" cy="251.2" rx="7.3" ry="5.4" transform="rotate(175 1308.7 251.2)"/><ellipse cx="1063.7" cy="173.8" rx="7.6" ry="6.1" transform="rotate(179 1063.7 173.8)"/><ellipse cx="1088.1" cy="251.5" rx="5.7" ry="4.9" transform="rotate(140 1088.1 251.5)"/><ellipse cx="1057.9" cy="226.5" rx="5.5" ry="4" transform="rotate(21 1057.9 226.5)"/><ellipse cx="1070" cy="339.2" rx="6" ry="5.3" transform="rotate(72 1070 339.2)"/><ellipse cx="1369.3" cy="325.4" rx="7.1" ry="5" transform="rotate(27 1369.3 325.4)"/><ellipse cx="1085.4" cy="184.4" rx="7.6" ry="5.6" transform="rotate(23 1085.4 184.4)"/><ellipse cx="1055.7" cy="193.8" rx="7.3" ry="5.9" transform="rotate(55 1055.7 193.8)"/><ellipse cx="1258.7" cy="448.9" rx="6.2" ry="5.8" transform="rotate(103 1258.7 448.9)"/><ellipse cx="1263.9" cy="414" rx="5.8" ry="5.1" transform="rotate(178 1263.9 414)"/><ellipse cx="1105.5" cy="242.1" rx="6.8" ry="5.7" transform="rotate(46 1105.5 242.1)"/><ellipse cx="1053.1" cy="311.6" rx="6.2" ry="5.1" transform="rotate(113 1053.1 311.6)"/><ellipse cx="1133.8" cy="153.1" rx="6.9" ry="5.7" transform="rotate(49 1133.8 153.1)"/><ellipse cx="1315.1" cy="267.5" rx="7.6" ry="5.5" transform="rotate(109 1315.1 267.5)"/><ellipse cx="1076.3" cy="363.3" rx="6.6" ry="4.9" transform="rotate(128 1076.3 363.3)"/><ellipse cx="1371.4" cy="343" rx="6.2" ry="5.3" transform="rotate(115 1371.4 343)"/><ellipse cx="1150.8" cy="402.4" rx="5.9" ry="5.1" transform="rotate(7 1150.8 402.4)"/><ellipse cx="1069.9" cy="242" rx="5" ry="4.5" transform="rotate(159 1069.9 242)"/><ellipse cx="1307.2" cy="357.7" rx="8" ry="6.5" transform="rotate(174 1307.2 357.7)"/><ellipse cx="1238.2" cy="456.9" rx="5.8" ry="3.8" transform="rotate(20 1238.2 456.9)"/><ellipse cx="1082.9" cy="274.4" rx="6.6" ry="4.9" transform="rotate(14 1082.9 274.4)"/><ellipse cx="1150.1" cy="88.5" rx="5.4" ry="4.1" transform="rotate(80 1150.1 88.5)"/><ellipse cx="1169.4" cy="438" rx="6.9" ry="5.4" transform="rotate(145 1169.4 438)"/><ellipse cx="1119.3" cy="143.2" rx="6.3" ry="4.7" transform="rotate(57 1119.3 143.2)"/><ellipse cx="1293.5" cy="461.8" rx="5.8" ry="4.6" transform="rotate(14 1293.5 461.8)"/><ellipse cx="1272.6" cy="461" rx="8.1" ry="6" transform="rotate(176 1272.6 461)"/><ellipse cx="1369.9" cy="388.4" rx="6.8" ry="5.3" transform="rotate(6 1369.9 388.4)"/><ellipse cx="1065.7" cy="282.3" rx="5.7" ry="5.4" transform="rotate(156 1065.7 282.3)"/><ellipse cx="1071.5" cy="259.4" rx="7.9" ry="6.1" transform="rotate(175 1071.5 259.4)"/><ellipse cx="1120.8" cy="217.7" rx="6.6" ry="4.4" transform="rotate(161 1120.8 217.7)"/><ellipse cx="1173.7" cy="455.6" rx="4.9" ry="4.1" transform="rotate(92 1173.7 455.6)"/><ellipse cx="1042.8" cy="255.4" rx="6.7" ry="5.2" transform="rotate(132 1042.8 255.4)"/><ellipse cx="1328.2" cy="254.5" rx="6.7" ry="6" transform="rotate(29 1328.2 254.5)"/><ellipse cx="1034.7" cy="226.6" rx="7.2" ry="5.3" transform="rotate(65 1034.7 226.6)"/><ellipse cx="1145.9" cy="456.1" rx="6.8" ry="5.4" transform="rotate(69 1145.9 456.1)"/><ellipse cx="1046.8" cy="293.8" rx="6.4" ry="5.6" transform="rotate(88 1046.8 293.8)"/><ellipse cx="1332.5" cy="272.6" rx="6.8" ry="5.2" transform="rotate(108 1332.5 272.6)"/><ellipse cx="1117.5" cy="388.6" rx="6.3" ry="5.7" transform="rotate(53 1117.5 388.6)"/><ellipse cx="1352" cy="270.9" rx="7.4" ry="5.9" transform="rotate(144 1352 270.9)"/><ellipse cx="1193.5" cy="444.3" rx="7" ry="5.1" transform="rotate(107 1193.5 444.3)"/><ellipse cx="1131.3" cy="89.2" rx="6.7" ry="5.8" transform="rotate(95 1131.3 89.2)"/><ellipse cx="1112.1" cy="127.6" rx="5.8" ry="5.5" transform="rotate(76 1112.1 127.6)"/><ellipse cx="1019.7" cy="248.6" rx="6.3" ry="4.6" transform="rotate(106 1019.7 248.6)"/><ellipse cx="1199.6" cy="462" rx="7.7" ry="5.6" transform="rotate(172 1199.6 462)"/><ellipse cx="1069.6" cy="157.1" rx="5.1" ry="4.4" transform="rotate(86 1069.6 157.1)"/><ellipse cx="1105.7" cy="359.8" rx="5.6" ry="5" transform="rotate(32 1105.7 359.8)"/><ellipse cx="1133" cy="409" rx="7.1" ry="6" transform="rotate(175 1133 409)"/><ellipse cx="1161.7" cy="113.9" rx="7" ry="4.8" transform="rotate(135 1161.7 113.9)"/><ellipse cx="1348.6" cy="374.1" rx="5.6" ry="4.6" transform="rotate(17 1348.6 374.1)"/><ellipse cx="1099.2" cy="383.4" rx="6" ry="4" transform="rotate(70 1099.2 383.4)"/><ellipse cx="1139.5" cy="109.3" rx="5.5" ry="5" transform="rotate(97 1139.5 109.3)"/><ellipse cx="1314.3" cy="457" rx="5.5" ry="4.4" transform="rotate(37 1314.3 457)"/><ellipse cx="1345.7" cy="456.6" rx="7.6" ry="6.1" transform="rotate(167 1345.7 456.6)"/><ellipse cx="1101" cy="263.8" rx="6.8" ry="5.9" transform="rotate(27 1101 263.8)"/><ellipse cx="1041.5" cy="184.3" rx="6.4" ry="5.9" transform="rotate(73 1041.5 184.3)"/><ellipse cx="1153.3" cy="432.7" rx="5.6" ry="4.8" transform="rotate(167 1153.3 432.7)"/><ellipse cx="1154.6" cy="136.7" rx="5.9" ry="4.9" transform="rotate(12 1154.6 136.7)"/><ellipse cx="1365.6" cy="412.4" rx="6.9" ry="5.2" transform="rotate(15 1365.6 412.4)"/><ellipse cx="1009.4" cy="228.6" rx="7.2" ry="4.9" transform="rotate(115 1009.4 228.6)"/><ellipse cx="1059.6" cy="369" rx="6.6" ry="5.2" transform="rotate(111 1059.6 369)"/><ellipse cx="1111.5" cy="92.8" rx="6.6" ry="5.1" transform="rotate(111 1111.5 92.8)"/><ellipse cx="1080.8" cy="121.9" rx="7.7" ry="5.4" transform="rotate(163 1080.8 121.9)"/><ellipse cx="1056" cy="267.3" rx="7.3" ry="4.9" transform="rotate(38 1056 267.3)"/><ellipse cx="1039.5" cy="272" rx="7.5" ry="5.4" transform="rotate(152 1039.5 272)"/><ellipse cx="1333.5" cy="443.3" rx="6.9" ry="5.1" transform="rotate(21 1333.5 443.3)"/><ellipse cx="1013.8" cy="180.3" rx="7.5" ry="5.6" transform="rotate(104 1013.8 180.3)"/><ellipse cx="1133" cy="132.3" rx="6.7" ry="5" transform="rotate(147 1133 132.3)"/><ellipse cx="1351.1" cy="437.2" rx="7.4" ry="6.1" transform="rotate(154 1351.1 437.2)"/><ellipse cx="1015.2" cy="152.9" rx="7" ry="5.1" transform="rotate(15 1015.2 152.9)"/><ellipse cx="1343" cy="241.3" rx="6" ry="4.8" transform="rotate(176 1343 241.3)"/><ellipse cx="1070.2" cy="382.4" rx="5.2" ry="4.8" transform="rotate(126 1070.2 382.4)"/><ellipse cx="1366.9" cy="280" rx="7.2" ry="5.6" transform="rotate(26 1366.9 280)"/><ellipse cx="1051.4" cy="159.6" rx="7" ry="6" transform="rotate(106 1051.4 159.6)"/><ellipse cx="1027.3" cy="319.6" rx="7.2" ry="5.5" transform="rotate(98 1027.3 319.6)"/><ellipse cx="1044.9" cy="348.9" rx="5.2" ry="4.5" transform="rotate(154 1044.9 348.9)"/><ellipse cx="1082.6" cy="103.1" rx="6.9" ry="6.2" transform="rotate(158 1082.6 103.1)"/><ellipse cx="1367.4" cy="254.4" rx="6" ry="4.2" transform="rotate(5 1367.4 254.4)"/><ellipse cx="1365.1" cy="450.8" rx="5.7" ry="4.8" transform="rotate(149 1365.1 450.8)"/><ellipse cx="996.7" cy="239.5" rx="7.3" ry="5.7" transform="rotate(33 996.7 239.5)"/><ellipse cx="1010.7" cy="278.2" rx="6" ry="5" transform="rotate(22 1010.7 278.2)"/><ellipse cx="1036.7" cy="142.3" rx="6.2" ry="4.9" transform="rotate(7 1036.7 142.3)"/><ellipse cx="1119.1" cy="455.4" rx="5.5" ry="4.5" transform="rotate(8 1119.1 455.4)"/><ellipse cx="1074.1" cy="320.8" rx="5.4" ry="5" transform="rotate(137 1074.1 320.8)"/><ellipse cx="1091.5" cy="83.4" rx="7.6" ry="6.1" transform="rotate(114 1091.5 83.4)"/><ellipse cx="1026.2" cy="166.5" rx="7.5" ry="5.7" transform="rotate(87 1026.2 166.5)"/><ellipse cx="1316.3" cy="427.5" rx="6" ry="4.6" transform="rotate(159 1316.3 427.5)"/><ellipse cx="1060.8" cy="140.3" rx="5.5" ry="5.2" transform="rotate(145 1060.8 140.3)"/><ellipse cx="1069" cy="213.7" rx="6.3" ry="5.7" transform="rotate(84 1069 213.7)"/><ellipse cx="1025.9" cy="290.1" rx="7.5" ry="6.2" transform="rotate(90 1025.9 290.1)"/><ellipse cx="974.3" cy="233.2" rx="7.3" ry="5.5" transform="rotate(60 974.3 233.2)"/><ellipse cx="1085.8" cy="346.5" rx="7.8" ry="6" transform="rotate(74 1085.8 346.5)"/><ellipse cx="1045.5" cy="331.9" rx="8.2" ry="6.3" transform="rotate(150 1045.5 331.9)"/><ellipse cx="1063.7" cy="97.4" rx="6.1" ry="4.6" transform="rotate(102 1063.7 97.4)"/><ellipse cx="1074.7" cy="426.5" rx="7.4" ry="6.1" transform="rotate(9 1074.7 426.5)"/><ellipse cx="1084.7" cy="146.5" rx="5.7" ry="4.6" transform="rotate(8 1084.7 146.5)"/><ellipse cx="1059.3" cy="408.4" rx="6.1" ry="4.3" transform="rotate(95 1059.3 408.4)"/><ellipse cx="1039" cy="116.2" rx="7.8" ry="6.3" transform="rotate(13 1039 116.2)"/><ellipse cx="1001.6" cy="213.2" rx="8" ry="6.1" transform="rotate(28 1001.6 213.2)"/><ellipse cx="988.6" cy="171.6" rx="5.9" ry="4.7" transform="rotate(127 988.6 171.6)"/><ellipse cx="1099.2" cy="105.4" rx="5.6" ry="4.7" transform="rotate(6 1099.2 105.4)"/><ellipse cx="1000.4" cy="141.8" rx="6.2" ry="4.9" transform="rotate(93 1000.4 141.8)"/><ellipse cx="1162.5" cy="151.5" rx="6.4" ry="4.6" transform="rotate(119 1162.5 151.5)"/><ellipse cx="1029.3" cy="200.8" rx="6.7" ry="5.8" transform="rotate(23 1029.3 200.8)"/><ellipse cx="979.2" cy="126.6" rx="7.7" ry="5.5" transform="rotate(52 979.2 126.6)"/><ellipse cx="970" cy="204.4" rx="6.8" ry="4.9" transform="rotate(2 970 204.4)"/><ellipse cx="1047.2" cy="85" rx="6.9" ry="5.8" transform="rotate(162 1047.2 85)"/><ellipse cx="975.8" cy="250.5" rx="6.9" ry="6.3" transform="rotate(13 975.8 250.5)"/><ellipse cx="1026.6" cy="94.5" rx="7.3" ry="5.8" transform="rotate(124 1026.6 94.5)"/><ellipse cx="1045" cy="386.2" rx="7.2" ry="6" transform="rotate(12 1045 386.2)"/><ellipse cx="1056" cy="430.3" rx="6.5" ry="4.7" transform="rotate(105 1056 430.3)"/><ellipse cx="1023.7" cy="132.1" rx="6.4" ry="5.9" transform="rotate(154 1023.7 132.1)"/><ellipse cx="1016.6" cy="344.8" rx="5" ry="4.4" transform="rotate(166 1016.6 344.8)"/><ellipse cx="965.4" cy="181.3" rx="6.1" ry="4" transform="rotate(178 965.4 181.3)"/><ellipse cx="1065" cy="116.2" rx="5.4" ry="4.4" transform="rotate(72 1065 116.2)"/><ellipse cx="993.5" cy="190.8" rx="6.3" ry="5.5" transform="rotate(19 993.5 190.8)"/><ellipse cx="1026.4" cy="425.9" rx="5.2" ry="4.5" transform="rotate(177 1026.4 425.9)"/><ellipse cx="982.8" cy="289.8" rx="6.2" ry="5.2" transform="rotate(147 982.8 289.8)"/><ellipse cx="1017.4" cy="371.6" rx="5.8" ry="4.8" transform="rotate(135 1017.4 371.6)"/><ellipse cx="1044.4" cy="210.9" rx="6.6" ry="6.1" transform="rotate(133 1044.4 210.9)"/><ellipse cx="949.7" cy="156.9" rx="7.7" ry="6.3" transform="rotate(34 949.7 156.9)"/><ellipse cx="981" cy="268.8" rx="7.1" ry="4.8" transform="rotate(79 981 268.8)"/><ellipse cx="959.7" cy="288.5" rx="7.3" ry="5.9" transform="rotate(65 959.7 288.5)"/><ellipse cx="1087.8" cy="449.9" rx="6.9" ry="6" transform="rotate(151 1087.8 449.9)"/><ellipse cx="1041.8" cy="366.9" rx="6.2" ry="5.1" transform="rotate(92 1041.8 366.9)"/><ellipse cx="944.9" cy="212.4" rx="7.2" ry="6.3" transform="rotate(142 944.9 212.4)"/><ellipse cx="958.7" cy="269.3" rx="5.7" ry="4.2" transform="rotate(167 958.7 269.3)"/><ellipse cx="1372.2" cy="430.7" rx="7.4" ry="5.9" transform="rotate(81 1372.2 430.7)"/><ellipse cx="1031.5" cy="403.8" rx="6.4" ry="5" transform="rotate(15 1031.5 403.8)"/><ellipse cx="1002.9" cy="259.5" rx="6.7" ry="5.4" transform="rotate(3 1002.9 259.5)"/><ellipse cx="1016.4" cy="390.4" rx="7.3" ry="5.6" transform="rotate(56 1016.4 390.4)"/><ellipse cx="943" cy="183.4" rx="5.8" ry="4" transform="rotate(147 943 183.4)"/><ellipse cx="1012.3" cy="198.8" rx="6.1" ry="5" transform="rotate(40 1012.3 198.8)"/><ellipse cx="949" cy="254.7" rx="7.8" ry="6.1" transform="rotate(139 949 254.7)"/><ellipse cx="984.6" cy="153" rx="5.7" ry="4.8" transform="rotate(43 984.6 153)"/><ellipse cx="929.9" cy="272.4" rx="5.8" ry="4.3" transform="rotate(37 929.9 272.4)"/><ellipse cx="1007.5" cy="424.5" rx="7.2" ry="6.2" transform="rotate(4 1007.5 424.5)"/><ellipse cx="941.9" cy="287.3" rx="6.8" ry="5.4" transform="rotate(100 941.9 287.3)"/><ellipse cx="1002.8" cy="403" rx="7.1" ry="5.1" transform="rotate(86 1002.8 403)"/><ellipse cx="990.1" cy="416.5" rx="6.2" ry="4.6" transform="rotate(77 990.1 416.5)"/><ellipse cx="928.9" cy="201.6" rx="5.7" ry="4.6" transform="rotate(96 928.9 201.6)"/><ellipse cx="1076.7" cy="462.3" rx="7.7" ry="5.9" transform="rotate(3 1076.7 462.3)"/><ellipse cx="945.5" cy="311.5" rx="6.6" ry="4.5" transform="rotate(70 945.5 311.5)"/><ellipse cx="1038.6" cy="443.1" rx="6.8" ry="5.7" transform="rotate(24 1038.6 443.1)"/><ellipse cx="973" cy="165.3" rx="5.3" ry="4.5" transform="rotate(95 973 165.3)"/><ellipse cx="908.7" cy="271.3" rx="5.6" ry="4.7" transform="rotate(130 908.7 271.3)"/><ellipse cx="993.5" cy="117.2" rx="7.8" ry="6" transform="rotate(165 993.5 117.2)"/><ellipse cx="961.3" cy="135" rx="5.8" ry="4.2" transform="rotate(22 961.3 135)"/><ellipse cx="983.4" cy="217" rx="7.5" ry="6" transform="rotate(67 983.4 217)"/><ellipse cx="956.1" cy="230.6" rx="5.4" ry="4.3" transform="rotate(168 956.1 230.6)"/><ellipse cx="914.1" cy="289.1" rx="6.9" ry="4.8" transform="rotate(143 914.1 289.1)"/><ellipse cx="1012" cy="450" rx="6.3" ry="4.5" transform="rotate(106 1012 450)"/><ellipse cx="1044.1" cy="416.4" rx="6.2" ry="4.9" transform="rotate(124 1044.1 416.4)"/><ellipse cx="982.4" cy="448.7" rx="6.9" ry="6.1" transform="rotate(91 982.4 448.7)"/><ellipse cx="1101.9" cy="458.7" rx="6.2" ry="5" transform="rotate(92 1101.9 458.7)"/><ellipse cx="946.3" cy="87.2" rx="6.2" ry="5.1" transform="rotate(113 946.3 87.2)"/><ellipse cx="935.5" cy="104.8" rx="6.2" ry="4.5" transform="rotate(96 935.5 104.8)"/><ellipse cx="993.7" cy="388.8" rx="6.7" ry="5.7" transform="rotate(32 993.7 388.8)"/><ellipse cx="918.2" cy="89.1" rx="6.6" ry="5.1" transform="rotate(4 918.2 89.1)"/><ellipse cx="943.8" cy="331.9" rx="6.3" ry="4.9" transform="rotate(104 943.8 331.9)"/><ellipse cx="933.2" cy="236.3" rx="7.7" ry="6.2" transform="rotate(52 933.2 236.3)"/><ellipse cx="931.9" cy="252.9" rx="7.2" ry="5.5" transform="rotate(56 931.9 252.9)"/><ellipse cx="924.7" cy="221.1" rx="5.6" ry="4.4" transform="rotate(18 924.7 221.1)"/><ellipse cx="910.9" cy="248.5" rx="5.2" ry="4.5" transform="rotate(25 910.9 248.5)"/><ellipse cx="941.4" cy="131.7" rx="5.9" ry="4.1" transform="rotate(144 941.4 131.7)"/><ellipse cx="929.2" cy="163" rx="6.7" ry="5.2" transform="rotate(18 929.2 163)"/><ellipse cx="925.7" cy="316.3" rx="4.9" ry="4.4" transform="rotate(110 925.7 316.3)"/><ellipse cx="906.8" cy="198.6" rx="7.3" ry="5.6" transform="rotate(17 906.8 198.6)"/><ellipse cx="904.2" cy="304.3" rx="6.4" ry="4.6" transform="rotate(165 904.2 304.3)"/><ellipse cx="912.7" cy="167.6" rx="5.2" ry="4" transform="rotate(29 912.7 167.6)"/><ellipse cx="890.6" cy="263.1" rx="6.4" ry="4.4" transform="rotate(68 890.6 263.1)"/><ellipse cx="926.7" cy="142.6" rx="5.8" ry="4.8" transform="rotate(11 926.7 142.6)"/><ellipse cx="1002.5" cy="464.9" rx="6.6" ry="5.2" transform="rotate(61 1002.5 464.9)"/><ellipse cx="919.1" cy="187.1" rx="6" ry="5.2" transform="rotate(162 919.1 187.1)"/><ellipse cx="907.8" cy="226.4" rx="6.4" ry="4.4" transform="rotate(177 907.8 226.4)"/><ellipse cx="1041.4" cy="463.1" rx="7.3" ry="5.5" transform="rotate(166 1041.4 463.1)"/><ellipse cx="963.8" cy="395.4" rx="6.5" ry="5.3" transform="rotate(147 963.8 395.4)"/><ellipse cx="925.1" cy="342.6" rx="6.3" ry="5.7" transform="rotate(136 925.1 342.6)"/><ellipse cx="904" cy="149.7" rx="7.2" ry="5.5" transform="rotate(45 904 149.7)"/><ellipse cx="920.8" cy="113.1" rx="7.7" ry="5.2" transform="rotate(20 920.8 113.1)"/><ellipse cx="928.7" cy="298.5" rx="7.5" ry="6" transform="rotate(72 928.7 298.5)"/><ellipse cx="954.9" cy="195" rx="8.1" ry="5.8" transform="rotate(170 954.9 195)"/><ellipse cx="950.4" cy="112.6" rx="7" ry="5.5" transform="rotate(53 950.4 112.6)"/><ellipse cx="893" cy="212.1" rx="6.9" ry="5.8" transform="rotate(144 893 212.1)"/><ellipse cx="950.9" cy="380.1" rx="6.8" ry="5.5" transform="rotate(126 950.9 380.1)"/><ellipse cx="889.5" cy="169.7" rx="6.3" ry="4.4" transform="rotate(149 889.5 169.7)"/><ellipse cx="881.1" cy="226.9" rx="5.7" ry="4.6" transform="rotate(118 881.1 226.9)"/><ellipse cx="931.7" cy="359.6" rx="5.7" ry="5.2" transform="rotate(130 931.7 359.6)"/><ellipse cx="887.4" cy="243.2" rx="6.2" ry="4.2" transform="rotate(28 887.4 243.2)"/><ellipse cx="902.7" cy="331.9" rx="5.7" ry="4.9" transform="rotate(13 902.7 331.9)"/><ellipse cx="897" cy="98.2" rx="7.9" ry="6.1" transform="rotate(105 897 98.2)"/><ellipse cx="891.1" cy="81.6" rx="6.4" ry="5.4" transform="rotate(120 891.1 81.6)"/><ellipse cx="879.3" cy="200.2" rx="7.4" ry="6.1" transform="rotate(50 879.3 200.2)"/><ellipse cx="863.2" cy="211" rx="6" ry="5.3" transform="rotate(101 863.2 211)"/><ellipse cx="898.2" cy="184.3" rx="8" ry="5.8" transform="rotate(117 898.2 184.3)"/><ellipse cx="1247.4" cy="323.4" rx="6.4" ry="4.7" transform="rotate(93 1247.4 323.4)"/><ellipse cx="1276.8" cy="326.8" rx="5.5" ry="5.1" transform="rotate(130 1276.8 326.8)"/><ellipse cx="1130" cy="321.8" rx="7.1" ry="5.6" transform="rotate(28 1130 321.8)"/><ellipse cx="1269.7" cy="266.7" rx="4.8" ry="4.4" transform="rotate(73 1269.7 266.7)"/><ellipse cx="1180.4" cy="393.8" rx="6.7" ry="6" transform="rotate(32 1180.4 393.8)"/><ellipse cx="1229.5" cy="410.7" rx="5.6" ry="4.2" transform="rotate(107 1229.5 410.7)"/><ellipse cx="1252.8" cy="415.7" rx="7.2" ry="5.8" transform="rotate(71 1252.8 415.7)"/><ellipse cx="1286.8" cy="345.9" rx="6.6" ry="6" transform="rotate(71 1286.8 345.9)"/><ellipse cx="1080.8" cy="298.4" rx="6" ry="4.5" transform="rotate(111 1080.8 298.4)"/><ellipse cx="1330.3" cy="357.2" rx="6.8" ry="5.8" transform="rotate(92 1330.3 357.2)"/><ellipse cx="1085" cy="230.9" rx="6.4" ry="5.4" transform="rotate(39 1085 230.9)"/><ellipse cx="1095.8" cy="151.8" rx="6.5" ry="4.8" transform="rotate(32 1095.8 151.8)"/><ellipse cx="1366.7" cy="347.9" rx="7.5" ry="5.6" transform="rotate(117 1366.7 347.9)"/><ellipse cx="1301.5" cy="352.7" rx="6.5" ry="6" transform="rotate(47 1301.5 352.7)"/><ellipse cx="1147.2" cy="82.3" rx="5.1" ry="4.6" transform="rotate(139 1147.2 82.3)"/><ellipse cx="1276.9" cy="454.9" rx="5.1" ry="4.4" transform="rotate(167 1276.9 454.9)"/><ellipse cx="1068.7" cy="276.7" rx="6.5" ry="4.8" transform="rotate(155 1068.7 276.7)"/><ellipse cx="1053.2" cy="294" rx="6.4" ry="5.4" transform="rotate(100 1053.2 294)"/><ellipse cx="1200.4" cy="441.8" rx="7.8" ry="5.9" transform="rotate(163 1200.4 441.8)"/><ellipse cx="1064.7" cy="151.7" rx="7.6" ry="5.7" transform="rotate(28 1064.7 151.7)"/><ellipse cx="1064.5" cy="363" rx="5.3" ry="4.8" transform="rotate(40 1064.5 363)"/><ellipse cx="1075.7" cy="377.9" rx="6" ry="4.2" transform="rotate(46 1075.7 377.9)"/><ellipse cx="1371.4" cy="273.9" rx="7.1" ry="5.4" transform="rotate(28 1371.4 273.9)"/><ellipse cx="1058" cy="162.1" rx="6.6" ry="5.5" transform="rotate(130 1058 162.1)"/><ellipse cx="1369.5" cy="458.6" rx="7.1" ry="5.3" transform="rotate(75 1369.5 458.6)"/><ellipse cx="1070" cy="313" rx="6.6" ry="4.7" transform="rotate(139 1070 313)"/><ellipse cx="1061.3" cy="134.1" rx="7.2" ry="5.5" transform="rotate(117 1061.3 134.1)"/><ellipse cx="1007.6" cy="138.8" rx="6" ry="4.3" transform="rotate(54 1007.6 138.8)"/><ellipse cx="990.3" cy="198.5" rx="7.1" ry="5.3" transform="rotate(101 990.3 198.5)"/><ellipse cx="1024.5" cy="419.1" rx="6.7" ry="6" transform="rotate(24 1024.5 419.1)"/><ellipse cx="951.1" cy="164" rx="6.8" ry="5.3" transform="rotate(96 951.1 164)"/><ellipse cx="1015.5" cy="428.5" rx="6.4" ry="4.5" transform="rotate(93 1015.5 428.5)"/><ellipse cx="938.9" cy="282.1" rx="6.7" ry="5.6" transform="rotate(159 938.9 282.1)"/><ellipse cx="1045.5" cy="410.2" rx="7" ry="5.3" transform="rotate(11 1045.5 410.2)"/><ellipse cx="938.7" cy="111.4" rx="5.8" ry="4.6" transform="rotate(49 938.7 111.4)"/><ellipse cx="913" cy="254.3" rx="5.3" ry="4.4" transform="rotate(67 913 254.3)"/><ellipse cx="931.3" cy="155.4" rx="7.7" ry="5.7" transform="rotate(155 931.3 155.4)"/><ellipse cx="895.1" cy="259.1" rx="6.2" ry="5" transform="rotate(127 895.1 259.1)"/><ellipse cx="920.1" cy="137.1" rx="6.6" ry="6" transform="rotate(54 920.1 137.1)"/><ellipse cx="901.5" cy="222" rx="5.7" ry="5" transform="rotate(121 901.5 222)"/><ellipse cx="954.8" cy="186.1" rx="8.1" ry="5.9" transform="rotate(99 954.8 186.1)"/><ellipse cx="927.2" cy="353.7" rx="7.2" ry="4.8" transform="rotate(46 927.2 353.7)"/><ellipse cx="894.9" cy="244.4" rx="7.1" ry="5.6" transform="rotate(179 894.9 244.4)"/><ellipse cx="894.3" cy="329.1" rx="5.2" ry="4.5" transform="rotate(90 894.3 329.1)"/></g><g opacity="0.88" filter="url(#bl1)"><ellipse cx="1204.8" cy="280.2" rx="3.2" ry="2" transform="rotate(141 1204.8 280.2)" fill="#9c2c6c"/><ellipse cx="1205.7" cy="299.6" rx="2.3" ry="1.8" transform="rotate(176 1205.7 299.6)" fill="#b8306e"/><ellipse cx="1222.6" cy="292.3" rx="2.7" ry="1.4" transform="rotate(137 1222.6 292.3)" fill="#c02c74"/><ellipse cx="1207.5" cy="318.2" rx="2.9" ry="1.6" transform="rotate(97 1207.5 318.2)" fill="#b0286c"/><ellipse cx="1234.2" cy="275.6" rx="3.2" ry="1.5" transform="rotate(127 1234.2 275.6)" fill="#b8306e"/><ellipse cx="1244.9" cy="247.4" rx="2.5" ry="1.9" transform="rotate(98 1244.9 247.4)" fill="#b0286c"/><ellipse cx="1253" cy="291.6" rx="2.7" ry="2" transform="rotate(81 1253 291.6)" fill="#d03c84"/><ellipse cx="1182.3" cy="290.3" rx="2.5" ry="1.4" transform="rotate(147 1182.3 290.3)" fill="#b8306e"/><ellipse cx="1225.2" cy="256.7" rx="2.2" ry="1.5" transform="rotate(135 1225.2 256.7)" fill="#9c2c6c"/><ellipse cx="1225.4" cy="309.8" rx="2.8" ry="1.4" transform="rotate(58 1225.4 309.8)" fill="#d03c84"/><ellipse cx="1190.1" cy="253.3" rx="2.4" ry="1.8" transform="rotate(116 1190.1 253.3)" fill="#c02c74"/><ellipse cx="1244.2" cy="333.7" rx="3.1" ry="2.1" transform="rotate(134 1244.2 333.7)" fill="#a42a6c"/><ellipse cx="1221.3" cy="342" rx="3.7" ry="1.6" transform="rotate(28 1221.3 342)" fill="#c8347c"/><ellipse cx="1188.9" cy="274.1" rx="2.8" ry="2" transform="rotate(153 1188.9 274.1)" fill="#c02c74"/><ellipse cx="1206.7" cy="248.2" rx="2.9" ry="1.8" transform="rotate(172 1206.7 248.2)" fill="#b0286c"/><ellipse cx="1157.2" cy="291" rx="3.5" ry="1.7" transform="rotate(129 1157.2 291)" fill="#b8306e"/><ellipse cx="1136" cy="278.5" rx="2.3" ry="1.9" transform="rotate(99 1136 278.5)" fill="#c8347c"/><ellipse cx="1172.5" cy="253.2" rx="2.4" ry="1.6" transform="rotate(116 1172.5 253.2)" fill="#9c2c6c"/><ellipse cx="1161.9" cy="271.6" rx="3.7" ry="1.9" transform="rotate(8 1161.9 271.6)" fill="#d03c84"/><ellipse cx="1221.7" cy="371" rx="2.8" ry="1.3" transform="rotate(53 1221.7 371)" fill="#d03c84"/><ellipse cx="1254.3" cy="319.9" rx="2.4" ry="1.4" transform="rotate(27 1254.3 319.9)" fill="#a42a6c"/><ellipse cx="1159.1" cy="230.7" rx="3.1" ry="1.9" transform="rotate(48 1159.1 230.7)" fill="#d03c84"/><ellipse cx="1203.7" cy="368.1" rx="2.8" ry="1.8" transform="rotate(17 1203.7 368.1)" fill="#d03c84"/><ellipse cx="1126.1" cy="247.6" rx="2.2" ry="1.6" transform="rotate(164 1126.1 247.6)" fill="#c8347c"/><ellipse cx="1273" cy="321.2" rx="3.4" ry="1.7" transform="rotate(102 1273 321.2)" fill="#d03c84"/><ellipse cx="1247.6" cy="362.8" rx="2.5" ry="1.6" transform="rotate(21 1247.6 362.8)" fill="#b8306e"/><ellipse cx="1262.4" cy="248.5" rx="3.4" ry="1.7" transform="rotate(104 1262.4 248.5)" fill="#c02c74"/><ellipse cx="1280.5" cy="299.6" rx="2.2" ry="1.7" transform="rotate(109 1280.5 299.6)" fill="#c02c74"/><ellipse cx="1241.9" cy="306.5" rx="2.7" ry="1.8" transform="rotate(112 1241.9 306.5)" fill="#b8306e"/><ellipse cx="1237.5" cy="391.5" rx="2.2" ry="2" transform="rotate(30 1237.5 391.5)" fill="#b0286c"/><ellipse cx="1142.9" cy="250.7" rx="2.7" ry="1.9" transform="rotate(74 1142.9 250.7)" fill="#b0286c"/><ellipse cx="1124.6" cy="316.5" rx="3.4" ry="2" transform="rotate(148 1124.6 316.5)" fill="#d03c84"/><ellipse cx="1104.4" cy="222.8" rx="3.4" ry="1.7" transform="rotate(63 1104.4 222.8)" fill="#b0286c"/><ellipse cx="1276.1" cy="268.5" rx="2.4" ry="1.5" transform="rotate(147 1276.1 268.5)" fill="#9c2c6c"/><ellipse cx="1276.9" cy="341.4" rx="3" ry="2.1" transform="rotate(151 1276.9 341.4)" fill="#9c2c6c"/><ellipse cx="1183.6" cy="386.3" rx="3.7" ry="1.5" transform="rotate(124 1183.6 386.3)" fill="#9c2c6c"/><ellipse cx="1270.2" cy="284.8" rx="2.8" ry="1.6" transform="rotate(111 1270.2 284.8)" fill="#c02c74"/><ellipse cx="1210.1" cy="385.5" rx="2.7" ry="1.6" transform="rotate(21 1210.1 385.5)" fill="#c8347c"/><ellipse cx="1133.5" cy="231.2" rx="3.3" ry="1.5" transform="rotate(84 1133.5 231.2)" fill="#b8306e"/><ellipse cx="1130.2" cy="300" rx="3.5" ry="1.5" transform="rotate(83 1130.2 300)" fill="#b8306e"/><ellipse cx="1268.7" cy="367.4" rx="2.8" ry="1.4" transform="rotate(73 1268.7 367.4)" fill="#c02c74"/><ellipse cx="1103" cy="301.7" rx="3.6" ry="2" transform="rotate(27 1103 301.7)" fill="#d03c84"/><ellipse cx="1224.2" cy="405" rx="2.9" ry="1.4" transform="rotate(89 1224.2 405)" fill="#a42a6c"/><ellipse cx="1260.3" cy="347.3" rx="2.5" ry="1.5" transform="rotate(98 1260.3 347.3)" fill="#9c2c6c"/><ellipse cx="1281.9" cy="417.9" rx="2.7" ry="1.4" transform="rotate(104 1281.9 417.9)" fill="#a42a6c"/><ellipse cx="1232.8" cy="423.4" rx="2.6" ry="2.1" transform="rotate(63 1232.8 423.4)" fill="#b8306e"/><ellipse cx="1247.4" cy="411.7" rx="2.4" ry="1.4" transform="rotate(72 1247.4 411.7)" fill="#d03c84"/><ellipse cx="1250.7" cy="264.2" rx="3.3" ry="2" transform="rotate(38 1250.7 264.2)" fill="#c02c74"/><ellipse cx="1096.8" cy="284.1" rx="2.9" ry="1.8" transform="rotate(59 1096.8 284.1)" fill="#c02c74"/><ellipse cx="1255.8" cy="389.3" rx="2.7" ry="1.6" transform="rotate(108 1255.8 389.3)" fill="#c02c74"/><ellipse cx="1117.1" cy="267.7" rx="2.6" ry="1.7" transform="rotate(11 1117.1 267.7)" fill="#a42a6c"/><ellipse cx="1149.1" cy="209.5" rx="3.7" ry="1.7" transform="rotate(101 1149.1 209.5)" fill="#9c2c6c"/><ellipse cx="1111" cy="341" rx="3.4" ry="1.3" transform="rotate(131 1111 341)" fill="#b0286c"/><ellipse cx="1211" cy="436" rx="3.1" ry="1.8" transform="rotate(17 1211 436)" fill="#9c2c6c"/><ellipse cx="1165" cy="168.5" rx="3" ry="2" transform="rotate(110 1165 168.5)" fill="#b0286c"/><ellipse cx="1167.1" cy="387.9" rx="3.7" ry="1.7" transform="rotate(162 1167.1 387.9)" fill="#9c2c6c"/><ellipse cx="1141.1" cy="193.7" rx="3.3" ry="1.3" transform="rotate(68 1141.1 193.7)" fill="#b0286c"/><ellipse cx="1223" cy="449.9" rx="2.4" ry="1.4" transform="rotate(121 1223 449.9)" fill="#9c2c6c"/><ellipse cx="1292.8" cy="275.9" rx="2.8" ry="1.9" transform="rotate(168 1292.8 275.9)" fill="#b8306e"/><ellipse cx="1289.6" cy="321.3" rx="2.4" ry="1.7" transform="rotate(51 1289.6 321.3)" fill="#a42a6c"/><ellipse cx="1118.8" cy="285" rx="3.2" ry="1.8" transform="rotate(117 1118.8 285)" fill="#9c2c6c"/><ellipse cx="1148.4" cy="175.9" rx="2.9" ry="2.1" transform="rotate(82 1148.4 175.9)" fill="#9c2c6c"/><ellipse cx="1122.5" cy="200.7" rx="2.4" ry="1.7" transform="rotate(171 1122.5 200.7)" fill="#c02c74"/><ellipse cx="1290.3" cy="351.4" rx="3.8" ry="1.6" transform="rotate(128 1290.3 351.4)" fill="#d03c84"/><ellipse cx="1167.3" cy="407.4" rx="2.5" ry="1.5" transform="rotate(52 1167.3 407.4)" fill="#9c2c6c"/><ellipse cx="1185" cy="403.9" rx="3.1" ry="1.7" transform="rotate(16 1185 403.9)" fill="#c8347c"/><ellipse cx="1076.5" cy="304.1" rx="2.4" ry="2" transform="rotate(92 1076.5 304.1)" fill="#a42a6c"/><ellipse cx="1102.4" cy="204.2" rx="3.7" ry="1.8" transform="rotate(87 1102.4 204.2)" fill="#b8306e"/><ellipse cx="1072.8" cy="195.3" rx="2.4" ry="1.6" transform="rotate(166 1072.8 195.3)" fill="#9c2c6c"/><ellipse cx="1327.3" cy="389.9" rx="3.5" ry="1.6" transform="rotate(150 1327.3 389.9)" fill="#b8306e"/><ellipse cx="1099.3" cy="324.9" rx="2.6" ry="1.8" transform="rotate(153 1099.3 324.9)" fill="#a42a6c"/><ellipse cx="1304.9" cy="440.6" rx="3.5" ry="1.6" transform="rotate(130 1304.9 440.6)" fill="#d03c84"/><ellipse cx="1113.7" cy="186.7" rx="2.8" ry="1.9" transform="rotate(92 1113.7 186.7)" fill="#a42a6c"/><ellipse cx="1120" cy="169.4" rx="2.3" ry="1.8" transform="rotate(40 1120 169.4)" fill="#a42a6c"/><ellipse cx="1335.7" cy="362.9" rx="2.3" ry="1.7" transform="rotate(34 1335.7 362.9)" fill="#b0286c"/><ellipse cx="1349.5" cy="390.9" rx="2.6" ry="1.5" transform="rotate(102 1349.5 390.9)" fill="#c02c74"/><ellipse cx="1287.5" cy="256.5" rx="3.4" ry="2" transform="rotate(77 1287.5 256.5)" fill="#b0286c"/><ellipse cx="1287.5" cy="444.4" rx="3.2" ry="1.6" transform="rotate(110 1287.5 444.4)" fill="#b0286c"/><ellipse cx="1202.7" cy="411.9" rx="3.3" ry="1.6" transform="rotate(20 1202.7 411.9)" fill="#c8347c"/><ellipse cx="1264.5" cy="432.8" rx="3.4" ry="1.6" transform="rotate(92 1264.5 432.8)" fill="#d03c84"/><ellipse cx="1332.9" cy="413.9" rx="3.1" ry="1.4" transform="rotate(29 1332.9 413.9)" fill="#9c2c6c"/><ellipse cx="1365.7" cy="360.4" rx="2.3" ry="1.9" transform="rotate(148 1365.7 360.4)" fill="#c02c74"/><ellipse cx="1080.3" cy="226.1" rx="2.3" ry="2.1" transform="rotate(138 1080.3 226.1)" fill="#c02c74"/><ellipse cx="1185.7" cy="425.6" rx="2.9" ry="1.5" transform="rotate(43 1185.7 425.6)" fill="#b0286c"/><ellipse cx="1094.3" cy="160.3" rx="3.2" ry="1.5" transform="rotate(132 1094.3 160.3)" fill="#b8306e"/><ellipse cx="1244.2" cy="436.6" rx="3.6" ry="1.8" transform="rotate(84 1244.2 436.6)" fill="#9c2c6c"/><ellipse cx="1308.7" cy="251.2" rx="3.6" ry="1.7" transform="rotate(175 1308.7 251.2)" fill="#b0286c"/><ellipse cx="1063.7" cy="173.8" rx="3.1" ry="1.6" transform="rotate(179 1063.7 173.8)" fill="#d03c84"/><ellipse cx="1088.1" cy="251.5" rx="2.4" ry="1.7" transform="rotate(140 1088.1 251.5)" fill="#c02c74"/><ellipse cx="1057.9" cy="226.5" rx="2.9" ry="1.5" transform="rotate(21 1057.9 226.5)" fill="#c8347c"/><ellipse cx="1070" cy="339.2" rx="2.3" ry="1.6" transform="rotate(72 1070 339.2)" fill="#b8306e"/><ellipse cx="1369.3" cy="325.4" rx="3.8" ry="1.7" transform="rotate(27 1369.3 325.4)" fill="#9c2c6c"/><ellipse cx="1085.4" cy="184.4" rx="3.4" ry="1.5" transform="rotate(23 1085.4 184.4)" fill="#d03c84"/><ellipse cx="1055.7" cy="193.8" rx="3.2" ry="1.8" transform="rotate(55 1055.7 193.8)" fill="#c02c74"/><ellipse cx="1258.7" cy="448.9" rx="2.4" ry="2" transform="rotate(103 1258.7 448.9)" fill="#b0286c"/><ellipse cx="1263.9" cy="414" rx="2.4" ry="1.6" transform="rotate(178 1263.9 414)" fill="#b8306e"/><ellipse cx="1105.5" cy="242.1" rx="3" ry="1.9" transform="rotate(46 1105.5 242.1)" fill="#b8306e"/><ellipse cx="1053.1" cy="311.6" rx="2.7" ry="1.6" transform="rotate(113 1053.1 311.6)" fill="#b8306e"/><ellipse cx="1133.8" cy="153.1" rx="2.6" ry="1.4" transform="rotate(49 1133.8 153.1)" fill="#d03c84"/><ellipse cx="1315.1" cy="267.5" rx="3.7" ry="1.7" transform="rotate(109 1315.1 267.5)" fill="#9c2c6c"/><ellipse cx="1076.3" cy="363.3" rx="3.7" ry="2.1" transform="rotate(128 1076.3 363.3)" fill="#c8347c"/><ellipse cx="1371.4" cy="343" rx="2.4" ry="1.5" transform="rotate(115 1371.4 343)" fill="#c8347c"/><ellipse cx="1150.8" cy="402.4" rx="2.7" ry="1.8" transform="rotate(7 1150.8 402.4)" fill="#c02c74"/><ellipse cx="1069.9" cy="242" rx="2.4" ry="2" transform="rotate(159 1069.9 242)" fill="#9c2c6c"/><ellipse cx="1307.2" cy="357.7" rx="3.6" ry="2.1" transform="rotate(174 1307.2 357.7)" fill="#a42a6c"/><ellipse cx="1238.2" cy="456.9" rx="3.3" ry="1.3" transform="rotate(20 1238.2 456.9)" fill="#9c2c6c"/><ellipse cx="1082.9" cy="274.4" rx="3.1" ry="1.5" transform="rotate(14 1082.9 274.4)" fill="#c02c74"/><ellipse cx="1150.1" cy="88.5" rx="2.9" ry="1.6" transform="rotate(80 1150.1 88.5)" fill="#c02c74"/><ellipse cx="1169.4" cy="438" rx="2.8" ry="1.3" transform="rotate(145 1169.4 438)" fill="#b0286c"/><ellipse cx="1119.3" cy="143.2" rx="3" ry="1.4" transform="rotate(57 1119.3 143.2)" fill="#c02c74"/><ellipse cx="1293.5" cy="461.8" rx="2.7" ry="1.5" transform="rotate(14 1293.5 461.8)" fill="#b0286c"/><ellipse cx="1272.6" cy="461" rx="3.7" ry="1.6" transform="rotate(176 1272.6 461)" fill="#c02c74"/><ellipse cx="1369.9" cy="388.4" rx="3.6" ry="2.1" transform="rotate(6 1369.9 388.4)" fill="#b0286c"/><ellipse cx="1065.7" cy="282.3" rx="2.4" ry="2.1" transform="rotate(156 1065.7 282.3)" fill="#b8306e"/><ellipse cx="1071.5" cy="259.4" rx="3.6" ry="1.8" transform="rotate(175 1071.5 259.4)" fill="#a42a6c"/><ellipse cx="1120.8" cy="217.7" rx="3.7" ry="1.6" transform="rotate(161 1120.8 217.7)" fill="#a42a6c"/><ellipse cx="1173.7" cy="455.6" rx="2.4" ry="1.6" transform="rotate(92 1173.7 455.6)" fill="#c8347c"/><ellipse cx="1042.8" cy="255.4" rx="3.2" ry="1.7" transform="rotate(132 1042.8 255.4)" fill="#a42a6c"/><ellipse cx="1328.2" cy="254.5" rx="2.4" ry="1.8" transform="rotate(29 1328.2 254.5)" fill="#c02c74"/><ellipse cx="1034.7" cy="226.6" rx="3.5" ry="1.6" transform="rotate(65 1034.7 226.6)" fill="#c02c74"/><ellipse cx="1145.9" cy="456.1" rx="3.4" ry="2.1" transform="rotate(69 1145.9 456.1)" fill="#c02c74"/><ellipse cx="1046.8" cy="293.8" rx="2.7" ry="1.9" transform="rotate(88 1046.8 293.8)" fill="#b0286c"/><ellipse cx="1332.5" cy="272.6" rx="3.4" ry="1.8" transform="rotate(108 1332.5 272.6)" fill="#c02c74"/><ellipse cx="1117.5" cy="388.6" rx="2.4" ry="1.8" transform="rotate(53 1117.5 388.6)" fill="#9c2c6c"/><ellipse cx="1352" cy="270.9" rx="2.9" ry="1.5" transform="rotate(144 1352 270.9)" fill="#c8347c"/><ellipse cx="1193.5" cy="444.3" rx="3.3" ry="1.5" transform="rotate(107 1193.5 444.3)" fill="#c02c74"/><ellipse cx="1131.3" cy="89.2" rx="3" ry="2" transform="rotate(95 1131.3 89.2)" fill="#c8347c"/><ellipse cx="1112.1" cy="127.6" rx="2.4" ry="2.1" transform="rotate(76 1112.1 127.6)" fill="#a42a6c"/><ellipse cx="1019.7" cy="248.6" rx="3.1" ry="1.4" transform="rotate(106 1019.7 248.6)" fill="#c8347c"/><ellipse cx="1199.6" cy="462" rx="3.7" ry="1.6" transform="rotate(172 1199.6 462)" fill="#d03c84"/><ellipse cx="1069.6" cy="157.1" rx="2.2" ry="1.5" transform="rotate(86 1069.6 157.1)" fill="#c8347c"/><ellipse cx="1105.7" cy="359.8" rx="2.6" ry="2" transform="rotate(32 1105.7 359.8)" fill="#b8306e"/><ellipse cx="1133" cy="409" rx="2.9" ry="1.8" transform="rotate(175 1133 409)" fill="#d03c84"/><ellipse cx="1161.7" cy="113.9" rx="3.7" ry="1.5" transform="rotate(135 1161.7 113.9)" fill="#c8347c"/><ellipse cx="1348.6" cy="374.1" rx="2.7" ry="1.7" transform="rotate(17 1348.6 374.1)" fill="#b0286c"/><ellipse cx="1099.2" cy="383.4" rx="3.4" ry="1.4" transform="rotate(70 1099.2 383.4)" fill="#b0286c"/><ellipse cx="1139.5" cy="109.3" rx="2.2" ry="1.7" transform="rotate(97 1139.5 109.3)" fill="#b0286c"/><ellipse cx="1314.3" cy="457" rx="2.8" ry="1.7" transform="rotate(37 1314.3 457)" fill="#a42a6c"/><ellipse cx="1345.7" cy="456.6" rx="3.4" ry="1.9" transform="rotate(167 1345.7 456.6)" fill="#c02c74"/><ellipse cx="1101" cy="263.8" rx="2.8" ry="1.9" transform="rotate(27 1101 263.8)" fill="#d03c84"/><ellipse cx="1041.5" cy="184.3" rx="2.5" ry="1.9" transform="rotate(73 1041.5 184.3)" fill="#b0286c"/><ellipse cx="1153.3" cy="432.7" rx="2.4" ry="1.6" transform="rotate(167 1153.3 432.7)" fill="#a42a6c"/><ellipse cx="1154.6" cy="136.7" rx="3" ry="2" transform="rotate(12 1154.6 136.7)" fill="#9c2c6c"/><ellipse cx="1365.6" cy="412.4" rx="3.6" ry="1.9" transform="rotate(15 1365.6 412.4)" fill="#b8306e"/><ellipse cx="1009.4" cy="228.6" rx="3.6" ry="1.3" transform="rotate(115 1009.4 228.6)" fill="#9c2c6c"/><ellipse cx="1059.6" cy="369" rx="3" ry="1.7" transform="rotate(111 1059.6 369)" fill="#c8347c"/><ellipse cx="1111.5" cy="92.8" rx="2.9" ry="1.4" transform="rotate(111 1111.5 92.8)" fill="#d03c84"/><ellipse cx="1080.8" cy="121.9" rx="3.7" ry="1.4" transform="rotate(163 1080.8 121.9)" fill="#c8347c"/><ellipse cx="1056" cy="267.3" rx="3.7" ry="1.3" transform="rotate(38 1056 267.3)" fill="#b0286c"/><ellipse cx="1039.5" cy="272" rx="3.8" ry="1.7" transform="rotate(152 1039.5 272)" fill="#b8306e"/><ellipse cx="1333.5" cy="443.3" rx="3.2" ry="1.3" transform="rotate(21 1333.5 443.3)" fill="#9c2c6c"/><ellipse cx="1013.8" cy="180.3" rx="3.3" ry="1.5" transform="rotate(104 1013.8 180.3)" fill="#a42a6c"/><ellipse cx="1133" cy="132.3" rx="3.3" ry="1.6" transform="rotate(147 1133 132.3)" fill="#b8306e"/><ellipse cx="1351.1" cy="437.2" rx="2.9" ry="1.6" transform="rotate(154 1351.1 437.2)" fill="#c02c74"/><ellipse cx="1015.2" cy="152.9" rx="3.5" ry="1.5" transform="rotate(15 1015.2 152.9)" fill="#a42a6c"/><ellipse cx="1343" cy="241.3" rx="2.5" ry="1.3" transform="rotate(176 1343 241.3)" fill="#a42a6c"/><ellipse cx="1070.2" cy="382.4" rx="2.3" ry="1.9" transform="rotate(126 1070.2 382.4)" fill="#b0286c"/><ellipse cx="1366.9" cy="280" rx="3" ry="1.4" transform="rotate(26 1366.9 280)" fill="#9c2c6c"/><ellipse cx="1051.4" cy="159.6" rx="2.5" ry="1.6" transform="rotate(106 1051.4 159.6)" fill="#b8306e"/><ellipse cx="1027.3" cy="319.6" rx="3.3" ry="1.6" transform="rotate(98 1027.3 319.6)" fill="#b0286c"/><ellipse cx="1044.9" cy="348.9" rx="2.6" ry="1.9" transform="rotate(154 1044.9 348.9)" fill="#9c2c6c"/><ellipse cx="1082.6" cy="103.1" rx="2.5" ry="1.7" transform="rotate(158 1082.6 103.1)" fill="#c02c74"/><ellipse cx="1367.4" cy="254.4" rx="3.3" ry="1.4" transform="rotate(5 1367.4 254.4)" fill="#c02c74"/><ellipse cx="1365.1" cy="450.8" rx="2.7" ry="1.8" transform="rotate(149 1365.1 450.8)" fill="#d03c84"/><ellipse cx="996.7" cy="239.5" rx="3.6" ry="2" transform="rotate(33 996.7 239.5)" fill="#9c2c6c"/><ellipse cx="1010.7" cy="278.2" rx="2.6" ry="1.6" transform="rotate(22 1010.7 278.2)" fill="#c02c74"/><ellipse cx="1036.7" cy="142.3" rx="3.2" ry="1.9" transform="rotate(7 1036.7 142.3)" fill="#a42a6c"/><ellipse cx="1119.1" cy="455.4" rx="2.3" ry="1.3" transform="rotate(8 1119.1 455.4)" fill="#a42a6c"/><ellipse cx="1074.1" cy="320.8" rx="2.4" ry="2.1" transform="rotate(137 1074.1 320.8)" fill="#b0286c"/><ellipse cx="1091.5" cy="83.4" rx="3.4" ry="1.9" transform="rotate(114 1091.5 83.4)" fill="#b0286c"/><ellipse cx="1026.2" cy="166.5" rx="3.2" ry="1.4" transform="rotate(87 1026.2 166.5)" fill="#c02c74"/><ellipse cx="1316.3" cy="427.5" rx="2.7" ry="1.4" transform="rotate(159 1316.3 427.5)" fill="#9c2c6c"/><ellipse cx="1060.8" cy="140.3" rx="2.2" ry="1.9" transform="rotate(145 1060.8 140.3)" fill="#a42a6c"/><ellipse cx="1069" cy="213.7" rx="2.7" ry="2.1" transform="rotate(84 1069 213.7)" fill="#b0286c"/><ellipse cx="1025.9" cy="290.1" rx="3.3" ry="2" transform="rotate(90 1025.9 290.1)" fill="#c02c74"/><ellipse cx="974.3" cy="233.2" rx="3.3" ry="1.5" transform="rotate(60 974.3 233.2)" fill="#b0286c"/><ellipse cx="1085.8" cy="346.5" rx="3.5" ry="1.6" transform="rotate(74 1085.8 346.5)" fill="#c8347c"/><ellipse cx="1045.5" cy="331.9" rx="3.8" ry="1.9" transform="rotate(150 1045.5 331.9)" fill="#b8306e"/><ellipse cx="1063.7" cy="97.4" rx="3.2" ry="1.7" transform="rotate(102 1063.7 97.4)" fill="#b0286c"/><ellipse cx="1074.7" cy="426.5" rx="3.1" ry="1.8" transform="rotate(9 1074.7 426.5)" fill="#c8347c"/><ellipse cx="1084.7" cy="146.5" rx="3.2" ry="2.1" transform="rotate(8 1084.7 146.5)" fill="#b0286c"/><ellipse cx="1059.3" cy="408.4" rx="3.5" ry="1.7" transform="rotate(95 1059.3 408.4)" fill="#b0286c"/><ellipse cx="1039" cy="116.2" rx="3.4" ry="1.9" transform="rotate(13 1039 116.2)" fill="#c8347c"/><ellipse cx="1001.6" cy="213.2" rx="3.5" ry="1.6" transform="rotate(28 1001.6 213.2)" fill="#c8347c"/><ellipse cx="988.6" cy="171.6" rx="2.5" ry="1.3" transform="rotate(127 988.6 171.6)" fill="#b0286c"/><ellipse cx="1099.2" cy="105.4" rx="2.6" ry="1.7" transform="rotate(6 1099.2 105.4)" fill="#b8306e"/><ellipse cx="1000.4" cy="141.8" rx="3.5" ry="2.1" transform="rotate(93 1000.4 141.8)" fill="#b0286c"/><ellipse cx="1162.5" cy="151.5" rx="3.5" ry="1.7" transform="rotate(119 1162.5 151.5)" fill="#c8347c"/><ellipse cx="1029.3" cy="200.8" rx="2.8" ry="1.9" transform="rotate(23 1029.3 200.8)" fill="#b0286c"/><ellipse cx="979.2" cy="126.6" rx="3.6" ry="1.5" transform="rotate(52 979.2 126.6)" fill="#b0286c"/><ellipse cx="970" cy="204.4" rx="3.8" ry="1.9" transform="rotate(2 970 204.4)" fill="#b0286c"/><ellipse cx="1047.2" cy="85" rx="3" ry="1.9" transform="rotate(162 1047.2 85)" fill="#b0286c"/><ellipse cx="975.8" cy="250.5" rx="2.6" ry="2" transform="rotate(13 975.8 250.5)" fill="#a42a6c"/><ellipse cx="1026.6" cy="94.5" rx="3.1" ry="1.7" transform="rotate(124 1026.6 94.5)" fill="#b0286c"/><ellipse cx="1045" cy="386.2" rx="2.8" ry="1.6" transform="rotate(12 1045 386.2)" fill="#9c2c6c"/><ellipse cx="1056" cy="430.3" rx="3.4" ry="1.6" transform="rotate(105 1056 430.3)" fill="#d03c84"/><ellipse cx="1023.7" cy="132.1" rx="2.3" ry="1.8" transform="rotate(154 1023.7 132.1)" fill="#c02c74"/><ellipse cx="1016.6" cy="344.8" rx="2.4" ry="1.7" transform="rotate(166 1016.6 344.8)" fill="#a42a6c"/><ellipse cx="965.4" cy="181.3" rx="3.5" ry="1.4" transform="rotate(178 965.4 181.3)" fill="#b8306e"/><ellipse cx="1065" cy="116.2" rx="2.4" ry="1.4" transform="rotate(72 1065 116.2)" fill="#c8347c"/><ellipse cx="993.5" cy="190.8" rx="2.5" ry="1.7" transform="rotate(19 993.5 190.8)" fill="#a42a6c"/><ellipse cx="1026.4" cy="425.9" rx="2.3" ry="1.6" transform="rotate(177 1026.4 425.9)" fill="#b0286c"/><ellipse cx="982.8" cy="289.8" rx="3.1" ry="2.1" transform="rotate(147 982.8 289.8)" fill="#a42a6c"/><ellipse cx="1017.4" cy="371.6" rx="2.8" ry="1.8" transform="rotate(135 1017.4 371.6)" fill="#b8306e"/><ellipse cx="1044.4" cy="210.9" rx="2.4" ry="1.8" transform="rotate(133 1044.4 210.9)" fill="#a42a6c"/><ellipse cx="949.7" cy="156.9" rx="3.3" ry="1.9" transform="rotate(34 949.7 156.9)" fill="#a42a6c"/><ellipse cx="981" cy="268.8" rx="3.7" ry="1.3" transform="rotate(79 981 268.8)" fill="#a42a6c"/><ellipse cx="959.7" cy="288.5" rx="3.1" ry="1.7" transform="rotate(65 959.7 288.5)" fill="#9c2c6c"/><ellipse cx="1087.8" cy="449.9" rx="2.5" ry="1.6" transform="rotate(151 1087.8 449.9)" fill="#c8347c"/><ellipse cx="1041.8" cy="366.9" rx="3.1" ry="2" transform="rotate(92 1041.8 366.9)" fill="#9c2c6c"/><ellipse cx="944.9" cy="212.4" rx="2.8" ry="1.9" transform="rotate(142 944.9 212.4)" fill="#b8306e"/><ellipse cx="958.7" cy="269.3" rx="3" ry="1.4" transform="rotate(167 958.7 269.3)" fill="#b8306e"/><ellipse cx="1372.2" cy="430.7" rx="3" ry="1.5" transform="rotate(81 1372.2 430.7)" fill="#c02c74"/><ellipse cx="1031.5" cy="403.8" rx="3.1" ry="1.6" transform="rotate(15 1031.5 403.8)" fill="#c8347c"/><ellipse cx="1002.9" cy="259.5" rx="3" ry="1.7" transform="rotate(3 1002.9 259.5)" fill="#a42a6c"/><ellipse cx="1016.4" cy="390.4" rx="3.6" ry="2" transform="rotate(56 1016.4 390.4)" fill="#d03c84"/><ellipse cx="943" cy="183.4" rx="3.2" ry="1.4" transform="rotate(147 943 183.4)" fill="#d03c84"/><ellipse cx="1012.3" cy="198.8" rx="2.9" ry="1.8" transform="rotate(40 1012.3 198.8)" fill="#b0286c"/><ellipse cx="949" cy="254.7" rx="3.7" ry="1.9" transform="rotate(139 949 254.7)" fill="#b8306e"/><ellipse cx="984.6" cy="153" rx="2.7" ry="1.8" transform="rotate(43 984.6 153)" fill="#d03c84"/><ellipse cx="929.9" cy="272.4" rx="3.3" ry="1.8" transform="rotate(37 929.9 272.4)" fill="#d03c84"/><ellipse cx="1007.5" cy="424.5" rx="2.9" ry="2" transform="rotate(4 1007.5 424.5)" fill="#b0286c"/><ellipse cx="941.9" cy="287.3" rx="3.3" ry="1.9" transform="rotate(100 941.9 287.3)" fill="#a42a6c"/><ellipse cx="1002.8" cy="403" rx="3.6" ry="1.6" transform="rotate(86 1002.8 403)" fill="#a42a6c"/><ellipse cx="990.1" cy="416.5" rx="3.5" ry="2" transform="rotate(77 990.1 416.5)" fill="#b8306e"/><ellipse cx="928.9" cy="201.6" rx="2.7" ry="1.6" transform="rotate(96 928.9 201.6)" fill="#9c2c6c"/><ellipse cx="1076.7" cy="462.3" rx="3.5" ry="1.7" transform="rotate(3 1076.7 462.3)" fill="#d03c84"/><ellipse cx="945.5" cy="311.5" rx="3.7" ry="1.6" transform="rotate(70 945.5 311.5)" fill="#c8347c"/><ellipse cx="1038.6" cy="443.1" rx="2.8" ry="1.7" transform="rotate(24 1038.6 443.1)" fill="#c8347c"/><ellipse cx="973" cy="165.3" rx="2.7" ry="1.9" transform="rotate(95 973 165.3)" fill="#d03c84"/><ellipse cx="908.7" cy="271.3" rx="2.8" ry="1.9" transform="rotate(130 908.7 271.3)" fill="#c02c74"/><ellipse cx="993.5" cy="117.2" rx="3.5" ry="1.6" transform="rotate(165 993.5 117.2)" fill="#c8347c"/><ellipse cx="961.3" cy="135" rx="3" ry="1.4" transform="rotate(22 961.3 135)" fill="#c8347c"/><ellipse cx="983.4" cy="217" rx="3.2" ry="1.7" transform="rotate(67 983.4 217)" fill="#b0286c"/><ellipse cx="956.1" cy="230.6" rx="2.7" ry="1.6" transform="rotate(168 956.1 230.6)" fill="#b0286c"/><ellipse cx="914.1" cy="289.1" rx="3.7" ry="1.6" transform="rotate(143 914.1 289.1)" fill="#c8347c"/><ellipse cx="1012" cy="450" rx="3.2" ry="1.4" transform="rotate(106 1012 450)" fill="#c02c74"/><ellipse cx="1044.1" cy="416.4" rx="2.9" ry="1.6" transform="rotate(124 1044.1 416.4)" fill="#d03c84"/><ellipse cx="982.4" cy="448.7" rx="2.7" ry="1.8" transform="rotate(91 982.4 448.7)" fill="#9c2c6c"/><ellipse cx="1101.9" cy="458.7" rx="3.2" ry="2" transform="rotate(92 1101.9 458.7)" fill="#9c2c6c"/><ellipse cx="946.3" cy="87.2" rx="3" ry="1.8" transform="rotate(113 946.3 87.2)" fill="#c8347c"/><ellipse cx="935.5" cy="104.8" rx="3.5" ry="1.7" transform="rotate(96 935.5 104.8)" fill="#b8306e"/><ellipse cx="993.7" cy="388.8" rx="2.5" ry="1.5" transform="rotate(32 993.7 388.8)" fill="#b0286c"/><ellipse cx="918.2" cy="89.1" rx="3.2" ry="1.7" transform="rotate(4 918.2 89.1)" fill="#c8347c"/><ellipse cx="943.8" cy="331.9" rx="3" ry="1.6" transform="rotate(104 943.8 331.9)" fill="#c8347c"/><ellipse cx="933.2" cy="236.3" rx="3.3" ry="1.8" transform="rotate(52 933.2 236.3)" fill="#b0286c"/><ellipse cx="931.9" cy="252.9" rx="3.3" ry="1.6" transform="rotate(56 931.9 252.9)" fill="#d03c84"/><ellipse cx="924.7" cy="221.1" rx="2.5" ry="1.3" transform="rotate(18 924.7 221.1)" fill="#c8347c"/><ellipse cx="910.9" cy="248.5" rx="2.6" ry="1.9" transform="rotate(25 910.9 248.5)" fill="#9c2c6c"/><ellipse cx="941.4" cy="131.7" rx="3.3" ry="1.5" transform="rotate(144 941.4 131.7)" fill="#d03c84"/><ellipse cx="929.2" cy="163" rx="3.3" ry="1.8" transform="rotate(18 929.2 163)" fill="#c02c74"/><ellipse cx="925.7" cy="316.3" rx="2.4" ry="1.8" transform="rotate(110 925.7 316.3)" fill="#c8347c"/><ellipse cx="906.8" cy="198.6" rx="3.3" ry="1.6" transform="rotate(17 906.8 198.6)" fill="#9c2c6c"/><ellipse cx="904.2" cy="304.3" rx="3.3" ry="1.4" transform="rotate(165 904.2 304.3)" fill="#c02c74"/><ellipse cx="912.7" cy="167.6" rx="2.5" ry="1.3" transform="rotate(29 912.7 167.6)" fill="#b8306e"/><ellipse cx="890.6" cy="263.1" rx="3.7" ry="1.7" transform="rotate(68 890.6 263.1)" fill="#d03c84"/><ellipse cx="926.7" cy="142.6" rx="2.5" ry="1.4" transform="rotate(11 926.7 142.6)" fill="#b8306e"/><ellipse cx="1002.5" cy="464.9" rx="3.1" ry="1.7" transform="rotate(61 1002.5 464.9)" fill="#d03c84"/><ellipse cx="919.1" cy="187.1" rx="2.6" ry="1.8" transform="rotate(162 919.1 187.1)" fill="#b0286c"/><ellipse cx="907.8" cy="226.4" rx="3.7" ry="1.8" transform="rotate(177 907.8 226.4)" fill="#a42a6c"/><ellipse cx="1041.4" cy="463.1" rx="3.6" ry="1.7" transform="rotate(166 1041.4 463.1)" fill="#d03c84"/><ellipse cx="963.8" cy="395.4" rx="3.3" ry="2.1" transform="rotate(147 963.8 395.4)" fill="#d03c84"/><ellipse cx="925.1" cy="342.6" rx="2.5" ry="1.8" transform="rotate(136 925.1 342.6)" fill="#9c2c6c"/><ellipse cx="904" cy="149.7" rx="3.1" ry="1.5" transform="rotate(45 904 149.7)" fill="#b0286c"/><ellipse cx="920.8" cy="113.1" rx="3.8" ry="1.3" transform="rotate(20 920.8 113.1)" fill="#b8306e"/><ellipse cx="928.7" cy="298.5" rx="3.4" ry="1.8" transform="rotate(72 928.7 298.5)" fill="#b0286c"/><ellipse cx="954.9" cy="195" rx="3.7" ry="1.4" transform="rotate(170 954.9 195)" fill="#a42a6c"/><ellipse cx="950.4" cy="112.6" rx="3" ry="1.5" transform="rotate(53 950.4 112.6)" fill="#c02c74"/><ellipse cx="893" cy="212.1" rx="2.6" ry="1.4" transform="rotate(144 893 212.1)" fill="#9c2c6c"/><ellipse cx="950.9" cy="380.1" rx="3.3" ry="2" transform="rotate(126 950.9 380.1)" fill="#c8347c"/><ellipse cx="889.5" cy="169.7" rx="3.3" ry="1.5" transform="rotate(149 889.5 169.7)" fill="#9c2c6c"/><ellipse cx="881.1" cy="226.9" rx="3" ry="2" transform="rotate(118 881.1 226.9)" fill="#c8347c"/><ellipse cx="931.7" cy="359.6" rx="2.2" ry="1.7" transform="rotate(130 931.7 359.6)" fill="#d03c84"/><ellipse cx="887.4" cy="243.2" rx="3.6" ry="1.6" transform="rotate(28 887.4 243.2)" fill="#a42a6c"/><ellipse cx="902.7" cy="331.9" rx="2.7" ry="1.9" transform="rotate(13 902.7 331.9)" fill="#c02c74"/><ellipse cx="897" cy="98.2" rx="3.6" ry="1.8" transform="rotate(105 897 98.2)" fill="#c02c74"/><ellipse cx="891.1" cy="81.6" rx="2.6" ry="1.6" transform="rotate(120 891.1 81.6)" fill="#9c2c6c"/><ellipse cx="879.3" cy="200.2" rx="3.3" ry="2" transform="rotate(50 879.3 200.2)" fill="#d03c84"/><ellipse cx="863.2" cy="211" rx="2.7" ry="2.1" transform="rotate(101 863.2 211)" fill="#d03c84"/><ellipse cx="898.2" cy="184.3" rx="3.7" ry="1.5" transform="rotate(117 898.2 184.3)" fill="#d03c84"/><ellipse cx="1247.4" cy="323.4" rx="3.5" ry="1.8" transform="rotate(93 1247.4 323.4)" fill="#a42a6c"/><ellipse cx="1276.8" cy="326.8" rx="2.2" ry="1.8" transform="rotate(130 1276.8 326.8)" fill="#b0286c"/><ellipse cx="1130" cy="321.8" rx="3" ry="1.4" transform="rotate(28 1130 321.8)" fill="#9c2c6c"/><ellipse cx="1269.7" cy="266.7" rx="2.2" ry="1.8" transform="rotate(73 1269.7 266.7)" fill="#b0286c"/><ellipse cx="1180.4" cy="393.8" rx="2.4" ry="1.7" transform="rotate(32 1180.4 393.8)" fill="#c02c74"/><ellipse cx="1229.5" cy="410.7" rx="3" ry="1.6" transform="rotate(107 1229.5 410.7)" fill="#9c2c6c"/><ellipse cx="1252.8" cy="415.7" rx="3.4" ry="2" transform="rotate(71 1252.8 415.7)" fill="#d03c84"/><ellipse cx="1286.8" cy="345.9" rx="2.6" ry="1.9" transform="rotate(71 1286.8 345.9)" fill="#b0286c"/><ellipse cx="1080.8" cy="298.4" rx="2.9" ry="1.4" transform="rotate(111 1080.8 298.4)" fill="#c8347c"/><ellipse cx="1330.3" cy="357.2" rx="2.4" ry="1.3" transform="rotate(92 1330.3 357.2)" fill="#b0286c"/><ellipse cx="1085" cy="230.9" rx="2.9" ry="2" transform="rotate(39 1085 230.9)" fill="#a42a6c"/><ellipse cx="1095.8" cy="151.8" rx="3.4" ry="1.8" transform="rotate(32 1095.8 151.8)" fill="#a42a6c"/><ellipse cx="1366.7" cy="347.9" rx="3.3" ry="1.4" transform="rotate(117 1366.7 347.9)" fill="#c02c74"/><ellipse cx="1301.5" cy="352.7" rx="2.3" ry="1.8" transform="rotate(47 1301.5 352.7)" fill="#9c2c6c"/><ellipse cx="1147.2" cy="82.3" rx="2.2" ry="1.8" transform="rotate(139 1147.2 82.3)" fill="#b8306e"/><ellipse cx="1276.9" cy="454.9" rx="2.6" ry="1.9" transform="rotate(167 1276.9 454.9)" fill="#b8306e"/><ellipse cx="1068.7" cy="276.7" rx="3.1" ry="1.4" transform="rotate(155 1068.7 276.7)" fill="#b0286c"/><ellipse cx="1053.2" cy="294" rx="3" ry="2" transform="rotate(100 1053.2 294)" fill="#b8306e"/><ellipse cx="1200.4" cy="441.8" rx="3.5" ry="1.6" transform="rotate(163 1200.4 441.8)" fill="#b8306e"/><ellipse cx="1064.7" cy="151.7" rx="3.8" ry="1.9" transform="rotate(28 1064.7 151.7)" fill="#b0286c"/><ellipse cx="1064.5" cy="363" rx="2.3" ry="1.8" transform="rotate(40 1064.5 363)" fill="#9c2c6c"/><ellipse cx="1075.7" cy="377.9" rx="3.2" ry="1.5" transform="rotate(46 1075.7 377.9)" fill="#b0286c"/><ellipse cx="1371.4" cy="273.9" rx="3.5" ry="1.8" transform="rotate(28 1371.4 273.9)" fill="#b8306e"/><ellipse cx="1058" cy="162.1" rx="2.7" ry="1.6" transform="rotate(130 1058 162.1)" fill="#9c2c6c"/><ellipse cx="1369.5" cy="458.6" rx="3.2" ry="1.3" transform="rotate(75 1369.5 458.6)" fill="#9c2c6c"/><ellipse cx="1070" cy="313" rx="3.5" ry="1.6" transform="rotate(139 1070 313)" fill="#b0286c"/><ellipse cx="1061.3" cy="134.1" rx="3.5" ry="1.9" transform="rotate(117 1061.3 134.1)" fill="#b8306e"/><ellipse cx="1007.6" cy="138.8" rx="3.5" ry="1.7" transform="rotate(54 1007.6 138.8)" fill="#a42a6c"/><ellipse cx="990.3" cy="198.5" rx="3.4" ry="1.5" transform="rotate(101 990.3 198.5)" fill="#c8347c"/><ellipse cx="1024.5" cy="419.1" rx="2.7" ry="2" transform="rotate(24 1024.5 419.1)" fill="#b0286c"/><ellipse cx="951.1" cy="164" rx="3" ry="1.5" transform="rotate(96 951.1 164)" fill="#c8347c"/><ellipse cx="1015.5" cy="428.5" rx="3.6" ry="1.7" transform="rotate(93 1015.5 428.5)" fill="#a42a6c"/><ellipse cx="938.9" cy="282.1" rx="2.7" ry="1.6" transform="rotate(159 938.9 282.1)" fill="#d03c84"/><ellipse cx="1045.5" cy="410.2" rx="3.7" ry="2" transform="rotate(11 1045.5 410.2)" fill="#d03c84"/><ellipse cx="938.7" cy="111.4" rx="2.5" ry="1.4" transform="rotate(49 938.7 111.4)" fill="#c8347c"/><ellipse cx="913" cy="254.3" rx="2.3" ry="1.4" transform="rotate(67 913 254.3)" fill="#c8347c"/><ellipse cx="931.3" cy="155.4" rx="3.5" ry="1.6" transform="rotate(155 931.3 155.4)" fill="#9c2c6c"/><ellipse cx="895.1" cy="259.1" rx="3" ry="1.9" transform="rotate(127 895.1 259.1)" fill="#b0286c"/><ellipse cx="920.1" cy="137.1" rx="2.4" ry="1.8" transform="rotate(54 920.1 137.1)" fill="#c02c74"/><ellipse cx="901.5" cy="222" rx="2.7" ry="2" transform="rotate(121 901.5 222)" fill="#a42a6c"/><ellipse cx="954.8" cy="186.1" rx="3.7" ry="1.6" transform="rotate(99 954.8 186.1)" fill="#c8347c"/><ellipse cx="927.2" cy="353.7" rx="3.7" ry="1.3" transform="rotate(46 927.2 353.7)" fill="#b0286c"/><ellipse cx="894.9" cy="244.4" rx="3.1" ry="1.7" transform="rotate(179 894.9 244.4)" fill="#c8347c"/><ellipse cx="894.3" cy="329.1" rx="2.3" ry="1.7" transform="rotate(90 894.3 329.1)" fill="#c8347c"/></g><g fill="#f070b0" opacity="0.5" filter="url(#bl2)"><ellipse cx="873.6" cy="80.1" rx="6.5" ry="4.8" transform="rotate(33 873.6 80.1)"/><ellipse cx="884.1" cy="89.2" rx="6.0" ry="5.0" transform="rotate(30 884.1 89.2)"/><ellipse cx="893.8" cy="96.4" rx="7.0" ry="5.0" transform="rotate(33 893.8 96.4)"/><ellipse cx="900.4" cy="99.9" rx="6.6" ry="4.5" transform="rotate(14 900.4 99.9)"/><ellipse cx="909.4" cy="102.1" rx="6.2" ry="4.2" transform="rotate(36 909.4 102.1)"/><ellipse cx="916.3" cy="113.0" rx="6.5" ry="4.3" transform="rotate(45 916.3 113.0)"/><ellipse cx="923.4" cy="124.9" rx="7.6" ry="4.4" transform="rotate(91 923.4 124.9)"/><ellipse cx="918.4" cy="138.2" rx="7.1" ry="5.0" transform="rotate(121 918.4 138.2)"/><ellipse cx="903.6" cy="147.6" rx="7.8" ry="5.0" transform="rotate(162 903.6 147.6)"/><ellipse cx="901.0" cy="151.0" rx="8.2" ry="4.8" transform="rotate(99 901.0 151.0)"/><ellipse cx="899.0" cy="158.4" rx="6.1" ry="4.9" transform="rotate(121 899.0 158.4)"/><ellipse cx="894.7" cy="165.0" rx="6.5" ry="5.1" transform="rotate(114 894.7 165.0)"/><ellipse cx="889.8" cy="174.9" rx="7.4" ry="4.9" transform="rotate(111 889.8 174.9)"/><ellipse cx="882.5" cy="189.4" rx="6.9" ry="4.4" transform="rotate(113 882.5 189.4)"/><ellipse cx="874.9" cy="196.5" rx="8.3" ry="4.1" transform="rotate(113 874.9 196.5)"/></g><g opacity="0.85" filter="url(#bl1)"><ellipse cx="873.6" cy="80.1" rx="4.0" ry="2.3" transform="rotate(33 873.6 80.1)" fill="#c8306f"/><ellipse cx="884.1" cy="89.2" rx="3.5" ry="2.5" transform="rotate(30 884.1 89.2)" fill="#d83a80"/><ellipse cx="893.8" cy="96.4" rx="4.5" ry="2.5" transform="rotate(33 893.8 96.4)" fill="#e0488a"/><ellipse cx="900.4" cy="99.9" rx="4.1" ry="2.0" transform="rotate(14 900.4 99.9)" fill="#e0488a"/><ellipse cx="909.4" cy="102.1" rx="3.7" ry="1.7" transform="rotate(36 909.4 102.1)" fill="#c8306f"/><ellipse cx="916.3" cy="113.0" rx="4.0" ry="1.8" transform="rotate(45 916.3 113.0)" fill="#e0488a"/><ellipse cx="923.4" cy="124.9" rx="5.1" ry="1.9" transform="rotate(91 923.4 124.9)" fill="#c8306f"/><ellipse cx="918.4" cy="138.2" rx="4.6" ry="2.5" transform="rotate(121 918.4 138.2)" fill="#e0488a"/><ellipse cx="903.6" cy="147.6" rx="5.3" ry="2.5" transform="rotate(162 903.6 147.6)" fill="#e0488a"/><ellipse cx="901.0" cy="151.0" rx="5.7" ry="2.3" transform="rotate(99 901.0 151.0)" fill="#d83a80"/><ellipse cx="899.0" cy="158.4" rx="3.6" ry="2.4" transform="rotate(121 899.0 158.4)" fill="#c8306f"/><ellipse cx="894.7" cy="165.0" rx="4.0" ry="2.6" transform="rotate(114 894.7 165.0)" fill="#d83a80"/><ellipse cx="889.8" cy="174.9" rx="4.9" ry="2.4" transform="rotate(111 889.8 174.9)" fill="#b82a6a"/><ellipse cx="882.5" cy="189.4" rx="4.4" ry="1.9" transform="rotate(113 882.5 189.4)" fill="#c8306f"/><ellipse cx="874.9" cy="196.5" rx="5.8" ry="1.6" transform="rotate(113 874.9 196.5)" fill="#d83a80"/></g><g fill="#f070b0" opacity="0.5" filter="url(#bl2)"><ellipse cx="883.5" cy="239.0" rx="6.5" ry="5.0" transform="rotate(60 883.5 239.0)"/><ellipse cx="887.1" cy="250.4" rx="6.4" ry="4.2" transform="rotate(57 887.1 250.4)"/><ellipse cx="889.9" cy="257.9" rx="6.8" ry="4.7" transform="rotate(92 889.9 257.9)"/><ellipse cx="891.5" cy="262.9" rx="8.4" ry="4.9" transform="rotate(59 891.5 262.9)"/><ellipse cx="902.2" cy="277.2" rx="7.2" ry="4.7" transform="rotate(24 902.2 277.2)"/><ellipse cx="909.6" cy="277.9" rx="7.1" ry="4.5" transform="rotate(30 909.6 277.9)"/><ellipse cx="919.7" cy="291.9" rx="8.1" ry="4.4" transform="rotate(81 919.7 291.9)"/><ellipse cx="918.1" cy="302.2" rx="8.2" ry="4.2" transform="rotate(154 918.1 302.2)"/><ellipse cx="911.0" cy="306.8" rx="8.3" ry="4.5" transform="rotate(162 911.0 306.8)"/><ellipse cx="903.4" cy="310.4" rx="7.6" ry="4.4" transform="rotate(157 903.4 310.4)"/><ellipse cx="891.1" cy="312.5" rx="8.1" ry="4.8" transform="rotate(149 891.1 312.5)"/><ellipse cx="893.7" cy="325.5" rx="8.4" ry="4.8" transform="rotate(50 893.7 325.5)"/><ellipse cx="899.0" cy="338.1" rx="7.9" ry="4.2" transform="rotate(86 899.0 338.1)"/><ellipse cx="901.1" cy="344.7" rx="8.0" ry="4.8" transform="rotate(55 901.1 344.7)"/><ellipse cx="912.2" cy="347.9" rx="8.1" ry="4.3" transform="rotate(20 912.2 347.9)"/><ellipse cx="921.6" cy="357.6" rx="6.2" ry="4.6" transform="rotate(32 921.6 357.6)"/><ellipse cx="925.0" cy="359.1" rx="7.6" ry="4.1" transform="rotate(32 925.0 359.1)"/><ellipse cx="932.3" cy="361.5" rx="7.5" ry="4.9" transform="rotate(30 932.3 361.5)"/><ellipse cx="942.1" cy="373.4" rx="6.5" ry="4.5" transform="rotate(41 942.1 373.4)"/><ellipse cx="951.8" cy="376.7" rx="8.3" ry="4.6" transform="rotate(31 951.8 376.7)"/><ellipse cx="961.5" cy="386.2" rx="7.8" ry="5.0" transform="rotate(42 961.5 386.2)"/><ellipse cx="963.2" cy="391.6" rx="8.2" ry="4.7" transform="rotate(53 963.2 391.6)"/><ellipse cx="965.4" cy="403.0" rx="6.1" ry="4.3" transform="rotate(65 965.4 403.0)"/><ellipse cx="975.5" cy="421.7" rx="6.3" ry="4.3" transform="rotate(66 975.5 421.7)"/><ellipse cx="978.2" cy="428.7" rx="8.1" ry="4.7" transform="rotate(80 978.2 428.7)"/><ellipse cx="982.7" cy="438.8" rx="7.3" ry="4.7" transform="rotate(83 982.7 438.8)"/><ellipse cx="988.9" cy="451.0" rx="7.7" ry="4.6" transform="rotate(90 988.9 451.0)"/><ellipse cx="990.1" cy="467.2" rx="7.3" ry="4.7" transform="rotate(73 990.1 467.2)"/></g><g opacity="0.85" filter="url(#bl1)"><ellipse cx="883.5" cy="239.0" rx="4.0" ry="2.5" transform="rotate(60 883.5 239.0)" fill="#e0488a"/><ellipse cx="887.1" cy="250.4" rx="3.9" ry="1.7" transform="rotate(57 887.1 250.4)" fill="#e0488a"/><ellipse cx="889.9" cy="257.9" rx="4.3" ry="2.2" transform="rotate(92 889.9 257.9)" fill="#b82a6a"/><ellipse cx="891.5" cy="262.9" rx="5.9" ry="2.4" transform="rotate(59 891.5 262.9)" fill="#d83a80"/><ellipse cx="902.2" cy="277.2" rx="4.7" ry="2.2" transform="rotate(24 902.2 277.2)" fill="#d83a80"/><ellipse cx="909.6" cy="277.9" rx="4.6" ry="2.0" transform="rotate(30 909.6 277.9)" fill="#c8306f"/><ellipse cx="919.7" cy="291.9" rx="5.6" ry="1.9" transform="rotate(81 919.7 291.9)" fill="#d83a80"/><ellipse cx="918.1" cy="302.2" rx="5.7" ry="1.7" transform="rotate(154 918.1 302.2)" fill="#b82a6a"/><ellipse cx="911.0" cy="306.8" rx="5.8" ry="2.0" transform="rotate(162 911.0 306.8)" fill="#c8306f"/><ellipse cx="903.4" cy="310.4" rx="5.1" ry="1.9" transform="rotate(157 903.4 310.4)" fill="#e0488a"/><ellipse cx="891.1" cy="312.5" rx="5.6" ry="2.3" transform="rotate(149 891.1 312.5)" fill="#c8306f"/><ellipse cx="893.7" cy="325.5" rx="5.9" ry="2.3" transform="rotate(50 893.7 325.5)" fill="#b82a6a"/><ellipse cx="899.0" cy="338.1" rx="5.4" ry="1.7" transform="rotate(86 899.0 338.1)" fill="#d83a80"/><ellipse cx="901.1" cy="344.7" rx="5.5" ry="2.3" transform="rotate(55 901.1 344.7)" fill="#c8306f"/><ellipse cx="912.2" cy="347.9" rx="5.6" ry="1.8" transform="rotate(20 912.2 347.9)" fill="#b82a6a"/><ellipse cx="921.6" cy="357.6" rx="3.7" ry="2.1" transform="rotate(32 921.6 357.6)" fill="#c8306f"/><ellipse cx="925.0" cy="359.1" rx="5.1" ry="1.6" transform="rotate(32 925.0 359.1)" fill="#d83a80"/><ellipse cx="932.3" cy="361.5" rx="5.0" ry="2.4" transform="rotate(30 932.3 361.5)" fill="#b82a6a"/><ellipse cx="942.1" cy="373.4" rx="4.0" ry="2.0" transform="rotate(41 942.1 373.4)" fill="#b82a6a"/><ellipse cx="951.8" cy="376.7" rx="5.8" ry="2.1" transform="rotate(31 951.8 376.7)" fill="#b82a6a"/><ellipse cx="961.5" cy="386.2" rx="5.3" ry="2.5" transform="rotate(42 961.5 386.2)" fill="#d83a80"/><ellipse cx="963.2" cy="391.6" rx="5.7" ry="2.2" transform="rotate(53 963.2 391.6)" fill="#d83a80"/><ellipse cx="965.4" cy="403.0" rx="3.6" ry="1.8" transform="rotate(65 965.4 403.0)" fill="#b82a6a"/><ellipse cx="975.5" cy="421.7" rx="3.8" ry="1.8" transform="rotate(66 975.5 421.7)" fill="#c8306f"/><ellipse cx="978.2" cy="428.7" rx="5.6" ry="2.2" transform="rotate(80 978.2 428.7)" fill="#b82a6a"/><ellipse cx="982.7" cy="438.8" rx="4.8" ry="2.2" transform="rotate(83 982.7 438.8)" fill="#c8306f"/><ellipse cx="988.9" cy="451.0" rx="5.2" ry="2.1" transform="rotate(90 988.9 451.0)" fill="#c8306f"/><ellipse cx="990.1" cy="467.2" rx="4.8" ry="2.2" transform="rotate(73 990.1 467.2)" fill="#c8306f"/></g></g><ellipse cx="900" cy="108" rx="2" ry="2" fill="#303030"/><rect x="1168" y="79" width="206" height="157" fill="#e8fdfb"/><path d="M1275.0 87.4L1279.6 86.3L1281.3 86.7L1284.4 87.9L1287.6 89.0L1288.8 87.1L1294.9 88.7L1296.0 87.7L1298.6 88.4L1301.7 90.2L1305.8 88.9L1307.7 89.4L1311.2 93.6L1314.7 95.0L1318.7 95.8L1321.3 97.9L1324.2 99.5L1324.2 101.6L1325.9 102.8L1328.0 106.7L1332.1 107.2L1331.9 111.7L1336.0 114.4L1337.6 117.1L1338.1 119.4L1339.6 122.9L1339.4 123.5L1340.7 127.4L1341.5 130.6L1341.9 134.7L1341.7 138.2L1340.8 139.3L1340.8 142.8L1341.0 148.5L1341.4 149.8L1342.4 154.9L1342.4 157.3L1339.0 159.1L1339.6 162.6L1337.5 164.3L1335.3 166.8L1336.2 170.2L1334.6 173.1L1334.5 176.6L1332.0 179.5L1329.1 180.0L1327.7 183.4L1325.9 185.8L1322.4 189.0L1321.6 191.9L1317.3 192.3L1315.0 197.6L1313.4 197.1L1310.3 200.4L1308.7 200.4L1305.4 201.5L1303.0 204.2L1299.1 204.5L1295.7 206.5L1294.6 206.3L1290.6 208.9L1288.7 210.2L1285.1 212.3L1284.2 215.8L1280.4 214.9L1277.3 218.4L1275.7 219.0L1273.9 222.5L1269.5 224.6L1266.5 222.7L1263.3 224.2L1262.2 224.7L1258.6 226.6L1255.7 226.4L1252.5 226.3L1248.4 224.9L1246.5 223.8L1241.5 221.5L1239.9 220.7L1236.8 217.8L1231.5 216.4L1229.7 215.8L1225.6 213.7L1224.6 212.8L1219.6 211.9L1219.0 207.5L1215.3 207.4L1214.5 204.8L1212.8 201.4L1212.3 198.4L1209.0 196.4L1207.8 193.3L1205.7 189.7L1203.2 186.5L1204.1 184.5L1202.0 180.3L1200.7 177.3L1200.4 173.8L1199.1 169.6L1199.5 168.9L1198.9 164.8L1198.3 160.6L1200.8 156.9L1199.0 154.2L1198.9 152.9L1199.4 148.1L1201.6 144.4L1203.7 142.1L1206.7 141.1L1207.5 139.0L1211.0 135.9L1211.2 135.2L1213.5 129.7L1218.1 129.2L1219.0 125.1L1219.9 122.5L1222.7 121.2L1224.5 119.1L1227.0 116.8L1228.8 114.3L1232.2 111.5L1235.2 110.8L1236.1 107.3L1239.7 107.9L1241.5 105.4L1244.3 103.0L1247.5 101.4L1250.2 97.7L1254.3 96.7L1254.8 96.3L1258.7 95.0L1261.2 92.6L1264.9 90.4L1266.8 91.1L1269.9 90.1L1271.2 88.6Z" fill="#d0a4e6"/><g clip-path="url(#cb2)"><ellipse cx="1230" cy="200" rx="30" ry="25" fill="#a8a6ee" opacity="0.8" filter="url(#bl8)"/><ellipse cx="1285" cy="150" rx="35" ry="40" fill="#e2a8e0" opacity="0.7" filter="url(#bl8)"/><ellipse cx="1262" cy="180" rx="14" ry="12" fill="#c8d6f2" opacity="0.7" filter="url(#bl4)"/><rect x="1195" y="85" width="150" height="145" filter="url(#mott2)" opacity="0.35"/><ellipse cx="1300" cy="131" rx="14" ry="18" fill="#d6f2f2" filter="url(#bl1)"/></g></g>
<rect x="338.5" y="79" width="513" height="387.5" fill="none" stroke="#222" stroke-width="3"/><rect x="860" y="79" width="514" height="387.5" fill="none" stroke="#222" stroke-width="3"/><rect x="642" y="79" width="209.5" height="156" fill="none" stroke="#222" stroke-width="3"/><rect x="1168.5" y="79" width="205.5" height="156.5" fill="none" stroke="#222" stroke-width="3"/><rect x="353" y="450" width="84" height="5.3" fill="#050a05"/>
<text transform="matrix(0.8917 0 0 1.0216 284.92 67.5)" font-size="70">a</text><text transform="matrix(1.0019 0 0 1.0286 565.59 65.2)" font-size="40">HC</text><text transform="matrix(1.0 0 0 0.96 1075.1 63.9)" font-size="40">efOA</text>
<rect x="215.6" y="715.2" width="125.2" height="258.5" fill="#d3d3d3" stroke="#111" stroke-width="3.4" stroke-linejoin="round"/>
<rect x="366.4" y="789.3" width="125.3" height="184.4" fill="#0f9ab4" stroke="#111" stroke-width="3.4" stroke-linejoin="round"/>
<path d="M278.2 714.7V663.1M247.4 663.1H309.0" stroke="#111" stroke-width="3.4" stroke-linecap="round" fill="none"/>
<path d="M429.0 788.8V770.0M398.2 770.0H459.8" stroke="#111" stroke-width="3.4" stroke-linecap="round" fill="none"/>
<path d="M203.4 605.2V973.7M193.4 973.7H505.0" stroke="#111" stroke-width="3.4" stroke-linecap="round" stroke-linejoin="round" fill="none"/>
<path d="M193.4 606.2H203.4M193.4 728.7H203.4M193.4 851.2H203.4M193.4 973.7H203.4" stroke="#111" stroke-width="3.4" stroke-linecap="round" fill="none"/>
<path d="M278.2 973.7V985.2M429.0 973.7V985.2" stroke="#111" stroke-width="3.4" fill="none"/>
<text transform="translate(190.9 614.0) scale(0.965 1)" text-anchor="end" font-weight="bold" font-size="26.3">0.015</text>
<text transform="translate(190.9 736.5) scale(0.965 1)" text-anchor="end" font-weight="bold" font-size="26.3">0.010</text>
<text transform="translate(190.9 859.0) scale(0.965 1)" text-anchor="end" font-weight="bold" font-size="26.3">0.005</text>
<text transform="translate(190.9 981.5) scale(0.965 1)" text-anchor="end" font-weight="bold" font-size="26.3">0.000</text>
<text x="278.8" y="1024.4" text-anchor="middle" font-size="41">HC</text>
<text x="429.6" y="1024.4" text-anchor="middle" font-size="41">efOA</text>
<text transform="matrix(0.9385 0 0 1.0357 304.66 588.3)" font-style="italic" font-size="41.5">SOX9</text>
<text transform="translate(115.3 788.35) rotate(-90) scale(0.972 1)" text-anchor="middle" font-size="32.3">Relative Expression</text>
<text transform="matrix(1.0129 0 0 0.9804 18.14 575.1)" font-size="70">b</text>
<rect x="715.6" y="923.0" width="125.3" height="50.7" fill="#d3d3d3" stroke="#111" stroke-width="3.4" stroke-linejoin="round"/>
<rect x="867.8" y="742.1" width="124.6" height="231.6" fill="#0f9ab4" stroke="#111" stroke-width="3.4" stroke-linejoin="round"/>
<path d="M778.2 922.5V898.9M747.5 898.9H809.0" stroke="#111" stroke-width="3.4" stroke-linecap="round" fill="none"/>
<path d="M930.1 741.6V696.8M899.3 696.8H960.9" stroke="#111" stroke-width="3.4" stroke-linecap="round" fill="none"/>
<path d="M702.1 605.2V973.7M692.1 973.7H1005.2" stroke="#111" stroke-width="3.4" stroke-linecap="round" stroke-linejoin="round" fill="none"/>
<path d="M692.1 606.2H702.1M692.1 698.1H702.1M692.1 790.0H702.1M692.1 881.8H702.1M692.1 973.7H702.1" stroke="#111" stroke-width="3.4" stroke-linecap="round" fill="none"/>
<path d="M778.2 973.7V985.2M930.1 973.7V985.2" stroke="#111" stroke-width="3.4" fill="none"/>
<text transform="translate(689.6 614.0) scale(0.965 1)" text-anchor="end" font-weight="bold" font-size="26.3">0.00004</text>
<text transform="translate(689.6 705.8) scale(0.965 1)" text-anchor="end" font-weight="bold" font-size="26.3">0.00003</text>
<text transform="translate(689.6 797.7) scale(0.965 1)" text-anchor="end" font-weight="bold" font-size="26.3">0.00003</text>
<text transform="translate(689.6 889.6) scale(0.965 1)" text-anchor="end" font-weight="bold" font-size="26.3">0.00001</text>
<text transform="translate(689.6 981.5) scale(0.965 1)" text-anchor="end" font-weight="bold" font-size="26.3">0</text>
<text x="778.9" y="1024.4" text-anchor="middle" font-size="41">HC</text>
<text x="930.7" y="1024.4" text-anchor="middle" font-size="41">efOA</text>
<text transform="matrix(0.953 0 0 1.0357 802.31 586.7)" font-style="italic" font-size="41.5">ACAN</text>
<text transform="translate(582.3 787.70) rotate(-90) scale(0.972 1)" text-anchor="middle" font-size="32.3">Relative Expression</text>
<text transform="matrix(1.0233 0 0 0.9973 508.63 575.1)" font-size="70">c</text>
<rect x="1219.3" y="713.2" width="124.7" height="260.5" fill="#d3d3d3" stroke="#111" stroke-width="3.4" stroke-linejoin="round"/>
<rect x="1369.2" y="967.8" width="125.7" height="5.9" fill="#0f9ab4" stroke="#111" stroke-width="3.4" stroke-linejoin="round"/>
<path d="M1281.7 712.7V657.1M1250.9 657.1H1312.5" stroke="#111" stroke-width="3.4" stroke-linecap="round" fill="none"/>
<path d="M1432.1 967.3V964.5M1401.3 964.5H1462.9" stroke="#111" stroke-width="3.4" stroke-linecap="round" fill="none"/>
<path d="M1207.2 605.2V973.7M1197.2 973.7H1508.0" stroke="#111" stroke-width="3.4" stroke-linecap="round" stroke-linejoin="round" fill="none"/>
<path d="M1197.2 606.2H1207.2M1197.2 679.7H1207.2M1197.2 753.2H1207.2M1197.2 826.7H1207.2M1197.2 900.2H1207.2M1197.2 973.7H1207.2" stroke="#111" stroke-width="3.4" stroke-linecap="round" fill="none"/>
<path d="M1281.7 973.7V985.2M1432.1 973.7V985.2" stroke="#111" stroke-width="3.4" fill="none"/>
<text transform="translate(1194.7 614.0) scale(0.965 1)" text-anchor="end" font-weight="bold" font-size="26.3">0.10</text>
<text transform="translate(1194.7 687.5) scale(0.965 1)" text-anchor="end" font-weight="bold" font-size="26.3">0.08</text>
<text transform="translate(1194.7 761.0) scale(0.965 1)" text-anchor="end" font-weight="bold" font-size="26.3">0.06</text>
<text transform="translate(1194.7 834.5) scale(0.965 1)" text-anchor="end" font-weight="bold" font-size="26.3">0.04</text>
<text transform="translate(1194.7 908.0) scale(0.965 1)" text-anchor="end" font-weight="bold" font-size="26.3">0.02</text>
<text transform="translate(1194.7 981.5) scale(0.965 1)" text-anchor="end" font-weight="bold" font-size="26.3">0.00</text>
<text x="1282.2" y="1024.4" text-anchor="middle" font-size="41">HC</text>
<text x="1432.7" y="1024.4" text-anchor="middle" font-size="41">efOA</text>
<text transform="matrix(0.9484 0 0 1.0643 1286.2 588.5)" font-style="italic" font-size="41.5">COL2A1</text>
<text transform="translate(1131.0 788.05) rotate(-90) scale(0.972 1)" text-anchor="middle" font-size="32.3">Relative Expression</text>
<text transform="matrix(0.9774 0 0 0.9667 1051.47 576.0)" font-size="70">d</text>
<text transform="matrix(0.9 0 0 0.9813 1423.5 948.22)" font-weight="bold" font-size="44">*</text>
<rect x="215.6" y="1279.5" width="126.3" height="223.1" fill="#d3d3d3" stroke="#111" stroke-width="3.4" stroke-linejoin="round"/>
<rect x="367.8" y="1186.2" width="125.6" height="316.4" fill="#0f9ab4" stroke="#111" stroke-width="3.4" stroke-linejoin="round"/>
<path d="M278.8 1279.0V1239.6M247.9 1239.6H309.6" stroke="#111" stroke-width="3.4" stroke-linecap="round" fill="none"/>
<path d="M430.6 1185.7V1173.6M399.8 1173.6H461.4" stroke="#111" stroke-width="3.4" stroke-linecap="round" fill="none"/>
<path d="M202.6 1134.3V1502.6M192.6 1502.6H505.0" stroke="#111" stroke-width="3.4" stroke-linecap="round" stroke-linejoin="round" fill="none"/>
<path d="M192.6 1135.3H202.6M192.6 1257.7H202.6M192.6 1380.2H202.6M192.6 1502.6H202.6" stroke="#111" stroke-width="3.4" stroke-linecap="round" fill="none"/>
<path d="M278.8 1502.6V1514.1M430.6 1502.6V1514.1" stroke="#111" stroke-width="3.4" fill="none"/>
<text transform="translate(190.1 1143.0) scale(0.965 1)" text-anchor="end" font-weight="bold" font-size="26.3">0.3</text>
<text transform="translate(190.1 1265.5) scale(0.965 1)" text-anchor="end" font-weight="bold" font-size="26.3">0.2</text>
<text transform="translate(190.1 1387.9) scale(0.965 1)" text-anchor="end" font-weight="bold" font-size="26.3">0.1</text>
<text transform="translate(190.1 1510.3) scale(0.965 1)" text-anchor="end" font-weight="bold" font-size="26.3">0.0</text>
<text x="279.4" y="1553.0" text-anchor="middle" font-size="41">HC</text>
<text x="431.2" y="1553.0" text-anchor="middle" font-size="41">efOA</text>
<text transform="matrix(0.9484 0 0 1.0607 282.7 1117.9)" font-style="italic" font-size="41.5">COL1A1</text>
<text transform="translate(142.8 1317.35) rotate(-90) scale(0.972 1)" text-anchor="middle" font-size="32.3">Relative Expression</text>
<text transform="matrix(0.9939 0 0 0.9865 41.42 1109.4)" font-size="70">e</text>
<rect x="716.6" y="1241.5" width="126.3" height="261.1" fill="#d3d3d3" stroke="#111" stroke-width="3.4" stroke-linejoin="round"/>
<rect x="867.8" y="1500.0" width="127.3" height="2.6" fill="#0f9ab4" stroke="#111" stroke-width="3.4" stroke-linejoin="round"/>
<path d="M779.8 1241.0V1219.4M749.0 1219.4H810.5" stroke="#111" stroke-width="3.4" stroke-linecap="round" fill="none"/>
<path d="M900.7 1498.5H962.2" stroke="#111" stroke-width="3.4" stroke-linecap="round" fill="none"/>
<path d="M703.3 1134.3V1502.6M693.3 1502.6H1007.0" stroke="#111" stroke-width="3.4" stroke-linecap="round" stroke-linejoin="round" fill="none"/>
<path d="M693.3 1135.3H703.3M693.3 1227.1H703.3M693.3 1318.9H703.3M693.3 1410.8H703.3M693.3 1502.6H703.3" stroke="#111" stroke-width="3.4" stroke-linecap="round" fill="none"/>
<path d="M779.8 1502.6V1514.1M931.5 1502.6V1514.1" stroke="#111" stroke-width="3.4" fill="none"/>
<text transform="translate(690.8 1143.0) scale(0.965 1)" text-anchor="end" font-weight="bold" font-size="26.3">0.000008</text>
<text transform="translate(690.8 1234.9) scale(0.965 1)" text-anchor="end" font-weight="bold" font-size="26.3">0.000006</text>
<text transform="translate(690.8 1326.7) scale(0.965 1)" text-anchor="end" font-weight="bold" font-size="26.3">0.000004</text>
<text transform="translate(690.8 1418.5) scale(0.965 1)" text-anchor="end" font-weight="bold" font-size="26.3">0.000002</text>
<text transform="translate(690.8 1510.3) scale(0.965 1)" text-anchor="end" font-weight="bold" font-size="26.3">0.000000</text>
<text x="780.4" y="1553.0" text-anchor="middle" font-size="41">HC</text>
<text x="932.1" y="1553.0" text-anchor="middle" font-size="41">efOA</text>
<text transform="matrix(0.9475 0 0 1.0393 773.01 1116.9)" font-style="italic" font-size="41.5">COL10A1</text>
<text transform="translate(579.1 1317.70) rotate(-90) scale(0.972 1)" text-anchor="middle" font-size="32.3">Relative Expression</text>
<text transform="matrix(1.0895 0 0 0.9784 520.61 1108.6)" font-size="70">f</text>
<text transform="matrix(1.0471 0 0 0.9875 913.2 1480.51)" font-weight="bold" font-size="44">**</text>
<rect x="1220.4" y="1249.9" width="126.3" height="252.7" fill="#d3d3d3" stroke="#111" stroke-width="3.4" stroke-linejoin="round"/>
<rect x="1372.6" y="1388.0" width="126.3" height="114.6" fill="#0f9ab4" stroke="#111" stroke-width="3.4" stroke-linejoin="round"/>
<path d="M1283.6 1249.4V1162.2M1252.8 1162.2H1314.4" stroke="#111" stroke-width="3.4" stroke-linecap="round" fill="none"/>
<path d="M1435.8 1387.5V1376.7M1405.0 1376.7H1466.5" stroke="#111" stroke-width="3.4" stroke-linecap="round" fill="none"/>
<path d="M1207.4 1134.3V1502.6M1197.4 1502.6H1510.0" stroke="#111" stroke-width="3.4" stroke-linecap="round" stroke-linejoin="round" fill="none"/>
<path d="M1197.4 1135.3H1207.4M1197.4 1227.1H1207.4M1197.4 1318.9H1207.4M1197.4 1410.8H1207.4M1197.4 1502.6H1207.4" stroke="#111" stroke-width="3.4" stroke-linecap="round" fill="none"/>
<path d="M1283.6 1502.6V1514.1M1435.8 1502.6V1514.1" stroke="#111" stroke-width="3.4" fill="none"/>
<text transform="translate(1194.9 1143.0) scale(0.965 1)" text-anchor="end" font-weight="bold" font-size="26.3">0.00008</text>
<text transform="translate(1194.9 1234.9) scale(0.965 1)" text-anchor="end" font-weight="bold" font-size="26.3">0.00006</text>
<text transform="translate(1194.9 1326.7) scale(0.965 1)" text-anchor="end" font-weight="bold" font-size="26.3">0.00004</text>
<text transform="translate(1194.9 1418.5) scale(0.965 1)" text-anchor="end" font-weight="bold" font-size="26.3">0.00002</text>
<text transform="translate(1194.9 1510.3) scale(0.965 1)" text-anchor="end" font-weight="bold" font-size="26.3">0.00000</text>
<text x="1284.2" y="1553.0" text-anchor="middle" font-size="41">HC</text>
<text x="1436.3" y="1553.0" text-anchor="middle" font-size="41">efOA</text>
<text transform="matrix(0.9547 0 0 1.0393 1294.45 1115.2)" font-style="italic" font-size="41.5">RUNX2</text>
<text transform="translate(1090.1 1318.75) rotate(-90) scale(0.972 1)" text-anchor="middle" font-size="32.3">Relative Expression</text>
<text transform="matrix(0.9871 0 0 0.9635 1038.14 1094.45)" font-size="70">g</text>
<rect x="213.9" y="1807.8" width="125.3" height="224.5" fill="#d3d3d3" stroke="#111" stroke-width="3.4" stroke-linejoin="round"/>
<path d="M276.6 1807.3V1755.1M245.8 1755.1H307.4" stroke="#111" stroke-width="3.4" stroke-linecap="round" fill="none"/>
<path d="M200.8 1664.4V2032.3M190.8 2032.3H504.2" stroke="#111" stroke-width="3.4" stroke-linecap="round" stroke-linejoin="round" fill="none"/>
<path d="M189.3 1665.4H200.8M189.3 1787.7H200.8M189.3 1910.0H200.8M189.3 2032.3H200.8" stroke="#111" stroke-width="3.4" stroke-linecap="round" fill="none"/>
<path d="M276.5 2032.3V2043.8M427.7 2032.3V2043.8" stroke="#111" stroke-width="3.4" fill="none"/>
<text transform="translate(184.8 1673.2) scale(0.965 1)" text-anchor="end" font-weight="bold" font-size="26.3">0.0001</text>
<text transform="translate(184.8 1795.5) scale(0.965 1)" text-anchor="end" font-weight="bold" font-size="26.3">0.0001</text>
<text transform="translate(184.8 1917.8) scale(0.965 1)" text-anchor="end" font-weight="bold" font-size="26.3">0.0000</text>
<text transform="translate(184.8 2040.0) scale(0.965 1)" text-anchor="end" font-weight="bold" font-size="26.3">0.0000</text>
<text x="277.1" y="2083.3" text-anchor="middle" font-size="41">HC</text>
<text x="428.3" y="2083.3" text-anchor="middle" font-size="41">efOA</text>
<text transform="matrix(0.9493 0 0 1.0214 286.15 1645.8)" font-style="italic" font-size="41.5">MMP13</text>
<text transform="translate(98.0 1849.10) rotate(-90) scale(0.972 1)" text-anchor="middle" font-size="32.3">Relative Expression</text>
<text transform="matrix(1.0069 0 0 0.9667 18.17 1628.6)" font-size="70">h</text>
<rect x="718.9" y="1757.3" width="126.3" height="275.0" fill="#d3d3d3" stroke="#111" stroke-width="3.4" stroke-linejoin="round"/>
<rect x="870.5" y="1808.9" width="126.3" height="223.4" fill="#0f9ab4" stroke="#111" stroke-width="3.4" stroke-linejoin="round"/>
<path d="M782.0 1756.8V1745.0M751.2 1745.0H812.8" stroke="#111" stroke-width="3.4" stroke-linecap="round" fill="none"/>
<path d="M933.6 1808.4V1795.6M902.9 1795.6H964.4" stroke="#111" stroke-width="3.4" stroke-linecap="round" fill="none"/>
<path d="M706.5 1664.4V2032.3M696.5 2032.3H1010.3" stroke="#111" stroke-width="3.4" stroke-linecap="round" stroke-linejoin="round" fill="none"/>
<path d="M696.5 1665.4H706.5M696.5 1787.7H706.5M696.5 1910.0H706.5M696.5 2032.3H706.5" stroke="#111" stroke-width="3.4" stroke-linecap="round" fill="none"/>
<path d="M782.0 2032.3V2043.8M933.6 2032.3V2043.8" stroke="#111" stroke-width="3.4" fill="none"/>
<text transform="translate(694.0 1673.2) scale(0.965 1)" text-anchor="end" font-weight="bold" font-size="26.3">0.0015</text>
<text transform="translate(694.0 1795.5) scale(0.965 1)" text-anchor="end" font-weight="bold" font-size="26.3">0.0010</text>
<text transform="translate(694.0 1917.8) scale(0.965 1)" text-anchor="end" font-weight="bold" font-size="26.3">0.0005</text>
<text transform="translate(694.0 2040.0) scale(0.965 1)" text-anchor="end" font-weight="bold" font-size="26.3">0.0000</text>
<text x="782.6" y="2083.3" text-anchor="middle" font-size="41">HC</text>
<text x="934.2" y="2083.3" text-anchor="middle" font-size="41">efOA</text>
<text transform="matrix(0.9733 0 0 1.0393 791.61 1645.8)" font-style="italic" font-size="41.5">VEGFA</text>
<text transform="translate(604.1 1849.10) rotate(-90) scale(0.972 1)" text-anchor="middle" font-size="32.3">Relative Expression</text>
<text transform="matrix(0.9833 0 0 0.9725 526.68 1628.8)" font-size="70">i</text>
<text transform="matrix(0.9176 0 0 0.8875 925.5 1777.91)" font-weight="bold" font-size="44">*</text>
<rect x="1220.4" y="1998.1" width="124.2" height="34.2" fill="#d3d3d3" stroke="#111" stroke-width="3.4" stroke-linejoin="round"/>
<rect x="1370.9" y="1746.5" width="124.6" height="285.8" fill="#0f9ab4" stroke="#111" stroke-width="3.4" stroke-linejoin="round"/>
<path d="M1282.5 1997.6V1984.2M1251.7 1984.2H1313.3" stroke="#111" stroke-width="3.4" stroke-linecap="round" fill="none"/>
<path d="M1433.2 1746.0V1728.2M1402.4 1728.2H1464.0" stroke="#111" stroke-width="3.4" stroke-linecap="round" fill="none"/>
<path d="M1207.6 1664.4V2032.3M1197.6 2032.3H1508.0" stroke="#111" stroke-width="3.4" stroke-linecap="round" stroke-linejoin="round" fill="none"/>
<path d="M1197.6 1665.4H1207.6M1197.6 1787.7H1207.6M1197.6 1910.0H1207.6M1197.6 2032.3H1207.6" stroke="#111" stroke-width="3.4" stroke-linecap="round" fill="none"/>
<path d="M1282.5 2032.3V2043.8M1433.2 2032.3V2043.8" stroke="#111" stroke-width="3.4" fill="none"/>
<text transform="translate(1195.1 1673.2) scale(0.965 1)" text-anchor="end" font-weight="bold" font-size="26.3">0.03</text>
<text transform="translate(1195.1 1795.5) scale(0.965 1)" text-anchor="end" font-weight="bold" font-size="26.3">0.02</text>
<text transform="translate(1195.1 1917.8) scale(0.965 1)" text-anchor="end" font-weight="bold" font-size="26.3">0.01</text>
<text transform="translate(1195.1 2040.0) scale(0.965 1)" text-anchor="end" font-weight="bold" font-size="26.3">0.00</text>
<text x="1283.1" y="2083.3" text-anchor="middle" font-size="41">HC</text>
<text x="1433.8" y="2083.3" text-anchor="middle" font-size="41">efOA</text>
<text transform="matrix(0.9413 0 0 1.03 1308.48 1645.0)" font-style="italic" font-size="41.5">AQP1</text>
<text transform="translate(1133.4 1849.45) rotate(-90) scale(0.972 1)" text-anchor="middle" font-size="32.3">Relative Expression</text>
<text transform="matrix(1.0154 0 0 0.9667 1071.03 1628.0)" font-size="70">j</text>
<text transform="matrix(1.0431 0 0 0.9688 1405.4 1710.03)" font-weight="bold" font-size="44">***</text>
</svg>
</body></html>
